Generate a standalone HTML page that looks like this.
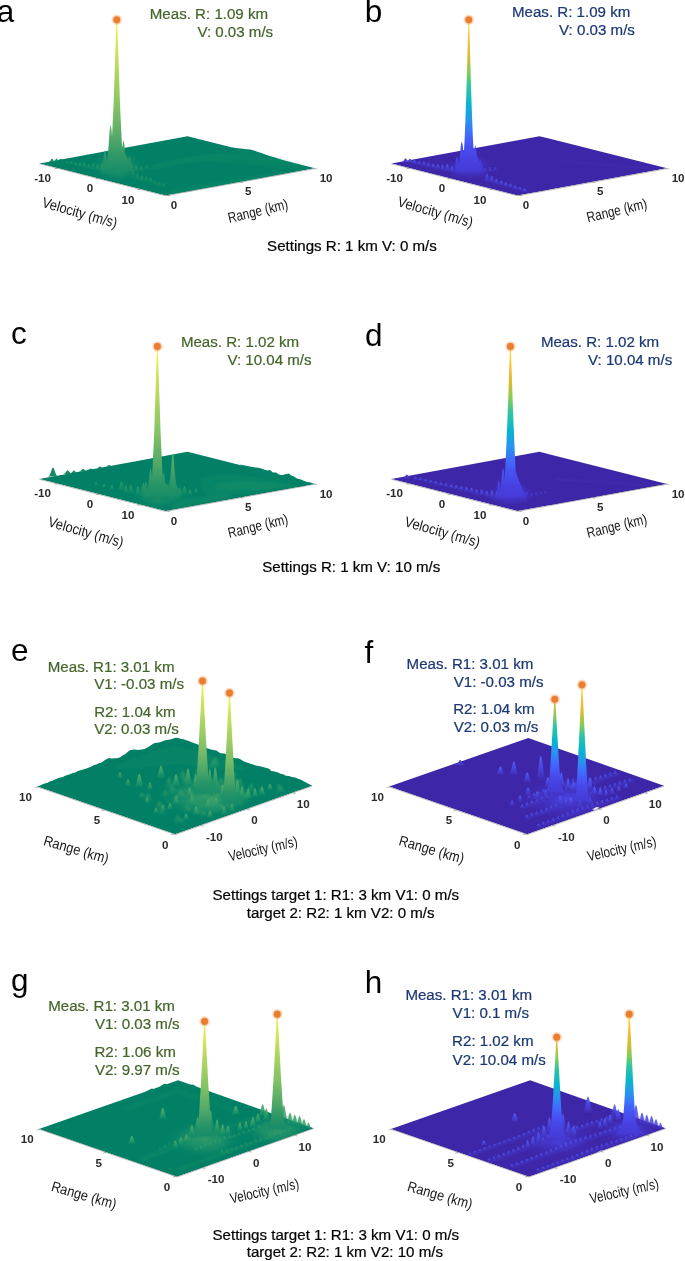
<!DOCTYPE html>
<html><head><meta charset="utf-8"><title>Range-velocity measurements</title>
<style>
html,body{margin:0;padding:0;background:#fff;}
body{width:685px;height:1261px;overflow:hidden;}
svg{display:block;font-family:"Liberation Sans",Arial,sans-serif;}
</style></head><body>
<svg width="685" height="1261" viewBox="0 0 685 1261">
<defs>
<linearGradient id="GLf" x1="0" y1="0" x2="0" y2="1"><stop offset="0" stop-color="#58af6a"/><stop offset="0.4" stop-color="#3aa26a" stop-opacity="0.95"/><stop offset="0.75" stop-color="#1a9269" stop-opacity="0.75"/><stop offset="1" stop-color="#008066" stop-opacity="0"/></linearGradient>
<linearGradient id="BLf" x1="0" y1="0" x2="0" y2="1"><stop offset="0" stop-color="#5566f8"/><stop offset="0.4" stop-color="#4c4ce6" stop-opacity="0.95"/><stop offset="0.75" stop-color="#4538c8" stop-opacity="0.75"/><stop offset="1" stop-color="#3E26A8" stop-opacity="0"/></linearGradient>
<radialGradient id="GH"><stop offset="0" stop-color="#3aa06b" stop-opacity="0.95"/><stop offset="0.5" stop-color="#2a976a" stop-opacity="0.6"/><stop offset="1" stop-color="#008066" stop-opacity="0"/></radialGradient>
<radialGradient id="BH"><stop offset="0" stop-color="#4a4af0" stop-opacity="0.95"/><stop offset="0.5" stop-color="#4538d0" stop-opacity="0.6"/><stop offset="1" stop-color="#3E26A8" stop-opacity="0"/></radialGradient>
<filter id="soft" x="-0.05" y="-0.2" width="1.1" height="1.4"><feGaussianBlur stdDeviation="0.45"/></filter>
<filter id="soft1" x="-0.05" y="-0.2" width="1.1" height="1.4"><feGaussianBlur stdDeviation="0.8"/></filter>
<filter id="soft2" x="-0.1" y="-0.3" width="1.2" height="1.6"><feGaussianBlur stdDeviation="1.3"/></filter>
<radialGradient id="glow"><stop offset="0.55" stop-color="#f08a3c" stop-opacity="0.6"/><stop offset="0.8" stop-color="#f39a55" stop-opacity="0.3"/><stop offset="1" stop-color="#f8b080" stop-opacity="0"/></radialGradient>
<clipPath id="c1"><polygon points="39.4,163.4 165.6,195.5 315,168.3 321,168.3 321,-23.8 33.4,-23.8 33.4,163.4"/></clipPath>
<linearGradient id="g2" gradientUnits="userSpaceOnUse" x1="0" y1="21.0" x2="0" y2="178.0"><stop offset="0" stop-color="#f4f34a"/><stop offset="0.08" stop-color="#e3ee52"/><stop offset="0.3" stop-color="#b5d95f"/><stop offset="0.55" stop-color="#84c266"/><stop offset="0.75" stop-color="#52a868"/><stop offset="0.86" stop-color="#2f9768"/><stop offset="0.95" stop-color="#1a8e68" stop-opacity="0.7"/><stop offset="1" stop-color="#008066" stop-opacity="0"/></linearGradient>
<clipPath id="c3"><polygon points="391.4,163.4 517.6,195.5 667,168.3 673,168.3 673,-23.8 385.4,-23.8 385.4,163.4"/></clipPath>
<linearGradient id="g4" gradientUnits="userSpaceOnUse" x1="0" y1="21.0" x2="0" y2="178.0"><stop offset="0" stop-color="#f9f015"/><stop offset="0.06" stop-color="#fbd02e"/><stop offset="0.14" stop-color="#f9ba38"/><stop offset="0.24" stop-color="#cdbe32"/><stop offset="0.33" stop-color="#81cc59"/><stop offset="0.41" stop-color="#31c69f"/><stop offset="0.53" stop-color="#08b5d0"/><stop offset="0.63" stop-color="#2796eb"/><stop offset="0.71" stop-color="#3e6fff"/><stop offset="0.8" stop-color="#4850f0"/><stop offset="0.885" stop-color="#4641e1"/><stop offset="0.95" stop-color="#463cd8" stop-opacity="0.7"/><stop offset="1" stop-color="#3E26A8" stop-opacity="0"/></linearGradient>
<clipPath id="c5"><polygon points="39.4,479 165.6,511.1 315,483.9 321,483.9 321,291.8 33.4,291.8 33.4,479"/></clipPath>
<linearGradient id="g6" gradientUnits="userSpaceOnUse" x1="0" y1="347.5" x2="0" y2="503.0"><stop offset="0" stop-color="#f4f34a"/><stop offset="0.08" stop-color="#e3ee52"/><stop offset="0.3" stop-color="#b5d95f"/><stop offset="0.55" stop-color="#84c266"/><stop offset="0.75" stop-color="#52a868"/><stop offset="0.86" stop-color="#2f9768"/><stop offset="0.95" stop-color="#1a8e68" stop-opacity="0.7"/><stop offset="1" stop-color="#008066" stop-opacity="0"/></linearGradient>
<clipPath id="c7"><polygon points="391.4,479 517.6,511.1 667,483.9 673,483.9 673,291.8 385.4,291.8 385.4,479"/></clipPath>
<linearGradient id="g8" gradientUnits="userSpaceOnUse" x1="0" y1="347.8" x2="0" y2="504.0"><stop offset="0" stop-color="#f9f015"/><stop offset="0.06" stop-color="#fbd02e"/><stop offset="0.14" stop-color="#f9ba38"/><stop offset="0.24" stop-color="#cdbe32"/><stop offset="0.33" stop-color="#81cc59"/><stop offset="0.41" stop-color="#31c69f"/><stop offset="0.53" stop-color="#08b5d0"/><stop offset="0.63" stop-color="#2796eb"/><stop offset="0.71" stop-color="#3e6fff"/><stop offset="0.8" stop-color="#4850f0"/><stop offset="0.885" stop-color="#4641e1"/><stop offset="0.95" stop-color="#463cd8" stop-opacity="0.7"/><stop offset="1" stop-color="#3E26A8" stop-opacity="0"/></linearGradient>
<clipPath id="c9"><polygon points="37.2,786.5 175.2,834.3 312,785.8 318,785.8 318,577.9 31.2,577.9 31.2,786.5"/></clipPath>
<linearGradient id="g10" gradientUnits="userSpaceOnUse" x1="0" y1="682.0" x2="0" y2="797.0"><stop offset="0" stop-color="#f4f34a"/><stop offset="0.08" stop-color="#e3ee52"/><stop offset="0.3" stop-color="#b5d95f"/><stop offset="0.55" stop-color="#84c266"/><stop offset="0.75" stop-color="#52a868"/><stop offset="0.86" stop-color="#2f9768"/><stop offset="0.95" stop-color="#1a8e68" stop-opacity="0.7"/><stop offset="1" stop-color="#008066" stop-opacity="0"/></linearGradient>
<linearGradient id="g11" gradientUnits="userSpaceOnUse" x1="0" y1="694.0" x2="0" y2="806.0"><stop offset="0" stop-color="#f4f34a"/><stop offset="0.08" stop-color="#e3ee52"/><stop offset="0.3" stop-color="#b5d95f"/><stop offset="0.55" stop-color="#84c266"/><stop offset="0.75" stop-color="#52a868"/><stop offset="0.86" stop-color="#2f9768"/><stop offset="0.95" stop-color="#1a8e68" stop-opacity="0.7"/><stop offset="1" stop-color="#008066" stop-opacity="0"/></linearGradient>
<clipPath id="c12"><polygon points="389.2,786.5 527.2,834.3 664,785.8 670,785.8 670,577.9 383.2,577.9 383.2,786.5"/></clipPath>
<linearGradient id="g13" gradientUnits="userSpaceOnUse" x1="0" y1="685.5" x2="0" y2="806.0"><stop offset="0" stop-color="#f9f015"/><stop offset="0.06" stop-color="#fbd02e"/><stop offset="0.14" stop-color="#f9ba38"/><stop offset="0.24" stop-color="#cdbe32"/><stop offset="0.33" stop-color="#81cc59"/><stop offset="0.41" stop-color="#31c69f"/><stop offset="0.53" stop-color="#08b5d0"/><stop offset="0.63" stop-color="#2796eb"/><stop offset="0.71" stop-color="#3e6fff"/><stop offset="0.8" stop-color="#4850f0"/><stop offset="0.885" stop-color="#4641e1"/><stop offset="0.95" stop-color="#463cd8" stop-opacity="0.7"/><stop offset="1" stop-color="#3E26A8" stop-opacity="0"/></linearGradient>
<linearGradient id="g14" gradientUnits="userSpaceOnUse" x1="0" y1="676.5" x2="0" y2="797.0"><stop offset="0" stop-color="#f9f015"/><stop offset="0.06" stop-color="#fbd02e"/><stop offset="0.14" stop-color="#f9ba38"/><stop offset="0.24" stop-color="#cdbe32"/><stop offset="0.33" stop-color="#81cc59"/><stop offset="0.41" stop-color="#31c69f"/><stop offset="0.53" stop-color="#08b5d0"/><stop offset="0.63" stop-color="#2796eb"/><stop offset="0.71" stop-color="#3e6fff"/><stop offset="0.8" stop-color="#4850f0"/><stop offset="0.885" stop-color="#4641e1"/><stop offset="0.95" stop-color="#463cd8" stop-opacity="0.7"/><stop offset="1" stop-color="#3E26A8" stop-opacity="0"/></linearGradient>
<clipPath id="c15"><polygon points="39,1128.9 177,1176.7 313.8,1128.2 319.8,1128.2 319.8,920.3 33,920.3 33,1128.9"/></clipPath>
<linearGradient id="g16" gradientUnits="userSpaceOnUse" x1="0" y1="1022.4" x2="0" y2="1139.0"><stop offset="0" stop-color="#f4f34a"/><stop offset="0.08" stop-color="#e3ee52"/><stop offset="0.3" stop-color="#b5d95f"/><stop offset="0.55" stop-color="#84c266"/><stop offset="0.75" stop-color="#52a868"/><stop offset="0.86" stop-color="#2f9768"/><stop offset="0.95" stop-color="#1a8e68" stop-opacity="0.7"/><stop offset="1" stop-color="#008066" stop-opacity="0"/></linearGradient>
<linearGradient id="g17" gradientUnits="userSpaceOnUse" x1="0" y1="1015.2" x2="0" y2="1132.0"><stop offset="0" stop-color="#f4f34a"/><stop offset="0.08" stop-color="#e3ee52"/><stop offset="0.3" stop-color="#b5d95f"/><stop offset="0.55" stop-color="#84c266"/><stop offset="0.75" stop-color="#52a868"/><stop offset="0.86" stop-color="#2f9768"/><stop offset="0.95" stop-color="#1a8e68" stop-opacity="0.7"/><stop offset="1" stop-color="#008066" stop-opacity="0"/></linearGradient>
<clipPath id="c18"><polygon points="391,1128.9 529,1176.7 665.8,1128.2 671.8,1128.2 671.8,920.3 385,920.3 385,1128.9"/></clipPath>
<linearGradient id="g19" gradientUnits="userSpaceOnUse" x1="0" y1="1015.2" x2="0" y2="1139.0"><stop offset="0" stop-color="#f9f015"/><stop offset="0.06" stop-color="#fbd02e"/><stop offset="0.14" stop-color="#f9ba38"/><stop offset="0.24" stop-color="#cdbe32"/><stop offset="0.33" stop-color="#81cc59"/><stop offset="0.41" stop-color="#31c69f"/><stop offset="0.53" stop-color="#08b5d0"/><stop offset="0.63" stop-color="#2796eb"/><stop offset="0.71" stop-color="#3e6fff"/><stop offset="0.8" stop-color="#4850f0"/><stop offset="0.885" stop-color="#4641e1"/><stop offset="0.95" stop-color="#463cd8" stop-opacity="0.7"/><stop offset="1" stop-color="#3E26A8" stop-opacity="0"/></linearGradient>
<linearGradient id="g20" gradientUnits="userSpaceOnUse" x1="0" y1="1017.0" x2="0" y2="1143.0"><stop offset="0" stop-color="#f9f015"/><stop offset="0.06" stop-color="#fbd02e"/><stop offset="0.14" stop-color="#f9ba38"/><stop offset="0.24" stop-color="#cdbe32"/><stop offset="0.33" stop-color="#81cc59"/><stop offset="0.41" stop-color="#31c69f"/><stop offset="0.53" stop-color="#08b5d0"/><stop offset="0.63" stop-color="#2796eb"/><stop offset="0.71" stop-color="#3e6fff"/><stop offset="0.8" stop-color="#4850f0"/><stop offset="0.885" stop-color="#4641e1"/><stop offset="0.95" stop-color="#463cd8" stop-opacity="0.7"/><stop offset="1" stop-color="#3E26A8" stop-opacity="0"/></linearGradient>
</defs>
<rect width="685" height="1261" fill="#fff"/>
<g opacity="0.999">
<g clip-path="url(#c1)">
<polygon points="39.4,163.4 165.6,195.5 315,168.3 187.5,136.2" fill="#008066"/>
<g filter="url(#soft)" opacity="1">
<path d="M48.5,162 L48.5,162 L49.1,161.9 L49.7,161.6 L50.2,161 L50.8,160 L51.4,159 L52,158.6 L52.6,159 L53.2,160 L53.8,161 L54.3,161.6 L54.9,161.9 L55.5,162 L55.5,162Z" fill="#1a8e69"/>
<path d="M53.3,161.5 L53.3,161.5 L53.8,161.4 L54.4,161.1 L54.9,160.6 L55.4,159.7 L56,158.8 L56.5,158.4 L57,158.8 L57.6,159.7 L58.1,160.6 L58.6,161.1 L59.2,161.4 L59.7,161.5 L59.7,161.5Z" fill="#1a8e69"/>
<path d="M57.8,160 L57.8,160 L58.3,160 L58.9,159.9 L59.4,159.6 L59.9,159.3 L60.5,158.9 L61,158.8 L61.5,158.9 L62.1,159.3 L62.6,159.6 L63.1,159.9 L63.7,160 L64.2,160 L64.2,160Z" fill="#1a8e69"/>
</g>
<polygon points="232,147.4 240,148.6 243,148.8 246,149.2 250,149.6 254,150.6 258,152 262,153.2 268,155.6 275,157.4 285,161 260,160 236,152" fill="#028166" opacity="1"/>
<path filter="url(#soft2)" d="M150,166 C175,158 200,154 232,153 C262,154 285,160 305,167 C280,166 250,161 225,160 C195,161 172,165 150,170 Z" fill="#118b68" opacity="0.55"/>
<path filter="url(#soft2)" d="M170,190 L250,176 L290,172 L300,173.5 L230,187 L175,196 Z" fill="#0f8a68" opacity="0.45"/>
<path filter="url(#soft2)" d="M205,158 L300,166 L312,168.5 L300,170 L215,162 Z" fill="#0d8a68" opacity="0.45"/>
<path filter="url(#soft2)" d="M236,149.5 L262,154 L262,156.5 L236,152 Z" fill="#0d8a68" opacity="0.5"/>
<ellipse cx="117.5" cy="166" rx="27" ry="17" fill="url(#GH)" opacity="1"/>
<g filter="url(#soft)" opacity="0.45">
<path d="M97.5,173 L97.5,172.9 L98.3,172.6 L99,171.8 L99.8,170 L100.5,167.3 L101.3,164.5 L102,163.3 L102.7,164.5 L103.5,167.3 L104.2,170 L105,171.8 L105.7,172.6 L106.5,172.9 L106.5,173Z" fill="url(#GLf)"/>
<path d="M93.1,171.9 L93.1,171.8 L93.9,171.6 L94.6,170.9 L95.4,169.5 L96.1,167.3 L96.9,165 L97.6,164.1 L98.3,165 L99.1,167.3 L99.8,169.5 L100.6,170.9 L101.3,171.6 L102.1,171.8 L102.1,171.9Z" fill="url(#GLf)"/>
<path d="M88.7,170.8 L88.7,170.7 L89.5,170.5 L90.2,169.8 L91,168.2 L91.7,165.8 L92.5,163.4 L93.2,162.3 L93.9,163.4 L94.7,165.8 L95.4,168.2 L96.2,169.8 L96.9,170.5 L97.7,170.7 L97.7,170.8Z" fill="url(#GLf)"/>
<path d="M84.3,169.7 L84.3,169.6 L85.1,169.5 L85.8,169 L86.6,167.9 L87.3,166.2 L88.1,164.6 L88.8,163.9 L89.5,164.6 L90.3,166.2 L91,167.9 L91.8,169 L92.5,169.5 L93.3,169.6 L93.3,169.7Z" fill="url(#GLf)"/>
<path d="M79.9,168.6 L79.9,168.5 L80.7,168.4 L81.4,167.8 L82.2,166.7 L82.9,164.9 L83.7,163.1 L84.4,162.3 L85.1,163.1 L85.9,164.9 L86.6,166.7 L87.4,167.8 L88.1,168.4 L88.9,168.5 L88.9,168.6Z" fill="url(#GLf)"/>
<path d="M75.5,167.5 L75.5,167.5 L76.3,167.3 L77,166.9 L77.8,165.9 L78.5,164.4 L79.3,162.9 L80,162.3 L80.7,162.9 L81.5,164.4 L82.2,165.9 L83,166.9 L83.7,167.3 L84.5,167.5 L84.5,167.5Z" fill="url(#GLf)"/>
<path d="M71.1,166.4 L71.1,166.4 L71.9,166.2 L72.6,165.9 L73.4,165.1 L74.1,164 L74.9,162.8 L75.6,162.3 L76.3,162.8 L77.1,164 L77.8,165.1 L78.6,165.9 L79.3,166.2 L80.1,166.4 L80.1,166.4Z" fill="url(#GLf)"/>
<path d="M66.7,165.3 L66.7,165.3 L67.5,165.1 L68.2,164.8 L69,164 L69.7,162.7 L70.5,161.4 L71.2,160.9 L71.9,161.4 L72.7,162.7 L73.4,164 L74.2,164.8 L74.9,165.1 L75.7,165.3 L75.7,165.3Z" fill="url(#GLf)"/>
<path d="M62.3,164.2 L62.3,164.2 L63.1,164.1 L63.8,163.8 L64.6,163.2 L65.3,162.2 L66.1,161.2 L66.8,160.8 L67.5,161.2 L68.3,162.2 L69,163.2 L69.8,163.8 L70.5,164.1 L71.3,164.2 L71.3,164.2Z" fill="url(#GLf)"/>
</g>
<g filter="url(#soft)" opacity="0.4">
<path d="M128.5,180 L128.5,179.9 L129.3,179.6 L130,178.6 L130.8,176.6 L131.5,173.4 L132.3,170.2 L133,168.8 L133.7,170.2 L134.5,173.4 L135.2,176.6 L136,178.6 L136.7,179.6 L137.5,179.9 L137.5,180Z" fill="url(#GLf)"/>
<path d="M132.9,181.1 L132.9,181 L133.7,180.8 L134.4,180.1 L135.2,178.6 L135.9,176.3 L136.7,174 L137.4,173 L138.1,174 L138.9,176.3 L139.6,178.6 L140.4,180.1 L141.1,180.8 L141.9,181 L141.9,181.1Z" fill="url(#GLf)"/>
<path d="M137.3,182.2 L137.3,182.1 L138.1,181.9 L138.8,181.3 L139.6,180 L140.3,178 L141.1,176 L141.8,175.1 L142.5,176 L143.3,178 L144,180 L144.8,181.3 L145.5,181.9 L146.3,182.1 L146.3,182.2Z" fill="url(#GLf)"/>
<path d="M141.7,183.3 L141.7,183.2 L142.5,183 L143.2,182.4 L144,181.1 L144.7,179 L145.5,177 L146.2,176.1 L146.9,177 L147.7,179 L148.4,181.1 L149.2,182.4 L149.9,183 L150.7,183.2 L150.7,183.3Z" fill="url(#GLf)"/>
<path d="M146.1,184.4 L146.1,184.3 L146.9,184.1 L147.6,183.5 L148.4,182.2 L149.1,180.1 L149.9,178 L150.6,177.1 L151.3,178 L152.1,180.1 L152.8,182.2 L153.6,183.5 L154.3,184.1 L155.1,184.3 L155.1,184.4Z" fill="url(#GLf)"/>
<path d="M150.5,185.5 L150.5,185.5 L151.3,185.3 L152,184.9 L152.8,184 L153.5,182.6 L154.3,181.2 L155,180.6 L155.7,181.2 L156.5,182.6 L157.2,184 L158,184.9 L158.7,185.3 L159.5,185.5 L159.5,185.5Z" fill="url(#GLf)"/>
<path d="M154.9,186.6 L154.9,186.6 L155.7,186.4 L156.4,186 L157.2,185.2 L157.9,183.9 L158.7,182.6 L159.4,182.1 L160.1,182.6 L160.9,183.9 L161.6,185.2 L162.4,186 L163.1,186.4 L163.9,186.6 L163.9,186.6Z" fill="url(#GLf)"/>
<path d="M159.3,187.7 L159.3,187.7 L160.1,187.5 L160.8,187.1 L161.6,186.3 L162.3,185 L163.1,183.6 L163.8,183.1 L164.5,183.6 L165.3,185 L166,186.3 L166.8,187.1 L167.5,187.5 L168.3,187.7 L168.3,187.7Z" fill="url(#GLf)"/>
</g>
<g filter="url(#soft)" opacity="0.4">
<path d="M126.5,173.5 L126.5,173.4 L127.3,173.1 L128,172.3 L128.8,170.4 L129.5,167.6 L130.3,164.7 L131,163.4 L131.7,164.7 L132.5,167.6 L133.2,170.4 L134,172.3 L134.7,173.1 L135.5,173.4 L135.5,173.5Z" fill="url(#GLf)"/>
<path d="M131.7,172.6 L131.7,172.5 L132.5,172.3 L133.2,171.7 L134,170.4 L134.7,168.3 L135.5,166.2 L136.2,165.3 L136.9,166.2 L137.7,168.3 L138.4,170.4 L139.2,171.7 L139.9,172.3 L140.7,172.5 L140.7,172.6Z" fill="url(#GLf)"/>
<path d="M136.9,171.7 L136.9,171.6 L137.7,171.5 L138.4,171 L139.2,169.9 L139.9,168.3 L140.7,166.7 L141.4,166 L142.1,166.7 L142.9,168.3 L143.6,169.9 L144.4,171 L145.1,171.5 L145.9,171.6 L145.9,171.7Z" fill="url(#GLf)"/>
<path d="M142.1,170.8 L142.1,170.7 L142.9,170.6 L143.6,170.1 L144.4,169 L145.1,167.3 L145.9,165.6 L146.6,164.9 L147.3,165.6 L148.1,167.3 L148.8,169 L149.6,170.1 L150.3,170.6 L151.1,170.7 L151.1,170.8Z" fill="url(#GLf)"/>
</g>
<path d="M90.3,180 L90.3,179.7 L94.8,178.5 L99.4,175.2 L103.9,168.1 L108.4,157 L113,145.8 L117.5,141 L122,145.8 L126.6,157 L131.1,168.1 L135.6,175.2 L140.2,178.5 L144.7,179.7 L144.7,180Z" fill="url(#g2)"/>
<path d="M104.8,172 L104.8,171.6 L105.8,170.2 L106.8,166.2 L107.7,157.5 L108.7,144 L109.6,130.4 L110.6,124.6 L111.6,130.4 L112.5,144 L113.5,157.5 L114.4,166.2 L115.4,170.2 L116.4,171.6 L116.4,172Z" fill="url(#g2)"/>
<path d="M118.7,174 L118.7,173.7 L119.5,172.7 L120.3,169.9 L121.1,163.6 L121.9,153.9 L122.7,144.2 L123.5,140 L124.3,144.2 L125.1,153.9 L125.9,163.6 L126.7,169.9 L127.5,172.7 L128.3,173.7 L128.3,174Z" fill="url(#g2)"/>
<path d="M99.9,176 L99.9,175.8 L100.7,175 L101.6,172.8 L102.4,168 L103.3,160.6 L104.1,153.2 L105,150 L105.9,153.2 L106.7,160.6 L107.6,168 L108.4,172.8 L109.3,175 L110.1,175.8 L110.1,176Z" fill="url(#g2)"/>
<path d="M124.7,177 L124.7,176.8 L125.5,176.2 L126.3,174.4 L127.1,170.6 L127.9,164.6 L128.7,158.6 L129.5,156 L130.3,158.6 L131.1,164.6 L131.9,170.6 L132.7,174.4 L133.5,176.2 L134.3,176.8 L134.3,177Z" fill="url(#g2)"/>
<polygon points="116.4,21 116,31.6 115.7,42.3 115.3,52.9 115,63.6 114.6,74.2 114.2,84.9 113.9,95.5 113.5,106.1 113,116.8 112.5,127.4 112,138.1 111.4,148.7 110.7,159.4 109.9,170 123.7,170 122.9,159.4 122.2,148.7 121.6,138.1 121.1,127.4 120.6,116.8 120.1,106.1 119.7,95.5 119.4,84.9 119,74.2 118.6,63.6 118.3,52.9 117.9,42.3 117.6,31.6 117.2,21" fill="url(#g2)"/>
<circle cx="116.8" cy="19.8" r="5.9" fill="url(#glow)"/><circle cx="116.8" cy="19.8" r="3.4" fill="#e97d30"/>
</g>
<path d="M39.4,163.7 L165.6,195.8 L315,168.6 M57.7,168.1 l-3.1,0.6 M98.7,178.5 l-3.1,0.6 M140.4,189.1 l-3.1,0.6 M167.1,195.2 l3.1,0.8 M240.3,181.9 l3.1,0.8 M314.3,168.4 l3.1,0.8" fill="none" stroke="#555" stroke-width="0.55" opacity="0.75"/>
<text x="42.6" y="181.5" font-size="11.6" fill="#2a2a2a" text-anchor="middle" font-weight="bold">-10</text>
<text x="90" y="192.4" font-size="11.6" fill="#2a2a2a" text-anchor="middle" font-weight="bold">0</text>
<text x="128" y="203.5" font-size="11.6" fill="#2a2a2a" text-anchor="middle" font-weight="bold">10</text>
<text x="174" y="209.1" font-size="11.6" fill="#2a2a2a" text-anchor="middle" font-weight="bold">0</text>
<text x="248.2" y="195.3" font-size="11.6" fill="#2a2a2a" text-anchor="middle" font-weight="bold">5</text>
<text x="326.1" y="181.9" font-size="11.6" fill="#2a2a2a" text-anchor="middle" font-weight="bold">10</text>
<text transform="translate(78.4,217.4) rotate(16) scale(0.886,1)" font-size="14.6" fill="#161616" text-anchor="middle">Velocity (m/s)</text>
<text transform="translate(259.1,215.8) rotate(-13.6) scale(0.805,1)" font-size="14.6" fill="#161616" text-anchor="middle">Range (km)</text>
<text x="-3.2" y="22.4" font-size="31.5" fill="#000" text-anchor="start" font-weight="normal">a</text>
<text x="149.8" y="18.9" font-size="15.1" fill="#44652a" text-anchor="start" font-weight="normal" stroke="#44652a" stroke-width="0.22">Meas. R: 1.09 km</text>
<text x="197.4" y="36.6" font-size="15.1" fill="#44652a" text-anchor="start" font-weight="normal" stroke="#44652a" stroke-width="0.22">V: 0.03 m/s</text>
<g clip-path="url(#c3)">
<polygon points="391.4,163.4 517.6,195.5 667,168.3 539.5,136.2" fill="#3E26A8"/>
<g filter="url(#soft)" opacity="1">
<path d="M401.7,162 L401.7,162 L402.3,161.9 L402.9,161.5 L403.6,160.8 L404.2,159.8 L404.9,158.7 L405.5,158.2 L406.1,158.7 L406.8,159.8 L407.4,160.8 L408.1,161.5 L408.7,161.9 L409.3,162 L409.3,162Z" fill="#4a3fc8"/>
<path d="M406.5,161.5 L406.5,161.5 L407.1,161.4 L407.7,161.2 L408.2,160.7 L408.8,159.9 L409.4,159.1 L410,158.8 L410.6,159.1 L411.2,159.9 L411.8,160.7 L412.3,161.2 L412.9,161.4 L413.5,161.5 L413.5,161.5Z" fill="#4a3fc8"/>
</g>
<path filter="url(#soft2)" d="M560,160.5 L640,166.5 L660,168.6 L640,168.2 L560,162.5 Z" fill="#4a35b8" opacity="0.45"/>
<ellipse cx="470" cy="167" rx="25" ry="15" fill="url(#BH)" opacity="1"/>
<g filter="url(#soft)" opacity="0.8">
<path d="M447.2,174 L447.2,173.9 L448,173.7 L448.8,173 L449.6,171.4 L450.4,169 L451.2,166.6 L452,165.6 L452.8,166.6 L453.6,169 L454.4,171.4 L455.2,173 L456,173.7 L456.8,173.9 L456.8,174Z" fill="url(#BLf)"/>
<path d="M442.5,172.8 L442.5,172.7 L443.3,172.5 L444.1,171.7 L444.9,170 L445.7,167.3 L446.5,164.6 L447.3,163.5 L448.1,164.6 L448.9,167.3 L449.7,170 L450.5,171.7 L451.3,172.5 L452.1,172.7 L452.1,172.8Z" fill="url(#BLf)"/>
<path d="M437.8,171.6 L437.8,171.5 L438.6,171.3 L439.4,170.7 L440.2,169.4 L441,167.3 L441.8,165.2 L442.6,164.3 L443.4,165.2 L444.2,167.3 L445,169.4 L445.8,170.7 L446.6,171.3 L447.4,171.5 L447.4,171.6Z" fill="url(#BLf)"/>
<path d="M433.1,170.4 L433.1,170.3 L433.9,170.2 L434.7,169.6 L435.5,168.4 L436.3,166.6 L437.1,164.8 L437.9,164 L438.7,164.8 L439.5,166.6 L440.3,168.4 L441.1,169.6 L441.9,170.2 L442.7,170.3 L442.7,170.4Z" fill="url(#BLf)"/>
<path d="M428.4,169.2 L428.4,169.1 L429.2,169 L430,168.5 L430.8,167.4 L431.6,165.8 L432.4,164.2 L433.2,163.5 L434,164.2 L434.8,165.8 L435.6,167.4 L436.4,168.5 L437.2,169 L438,169.1 L438,169.2Z" fill="url(#BLf)"/>
<path d="M423.7,168 L423.7,168 L424.5,167.8 L425.3,167.3 L426.1,166.3 L426.9,164.8 L427.7,163.2 L428.5,162.5 L429.3,163.2 L430.1,164.8 L430.9,166.3 L431.7,167.3 L432.5,167.8 L433.3,168 L433.3,168Z" fill="url(#BLf)"/>
<path d="M419,166.8 L419,166.8 L419.8,166.6 L420.6,166.1 L421.4,165.1 L422.2,163.5 L423,161.9 L423.8,161.2 L424.6,161.9 L425.4,163.5 L426.2,165.1 L427,166.1 L427.8,166.6 L428.6,166.8 L428.6,166.8Z" fill="url(#BLf)"/>
<path d="M414.3,165.6 L414.3,165.6 L415.1,165.4 L415.9,165.1 L416.7,164.2 L417.5,163 L418.3,161.7 L419.1,161.1 L419.9,161.7 L420.7,163 L421.5,164.2 L422.3,165.1 L423.1,165.4 L423.9,165.6 L423.9,165.6Z" fill="url(#BLf)"/>
<path d="M409.6,164.4 L409.6,164.4 L410.4,164.2 L411.2,163.9 L412,163 L412.8,161.8 L413.6,160.5 L414.4,160 L415.2,160.5 L416,161.8 L416.8,163 L417.6,163.9 L418.4,164.2 L419.2,164.4 L419.2,164.4Z" fill="url(#BLf)"/>
<path d="M404.9,163.2 L404.9,163.2 L405.7,163 L406.5,162.7 L407.3,161.9 L408.1,160.8 L408.9,159.6 L409.7,159.1 L410.5,159.6 L411.3,160.8 L412.1,161.9 L412.9,162.7 L413.7,163 L414.5,163.2 L414.5,163.2Z" fill="url(#BLf)"/>
</g>
<g filter="url(#soft)" opacity="0.8">
<path d="M482.2,182.7 L482.2,182.6 L483,182.4 L483.8,181.6 L484.6,179.9 L485.4,177.3 L486.2,174.6 L487,173.5 L487.8,174.6 L488.6,177.3 L489.4,179.9 L490.2,181.6 L491,182.4 L491.8,182.6 L491.8,182.7Z" fill="url(#BLf)"/>
<path d="M486.9,183.9 L486.9,183.8 L487.7,183.6 L488.5,182.9 L489.3,181.3 L490.1,178.9 L490.9,176.5 L491.7,175.4 L492.5,176.5 L493.3,178.9 L494.1,181.3 L494.9,182.9 L495.7,183.6 L496.5,183.8 L496.5,183.9Z" fill="url(#BLf)"/>
<path d="M491.6,185.1 L491.6,185 L492.4,184.9 L493.2,184.3 L494,183.1 L494.8,181.2 L495.6,179.3 L496.4,178.5 L497.2,179.3 L498,181.2 L498.8,183.1 L499.6,184.3 L500.4,184.9 L501.2,185 L501.2,185.1Z" fill="url(#BLf)"/>
<path d="M496.3,186.3 L496.3,186.2 L497.1,186.1 L497.9,185.6 L498.7,184.5 L499.5,182.8 L500.3,181.1 L501.1,180.4 L501.9,181.1 L502.7,182.8 L503.5,184.5 L504.3,185.6 L505.1,186.1 L505.9,186.2 L505.9,186.3Z" fill="url(#BLf)"/>
<path d="M501,187.5 L501,187.5 L501.8,187.3 L502.6,186.8 L503.4,185.8 L504.2,184.3 L505,182.7 L505.8,182 L506.6,182.7 L507.4,184.3 L508.2,185.8 L509,186.8 L509.8,187.3 L510.6,187.5 L510.6,187.5Z" fill="url(#BLf)"/>
<path d="M505.7,188.7 L505.7,188.7 L506.5,188.5 L507.3,188 L508.1,187 L508.9,185.5 L509.7,183.9 L510.5,183.2 L511.3,183.9 L512.1,185.5 L512.9,187 L513.7,188 L514.5,188.5 L515.3,188.7 L515.3,188.7Z" fill="url(#BLf)"/>
<path d="M510.4,189.9 L510.4,189.9 L511.2,189.7 L512,189.3 L512.8,188.5 L513.6,187.1 L514.4,185.8 L515.2,185.2 L516,185.8 L516.8,187.1 L517.6,188.5 L518.4,189.3 L519.2,189.7 L520,189.9 L520,189.9Z" fill="url(#BLf)"/>
<path d="M515.1,191.1 L515.1,191.1 L515.9,190.9 L516.7,190.6 L517.5,189.8 L518.3,188.7 L519.1,187.5 L519.9,187 L520.7,187.5 L521.5,188.7 L522.3,189.8 L523.1,190.6 L523.9,190.9 L524.7,191.1 L524.7,191.1Z" fill="url(#BLf)"/>
<path d="M519.8,192.3 L519.8,192.3 L520.6,192.2 L521.4,191.8 L522.2,191.1 L523,190 L523.8,188.8 L524.6,188.3 L525.4,188.8 L526.2,190 L527,191.1 L527.8,191.8 L528.6,192.2 L529.4,192.3 L529.4,192.3Z" fill="url(#BLf)"/>
</g>
<g filter="url(#soft)" opacity="0.5">
<path d="M475.8,174.5 L475.8,174.4 L476.5,174.2 L477.2,173.6 L477.9,172.2 L478.6,170.2 L479.3,168 L480,167.1 L480.7,168 L481.4,170.2 L482.1,172.2 L482.8,173.6 L483.5,174.2 L484.2,174.4 L484.2,174.5Z" fill="url(#BLf)"/>
<path d="M480.8,173.6 L480.8,173.5 L481.5,173.4 L482.2,172.9 L482.9,171.8 L483.6,170.2 L484.3,168.5 L485,167.8 L485.7,168.5 L486.4,170.2 L487.1,171.8 L487.8,172.9 L488.5,173.4 L489.2,173.5 L489.2,173.6Z" fill="url(#BLf)"/>
<path d="M485.8,172.7 L485.8,172.6 L486.5,172.5 L487.2,172 L487.9,170.9 L488.6,169.2 L489.3,167.5 L490,166.8 L490.7,167.5 L491.4,169.2 L492.1,170.9 L492.8,172 L493.5,172.5 L494.2,172.6 L494.2,172.7Z" fill="url(#BLf)"/>
<path d="M490.8,171.8 L490.8,171.8 L491.5,171.6 L492.2,171.2 L492.9,170.3 L493.6,168.9 L494.3,167.5 L495,166.9 L495.7,167.5 L496.4,168.9 L497.1,170.3 L497.8,171.2 L498.5,171.6 L499.2,171.8 L499.2,171.8Z" fill="url(#BLf)"/>
</g>
<path d="M440.7,182 L440.7,181.7 L445.5,180.7 L450.3,177.6 L455.1,171 L459.9,160.7 L464.7,150.4 L469.5,146 L474.3,150.4 L479.1,160.7 L483.9,171 L488.7,177.6 L493.5,180.7 L498.3,181.7 L498.3,182Z" fill="url(#g4)"/>
<path d="M456.4,174 L456.4,173.7 L457.3,172.8 L458.2,170 L459.1,163.9 L460,154.5 L460.9,145.1 L461.8,141 L462.7,145.1 L463.6,154.5 L464.5,163.9 L465.4,170 L466.3,172.8 L467.2,173.7 L467.2,174Z" fill="url(#g4)"/>
<path d="M470.2,176 L470.2,175.7 L471,174.8 L471.9,172.2 L472.7,166.5 L473.6,157.7 L474.4,148.8 L475.3,145 L476.2,148.8 L477,157.7 L477.9,166.5 L478.7,172.2 L479.6,174.8 L480.4,175.7 L480.4,176Z" fill="url(#g4)"/>
<path d="M451.6,178 L451.6,177.8 L452.5,177.2 L453.4,175.3 L454.3,171.3 L455.2,165 L456.1,158.7 L457,156 L457.9,158.7 L458.8,165 L459.7,171.3 L460.6,175.3 L461.5,177.2 L462.4,177.8 L462.4,178Z" fill="url(#g4)"/>
<path d="M475.1,179 L475.1,178.8 L476,178.3 L476.9,176.6 L477.8,172.9 L478.7,167.2 L479.6,161.5 L480.5,159 L481.4,161.5 L482.3,167.2 L483.2,172.9 L484.1,176.6 L485,178.3 L485.9,178.8 L485.9,179Z" fill="url(#g4)"/>
<polygon points="468.4,21 468.1,31.6 467.8,42.3 467.5,52.9 467.2,63.6 466.9,74.2 466.6,84.9 466.3,95.5 465.9,106.1 465.5,116.8 465.1,127.4 464.7,138.1 464.1,148.7 463.5,159.4 462.7,170 474.9,170 474.1,159.4 473.5,148.7 472.9,138.1 472.5,127.4 472.1,116.8 471.7,106.1 471.3,95.5 471,84.9 470.7,74.2 470.4,63.6 470.1,52.9 469.8,42.3 469.5,31.6 469.2,21" fill="url(#g4)"/>
<circle cx="468.8" cy="19.8" r="5.9" fill="url(#glow)"/><circle cx="468.8" cy="19.8" r="3.4" fill="#e97d30"/>
</g>
<path d="M391.4,163.7 L517.6,195.8 L667,168.6 M409.7,168.1 l-3.1,0.6 M450.7,178.5 l-3.1,0.6 M492.4,189.1 l-3.1,0.6 M519.1,195.2 l3.1,0.8 M592.3,181.9 l3.1,0.8 M666.3,168.4 l3.1,0.8" fill="none" stroke="#555" stroke-width="0.55" opacity="0.75"/>
<text x="394.6" y="181.5" font-size="11.6" fill="#2a2a2a" text-anchor="middle" font-weight="bold">-10</text>
<text x="442" y="192.4" font-size="11.6" fill="#2a2a2a" text-anchor="middle" font-weight="bold">0</text>
<text x="480" y="203.5" font-size="11.6" fill="#2a2a2a" text-anchor="middle" font-weight="bold">10</text>
<text x="526" y="209.1" font-size="11.6" fill="#2a2a2a" text-anchor="middle" font-weight="bold">0</text>
<text x="600.2" y="195.3" font-size="11.6" fill="#2a2a2a" text-anchor="middle" font-weight="bold">5</text>
<text x="678.1" y="181.9" font-size="11.6" fill="#2a2a2a" text-anchor="middle" font-weight="bold">10</text>
<text transform="translate(434.1,216.7) rotate(16) scale(0.886,1)" font-size="14.6" fill="#161616" text-anchor="middle">Velocity (m/s)</text>
<text transform="translate(617.9,215.3) rotate(-13.6) scale(0.805,1)" font-size="14.6" fill="#161616" text-anchor="middle">Range (km)</text>
<text x="364.8" y="22.3" font-size="31.5" fill="#000" text-anchor="start" font-weight="normal">b</text>
<text x="512" y="17.4" font-size="15.1" fill="#1c3874" text-anchor="start" font-weight="normal" stroke="#1c3874" stroke-width="0.22">Meas. R: 1.09 km</text>
<text x="559.1" y="35.1" font-size="15.1" fill="#1c3874" text-anchor="start" font-weight="normal" stroke="#1c3874" stroke-width="0.22">V: 0.03 m/s</text>
<text x="267.1" y="251.3" font-size="15.1" fill="#000" text-anchor="start" font-weight="normal" stroke="#000" stroke-width="0.22">Settings R: 1 km V: 0 m/s</text>
<g clip-path="url(#c5)">
<polygon points="39.4,479 165.6,511.1 315,483.9 187.5,451.8" fill="#008066"/>
<g filter="url(#soft)" opacity="1">
<path d="M47.6,476.5 L47.6,476.4 L48.5,476.2 L49.4,475.4 L50.3,473.7 L51.2,471.1 L52.1,468.5 L53,467.4 L53.9,468.5 L54.8,471.1 L55.7,473.7 L56.6,475.4 L57.5,476.2 L58.4,476.4 L58.4,476.5Z" fill="#138a67"/>
<path d="M62.9,474 L62.9,474 L63.7,473.9 L64.5,473.5 L65.3,472.8 L66.1,471.8 L66.9,470.7 L67.7,470.2 L68.5,470.7 L69.3,471.8 L70.1,472.8 L70.9,473.5 L71.7,473.9 L72.5,474 L72.5,474Z" fill="#138a67"/>
<path d="M70,473 L70,473 L70.7,472.9 L71.3,472.7 L72,472.2 L72.7,471.5 L73.3,470.8 L74,470.5 L74.7,470.8 L75.3,471.5 L76,472.2 L76.7,472.7 L77.3,472.9 L78,473 L78,473Z" fill="#138a67"/>
<path d="M78.2,471.5 L78.2,471.5 L79,471.4 L79.8,471.2 L80.6,470.7 L81.4,470 L82.2,469.3 L83,469 L83.8,469.3 L84.6,470 L85.4,470.7 L86.2,471.2 L87,471.4 L87.8,471.5 L87.8,471.5Z" fill="#138a67"/>
<path d="M87,470 L87,470 L87.7,469.9 L88.3,469.8 L89,469.5 L89.7,469.1 L90.3,468.7 L91,468.5 L91.7,468.7 L92.3,469.1 L93,469.5 L93.7,469.8 L94.3,469.9 L95,470 L95,470Z" fill="#138a67"/>
<path d="M96,468.3 L96,468.3 L96.7,468.2 L97.3,468.1 L98,467.7 L98.7,467.2 L99.3,466.7 L100,466.5 L100.7,466.7 L101.3,467.2 L102,467.7 L102.7,468.1 L103.3,468.2 L104,468.3 L104,468.3Z" fill="#138a67"/>
<path d="M105,466.5 L105,466.5 L105.7,466.4 L106.3,466.3 L107,466 L107.7,465.6 L108.3,465.2 L109,465 L109.7,465.2 L110.3,465.6 L111,466 L111.7,466.3 L112.3,466.4 L113,466.5 L113,466.5Z" fill="#138a67"/>
</g>
<polygon points="240,464.6 242.5,464.9 245,465.5 247.5,466 250,466.4 252.8,467.1 255.7,467.5 258.5,467.8 261.2,468.5 264,469.4 267.2,470.5 270,470 273,472.4 276,472.6 279,474.6 281.8,475.2 285,474.2 289.1,473.4 291,475.6 293.5,476.2 297,478.6 301,479.4 305.2,481.4 307.9,482.4 310.7,482.6 313.4,483.6 300,487 250,473" fill="#048267" opacity="1"/>
<path filter="url(#soft2)" d="M200,478 C225,470 260,476 300,486 L312,484.5 C280,490 240,496 205,497 Z" fill="#0f8b68" opacity="0.5"/>
<path filter="url(#soft2)" d="M215,484 C240,478 270,481 296,486 C270,489 240,492 215,490 Z" fill="#1a9069" opacity="0.45"/>
<path filter="url(#soft2)" d="M176,500 L225,494 L235,497 L190,507 L170,510 Z" fill="#1a9069" opacity="0.4"/>
<ellipse cx="160" cy="494" rx="30" ry="15" fill="url(#GH)" opacity="1"/>
<g filter="url(#soft)" opacity="0.55">
<path d="M116.3,492 L116.3,491.9 L117.1,491.6 L118,490.7 L118.8,488.6 L119.7,485.5 L120.5,482.4 L121.4,481 L122.3,482.4 L123.1,485.5 L124,488.6 L124.8,490.7 L125.7,491.6 L126.5,491.9 L126.5,492Z" fill="url(#GLf)"/>
<path d="M121.8,494 L121.8,493.9 L122.5,493.7 L123.2,492.9 L123.9,491.2 L124.6,488.7 L125.3,486.1 L126,485 L126.7,486.1 L127.4,488.7 L128.1,491.2 L128.8,492.9 L129.5,493.7 L130.2,493.9 L130.2,494Z" fill="url(#GLf)"/>
<path d="M126,495 L126,494.9 L126.8,494.6 L127.6,493.7 L128.4,491.6 L129.2,488.5 L130,485.4 L130.8,484 L131.6,485.4 L132.4,488.5 L133.2,491.6 L134,493.7 L134.8,494.6 L135.6,494.9 L135.6,495Z" fill="url(#GLf)"/>
<path d="M133,497 L133,496.9 L133.8,496.6 L134.6,495.6 L135.4,493.5 L136.2,490.2 L137,486.9 L137.8,485.5 L138.6,486.9 L139.4,490.2 L140.2,493.5 L141,495.6 L141.8,496.6 L142.6,496.9 L142.6,497Z" fill="url(#GLf)"/>
<path d="M138.5,498 L138.5,497.9 L139.3,497.4 L140.2,496.1 L141,493.3 L141.9,488.8 L142.7,484.4 L143.6,482.5 L144.5,484.4 L145.3,488.8 L146.2,493.3 L147,496.1 L147.9,497.4 L148.7,497.9 L148.7,498Z" fill="url(#GLf)"/>
<path d="M107.8,490 L107.8,490 L108.5,489.8 L109.2,489.3 L109.9,488.3 L110.6,486.7 L111.3,485.2 L112,484.5 L112.7,485.2 L113.4,486.7 L114.1,488.3 L114.8,489.3 L115.5,489.8 L116.2,490 L116.2,490Z" fill="url(#GLf)"/>
<path d="M99.8,488 L99.8,488 L100.5,487.8 L101.2,487.5 L101.9,486.6 L102.6,485.3 L103.3,484.1 L104,483.5 L104.7,484.1 L105.4,485.3 L106.1,486.6 L106.8,487.5 L107.5,487.8 L108.2,488 L108.2,488Z" fill="url(#GLf)"/>
<path d="M92,486 L92,486 L92.7,485.9 L93.3,485.5 L94,484.8 L94.7,483.6 L95.3,482.5 L96,482 L96.7,482.5 L97.3,483.6 L98,484.8 L98.7,485.5 L99.3,485.9 L100,486 L100,486Z" fill="url(#GLf)"/>
</g>
<g filter="url(#soft)" opacity="0.55">
<path d="M179.4,497 L179.4,496.9 L180.2,496.6 L181.1,495.6 L181.9,493.5 L182.8,490.2 L183.6,486.9 L184.5,485.5 L185.4,486.9 L186.2,490.2 L187.1,493.5 L187.9,495.6 L188.8,496.6 L189.6,496.9 L189.6,497Z" fill="url(#GLf)"/>
<path d="M175,498 L175,497.9 L175.8,497.6 L176.5,496.7 L177.3,494.8 L178,491.8 L178.8,488.8 L179.5,487.5 L180.2,488.8 L181,491.8 L181.7,494.8 L182.5,496.7 L183.2,497.6 L184,497.9 L184,498Z" fill="url(#GLf)"/>
<path d="M185.5,496 L185.5,495.9 L186.3,495.7 L187,495.1 L187.8,493.9 L188.5,491.9 L189.3,489.9 L190,489 L190.7,489.9 L191.5,491.9 L192.2,493.9 L193,495.1 L193.7,495.7 L194.5,495.9 L194.5,496Z" fill="url(#GLf)"/>
<path d="M191.8,494 L191.8,494 L192.5,493.8 L193.2,493.3 L193.9,492.3 L194.6,490.7 L195.3,489.2 L196,488.5 L196.7,489.2 L197.4,490.7 L198.1,492.3 L198.8,493.3 L199.5,493.8 L200.2,494 L200.2,494Z" fill="url(#GLf)"/>
</g>
<path d="M158.4,503 L158.4,502.8 L160.8,502.1 L163.2,500 L165.6,495.3 L168,488.2 L170.4,481.1 L172.8,478 L175.2,481.1 L177.6,488.2 L180,495.3 L182.4,500 L184.8,502.1 L187.2,502.8 L187.2,503Z" fill="url(#g6)"/>
<polygon points="172.3,454.5 172,457.5 171.8,460.6 171.5,463.6 171.3,466.6 171,469.7 170.7,472.7 170.4,475.8 170.1,478.8 169.7,481.8 169.3,484.9 168.9,487.9 168.4,490.9 167.8,494 167.2,497 178.4,497 177.8,494 177.2,490.9 176.7,487.9 176.3,484.9 175.9,481.8 175.5,478.8 175.2,475.8 174.9,472.7 174.6,469.7 174.3,466.6 174.1,463.6 173.8,460.6 173.6,457.5 173.3,454.5" fill="url(#g6)"/>
<path d="M126.5,509 L126.5,508.7 L131.8,507.8 L137.2,505 L142.5,498.9 L147.8,489.5 L153.2,480.1 L158.5,476 L163.8,480.1 L169.2,489.5 L174.5,498.9 L179.8,505 L185.2,507.8 L190.5,508.7 L190.5,509Z" fill="url(#g6)"/>
<path d="M145.2,500 L145.2,499.7 L146.1,498.8 L147,496.1 L147.9,490.2 L148.8,481.1 L149.7,471.9 L150.6,468 L151.5,471.9 L152.4,481.1 L153.3,490.2 L154.2,496.1 L155.1,498.8 L156,499.7 L156,500Z" fill="url(#g6)"/>
<path d="M158.4,501 L158.4,500.7 L159.2,499.9 L160.1,497.5 L160.9,492.3 L161.8,484.2 L162.6,476 L163.5,472.5 L164.4,476 L165.2,484.2 L166.1,492.3 L166.9,497.5 L167.8,499.9 L168.6,500.7 L168.6,501Z" fill="url(#g6)"/>
<path d="M140.9,503 L140.9,502.8 L141.7,502.2 L142.6,500.3 L143.4,496.3 L144.3,490 L145.1,483.7 L146,481 L146.9,483.7 L147.7,490 L148.6,496.3 L149.4,500.3 L150.3,502.2 L151.1,502.8 L151.1,503Z" fill="url(#g6)"/>
<path d="M162.7,503 L162.7,502.8 L163.5,502.3 L164.3,500.7 L165.1,497.2 L165.9,491.8 L166.7,486.3 L167.5,484 L168.3,486.3 L169.1,491.8 L169.9,497.2 L170.7,500.7 L171.5,502.3 L172.3,502.8 L172.3,503Z" fill="url(#g6)"/>
<polygon points="157,347.8 156.6,358.7 156.3,369.5 155.9,380.4 155.6,391.3 155.2,402.2 154.8,413 154.5,423.9 154.1,434.8 153.6,445.6 153.1,456.5 152.6,467.4 152,478.3 151.3,489.1 150.5,500 164.3,500 163.5,489.1 162.8,478.3 162.2,467.4 161.7,456.5 161.2,445.6 160.7,434.8 160.3,423.9 160,413 159.6,402.2 159.2,391.3 158.9,380.4 158.5,369.5 158.2,358.7 157.8,347.8" fill="url(#g6)"/>
<circle cx="157.4" cy="346.5" r="5.9" fill="url(#glow)"/><circle cx="157.4" cy="346.5" r="3.4" fill="#e97d30"/>
</g>
<path d="M39.4,479.3 L165.6,511.4 L315,484.2 M57.7,483.7 l-3.1,0.6 M98.7,494.1 l-3.1,0.6 M140.4,504.7 l-3.1,0.6 M167.1,510.8 l3.1,0.8 M240.3,497.5 l3.1,0.8 M314.3,484 l3.1,0.8" fill="none" stroke="#555" stroke-width="0.55" opacity="0.75"/>
<text x="42.6" y="497.1" font-size="11.6" fill="#2a2a2a" text-anchor="middle" font-weight="bold">-10</text>
<text x="90" y="508" font-size="11.6" fill="#2a2a2a" text-anchor="middle" font-weight="bold">0</text>
<text x="128" y="519.1" font-size="11.6" fill="#2a2a2a" text-anchor="middle" font-weight="bold">10</text>
<text x="174" y="524.7" font-size="11.6" fill="#2a2a2a" text-anchor="middle" font-weight="bold">0</text>
<text x="248.2" y="510.9" font-size="11.6" fill="#2a2a2a" text-anchor="middle" font-weight="bold">5</text>
<text x="326.1" y="497.5" font-size="11.6" fill="#2a2a2a" text-anchor="middle" font-weight="bold">10</text>
<text transform="translate(84.5,536.7) rotate(16) scale(0.886,1)" font-size="14.6" fill="#161616" text-anchor="middle">Velocity (m/s)</text>
<text transform="translate(259.1,530.7) rotate(-13.6) scale(0.805,1)" font-size="14.6" fill="#161616" text-anchor="middle">Range (km)</text>
<text x="11.1" y="343.8" font-size="31.5" fill="#000" text-anchor="start" font-weight="normal">c</text>
<text x="180.9" y="346.7" font-size="15.1" fill="#44652a" text-anchor="start" font-weight="normal" stroke="#44652a" stroke-width="0.22">Meas. R: 1.02 km</text>
<text x="227.4" y="364.9" font-size="15.1" fill="#44652a" text-anchor="start" font-weight="normal" stroke="#44652a" stroke-width="0.22">V: 10.04 m/s</text>
<g clip-path="url(#c7)">
<polygon points="391.4,479 517.6,511.1 667,483.9 539.5,451.8" fill="#3E26A8"/>
<g filter="url(#soft)" opacity="1">
<path d="M402.7,477.5 L402.7,477.5 L403.4,477.4 L404.1,477.1 L404.8,476.6 L405.5,475.8 L406.2,475 L406.9,474.6 L407.6,475 L408.3,475.8 L409,476.6 L409.7,477.1 L410.4,477.4 L411.1,477.5 L411.1,477.5Z" fill="#4a3fc8"/>
</g>
<path filter="url(#soft2)" d="M555,478 L640,483.5 L662,484.3 L640,485.5 L555,480.5 Z" fill="#4a35b8" opacity="0.4"/>
<ellipse cx="511" cy="494" rx="27" ry="14" fill="url(#BH)" opacity="1"/>
<g filter="url(#soft)" opacity="0.8">
<path d="M492.2,500.7 L492.2,500.6 L493,500.3 L493.8,499.5 L494.6,497.7 L495.4,494.9 L496.2,492.1 L497,490.9 L497.8,492.1 L498.6,494.9 L499.4,497.7 L500.2,499.5 L501,500.3 L501.8,500.6 L501.8,500.7Z" fill="url(#BLf)"/>
<path d="M487.1,499.4 L487.1,499.3 L487.9,499 L488.7,498.2 L489.5,496.5 L490.3,493.7 L491.1,491 L491.9,489.8 L492.7,491 L493.5,493.7 L494.3,496.5 L495.1,498.2 L495.9,499 L496.7,499.3 L496.7,499.4Z" fill="url(#BLf)"/>
<path d="M482,498.1 L482,498 L482.8,497.8 L483.6,497.1 L484.4,495.7 L485.2,493.5 L486,491.3 L486.8,490.3 L487.6,491.3 L488.4,493.5 L489.2,495.7 L490,497.1 L490.8,497.8 L491.6,498 L491.6,498.1Z" fill="url(#BLf)"/>
<path d="M476.9,496.8 L476.9,496.7 L477.7,496.5 L478.5,495.9 L479.3,494.4 L480.1,492.3 L480.9,490.1 L481.7,489.1 L482.5,490.1 L483.3,492.3 L484.1,494.4 L484.9,495.9 L485.7,496.5 L486.5,496.7 L486.5,496.8Z" fill="url(#BLf)"/>
<path d="M471.8,495.5 L471.8,495.4 L472.6,495.3 L473.4,494.7 L474.2,493.5 L475,491.7 L475.8,489.8 L476.6,489 L477.4,489.8 L478.2,491.7 L479,493.5 L479.8,494.7 L480.6,495.3 L481.4,495.4 L481.4,495.5Z" fill="url(#BLf)"/>
<path d="M466.7,494.2 L466.7,494.1 L467.5,493.9 L468.3,493.4 L469.1,492.1 L469.9,490.2 L470.7,488.3 L471.5,487.5 L472.3,488.3 L473.1,490.2 L473.9,492.1 L474.7,493.4 L475.5,493.9 L476.3,494.1 L476.3,494.2Z" fill="url(#BLf)"/>
<path d="M461.6,492.9 L461.6,492.8 L462.4,492.7 L463.2,492.1 L464,491 L464.8,489.2 L465.6,487.4 L466.4,486.6 L467.2,487.4 L468,489.2 L468.8,491 L469.6,492.1 L470.4,492.7 L471.2,492.8 L471.2,492.9Z" fill="url(#BLf)"/>
<path d="M456.5,491.6 L456.5,491.6 L457.3,491.4 L458.1,490.9 L458.9,489.9 L459.7,488.3 L460.5,486.7 L461.3,486 L462.1,486.7 L462.9,488.3 L463.7,489.9 L464.5,490.9 L465.3,491.4 L466.1,491.6 L466.1,491.6Z" fill="url(#BLf)"/>
<path d="M451.4,490.3 L451.4,490.3 L452.2,490.1 L453,489.6 L453.8,488.6 L454.6,487.1 L455.4,485.5 L456.2,484.8 L457,485.5 L457.8,487.1 L458.6,488.6 L459.4,489.6 L460.2,490.1 L461,490.3 L461,490.3Z" fill="url(#BLf)"/>
<path d="M446.3,489 L446.3,489 L447.1,488.8 L447.9,488.4 L448.7,487.6 L449.5,486.3 L450.3,484.9 L451.1,484.4 L451.9,484.9 L452.7,486.3 L453.5,487.6 L454.3,488.4 L455.1,488.8 L455.9,489 L455.9,489Z" fill="url(#BLf)"/>
<path d="M441.2,487.7 L441.2,487.7 L442,487.5 L442.8,487.1 L443.6,486.3 L444.4,485 L445.2,483.7 L446,483.1 L446.8,483.7 L447.6,485 L448.4,486.3 L449.2,487.1 L450,487.5 L450.8,487.7 L450.8,487.7Z" fill="url(#BLf)"/>
<path d="M436.1,486.4 L436.1,486.4 L436.9,486.2 L437.7,485.9 L438.5,485.1 L439.3,483.9 L440.1,482.7 L440.9,482.2 L441.7,482.7 L442.5,483.9 L443.3,485.1 L444.1,485.9 L444.9,486.2 L445.7,486.4 L445.7,486.4Z" fill="url(#BLf)"/>
<path d="M431,485.1 L431,485.1 L431.8,485 L432.6,484.6 L433.4,483.9 L434.2,482.8 L435,481.6 L435.8,481.2 L436.6,481.6 L437.4,482.8 L438.2,483.9 L439,484.6 L439.8,485 L440.6,485.1 L440.6,485.1Z" fill="url(#BLf)"/>
<path d="M425.9,483.8 L425.9,483.8 L426.7,483.7 L427.5,483.4 L428.3,482.7 L429.1,481.7 L429.9,480.6 L430.7,480.2 L431.5,480.6 L432.3,481.7 L433.1,482.7 L433.9,483.4 L434.7,483.7 L435.5,483.8 L435.5,483.8Z" fill="url(#BLf)"/>
<path d="M420.8,482.5 L420.8,482.5 L421.6,482.4 L422.4,482.1 L423.2,481.4 L424,480.4 L424.8,479.3 L425.6,478.9 L426.4,479.3 L427.2,480.4 L428,481.4 L428.8,482.1 L429.6,482.4 L430.4,482.5 L430.4,482.5Z" fill="url(#BLf)"/>
<path d="M415.7,481.2 L415.7,481.2 L416.5,481.1 L417.3,480.8 L418.1,480.1 L418.9,479.2 L419.7,478.2 L420.5,477.8 L421.3,478.2 L422.1,479.2 L422.9,480.1 L423.7,480.8 L424.5,481.1 L425.3,481.2 L425.3,481.2Z" fill="url(#BLf)"/>
<path d="M410.6,479.9 L410.6,479.9 L411.4,479.8 L412.2,479.5 L413,479 L413.8,478.1 L414.6,477.2 L415.4,476.8 L416.2,477.2 L417,478.1 L417.8,479 L418.6,479.5 L419.4,479.8 L420.2,479.9 L420.2,479.9Z" fill="url(#BLf)"/>
</g>
<g filter="url(#soft)" opacity="0.35">
<path d="M522.5,498.5 L522.5,498.4 L523.3,498.2 L524,497.7 L524.8,496.4 L525.5,494.4 L526.3,492.4 L527,491.6 L527.7,492.4 L528.5,494.4 L529.2,496.4 L530,497.7 L530.7,498.2 L531.5,498.4 L531.5,498.5Z" fill="url(#BLf)"/>
<path d="M527.1,497.6 L527.1,497.6 L527.9,497.4 L528.6,497 L529.4,496.2 L530.1,494.9 L530.9,493.5 L531.6,493 L532.3,493.5 L533.1,494.9 L533.8,496.2 L534.6,497 L535.3,497.4 L536.1,497.6 L536.1,497.6Z" fill="url(#BLf)"/>
<path d="M531.7,496.7 L531.7,496.7 L532.5,496.5 L533.2,496.1 L534,495.2 L534.7,493.7 L535.5,492.3 L536.2,491.7 L536.9,492.3 L537.7,493.7 L538.4,495.2 L539.2,496.1 L539.9,496.5 L540.7,496.7 L540.7,496.7Z" fill="url(#BLf)"/>
<path d="M536.3,495.8 L536.3,495.8 L537.1,495.6 L537.8,495.3 L538.6,494.5 L539.3,493.3 L540.1,492.1 L540.8,491.6 L541.5,492.1 L542.3,493.3 L543,494.5 L543.8,495.3 L544.5,495.6 L545.3,495.8 L545.3,495.8Z" fill="url(#BLf)"/>
<path d="M540.9,494.9 L540.9,494.9 L541.7,494.7 L542.4,494.4 L543.2,493.7 L543.9,492.5 L544.7,491.3 L545.4,490.8 L546.1,491.3 L546.9,492.5 L547.6,493.7 L548.4,494.4 L549.1,494.7 L549.9,494.9 L549.9,494.9Z" fill="url(#BLf)"/>
</g>
<path d="M481.1,511 L481.1,510.6 L486.2,509.5 L491.2,506 L496.3,498.4 L501.4,486.8 L506.4,475.1 L511.5,470 L516.6,475.1 L521.6,486.8 L526.7,498.4 L531.8,506 L536.8,509.5 L541.9,510.6 L541.9,511Z" fill="url(#g8)"/>
<path d="M497.7,500 L497.7,499.7 L498.6,498.8 L499.5,496 L500.4,490.1 L501.3,480.9 L502.2,471.6 L503.1,467.6 L504,471.6 L504.9,480.9 L505.8,490.1 L506.7,496 L507.6,498.8 L508.5,499.7 L508.5,500Z" fill="url(#g8)"/>
<path d="M511.1,501 L511.1,500.7 L511.9,499.9 L512.8,497.5 L513.6,492.2 L514.5,484 L515.3,475.7 L516.2,472.2 L517.1,475.7 L517.9,484 L518.8,492.2 L519.6,497.5 L520.5,499.9 L521.3,500.7 L521.3,501Z" fill="url(#g8)"/>
<path d="M493.6,502 L493.6,501.8 L494.4,501.2 L495.3,499.3 L496.1,495.2 L497,488.8 L497.8,482.4 L498.7,479.7 L499.6,482.4 L500.4,488.8 L501.3,495.2 L502.1,499.3 L503,501.2 L503.8,501.8 L503.8,502Z" fill="url(#g8)"/>
<path d="M516.1,503 L516.1,502.8 L516.9,502.4 L517.7,500.9 L518.5,497.7 L519.3,492.7 L520.1,487.7 L520.9,485.6 L521.7,487.7 L522.5,492.7 L523.3,497.7 L524.1,500.9 L524.9,502.4 L525.7,502.8 L525.7,503Z" fill="url(#g8)"/>
<path d="M520.3,503 L520.3,502.9 L521.1,502.6 L521.8,501.6 L522.6,499.5 L523.3,496.2 L524.1,492.9 L524.8,491.5 L525.5,492.9 L526.3,496.2 L527,499.5 L527.8,501.6 L528.5,502.6 L529.3,502.9 L529.3,503Z" fill="url(#g8)"/>
<polygon points="510,347.8 509.6,358.5 509.2,369.3 508.8,380 508.5,390.7 508.1,401.4 507.7,412.2 507.3,422.9 506.8,433.6 506.4,444.4 505.9,455.1 505.4,465.8 504.8,476.5 504.2,487.3 503.4,498 517.4,498 516.6,487.3 516,476.5 515.4,465.8 514.9,455.1 514.4,444.4 514,433.6 513.5,422.9 513.1,412.2 512.7,401.4 512.3,390.7 512,380 511.6,369.3 511.2,358.5 510.8,347.8" fill="url(#g8)"/>
<circle cx="510.4" cy="346.5" r="5.9" fill="url(#glow)"/><circle cx="510.4" cy="346.5" r="3.4" fill="#e97d30"/>
</g>
<path d="M391.4,479.3 L517.6,511.4 L667,484.2 M409.7,483.7 l-3.1,0.6 M450.7,494.1 l-3.1,0.6 M492.4,504.7 l-3.1,0.6 M519.1,510.8 l3.1,0.8 M592.3,497.5 l3.1,0.8 M666.3,484 l3.1,0.8" fill="none" stroke="#555" stroke-width="0.55" opacity="0.75"/>
<text x="394.6" y="497.1" font-size="11.6" fill="#2a2a2a" text-anchor="middle" font-weight="bold">-10</text>
<text x="442" y="508" font-size="11.6" fill="#2a2a2a" text-anchor="middle" font-weight="bold">0</text>
<text x="480" y="519.1" font-size="11.6" fill="#2a2a2a" text-anchor="middle" font-weight="bold">10</text>
<text x="526" y="524.7" font-size="11.6" fill="#2a2a2a" text-anchor="middle" font-weight="bold">0</text>
<text x="600.2" y="510.9" font-size="11.6" fill="#2a2a2a" text-anchor="middle" font-weight="bold">5</text>
<text x="678.1" y="497.5" font-size="11.6" fill="#2a2a2a" text-anchor="middle" font-weight="bold">10</text>
<text transform="translate(441.1,536.7) rotate(16) scale(0.886,1)" font-size="14.6" fill="#161616" text-anchor="middle">Velocity (m/s)</text>
<text transform="translate(617.9,530.7) rotate(-13.6) scale(0.805,1)" font-size="14.6" fill="#161616" text-anchor="middle">Range (km)</text>
<text x="364.9" y="345.6" font-size="31.5" fill="#000" text-anchor="start" font-weight="normal">d</text>
<text x="540.9" y="346.7" font-size="15.1" fill="#1c3874" text-anchor="start" font-weight="normal" stroke="#1c3874" stroke-width="0.22">Meas. R: 1.02 km</text>
<text x="588" y="364.9" font-size="15.1" fill="#1c3874" text-anchor="start" font-weight="normal" stroke="#1c3874" stroke-width="0.22">V: 10.04 m/s</text>
<text x="262.2" y="571.6" font-size="15.1" fill="#000" text-anchor="start" font-weight="normal" stroke="#000" stroke-width="0.22">Settings R: 1 km V: 10 m/s</text>
<g clip-path="url(#c9)">
<polygon points="37.2,786.5 175.2,834.3 312,785.8 176.3,737.9" fill="#008066"/>
<polygon points="37.2,786.6 39.7,785.9 42.2,784.5 44.8,783.6 47.3,782.9 49.8,781.4 52.3,780.8 54.9,779.6 57.4,778.6 59.9,777.6 62.4,777.3 65,775.8 67.5,774.9 70,774.2 72.6,773.1 75.2,772.6 77.9,770.9 80.5,770.3 83.1,769.4 85.8,768.7 88.4,767.7 91,766.7 93.6,765.2 96.2,764.4 98.9,763.3 101.5,762.5 105,760 108.7,758 111.3,758.5 114,758.3 117,758.3 120,757.4 122.5,755.5 125,754.3 129.4,750.6 132.2,749.8 135.1,749.6 138,750 141.2,749.4 144.4,749.2 149,746.5 153.9,743.2 156.4,742.7 159,742.6 162.1,741.4 165.2,740.3 170,739.6 172.7,738.7 175.4,737.7 178.2,738.1 181,739 183.6,739.2 186.1,740.2 188.7,740.9 193,742.8 197.9,744.4 200.4,745.5 203,746.8 205.6,747.7 208.1,748.5 210.8,749.6 213.6,750.1 216.3,750.6 220.4,753.3 224.4,753.6 227.2,754.9 229.9,756.2 232.7,757.4 235.4,758.2 238.2,758.3 240.9,759.4 243.4,761.2 246,762.2 249.6,763.6 253.1,764.5 255.7,765.5 258.4,766.1 261,766.5 263.8,767.2 266.7,768.1 269.5,769 271,771 274.5,771.4 278,772.6 280.6,773.8 283.2,774.3 285.8,775.8 288.9,776 292,777 295.1,777.6 298.1,778.8 301.6,780.1 305,782 308.4,783.7 311.8,785.6 300,790 176,770 60,790" fill="#008066" opacity="1"/>
<path filter="url(#soft2)" d="M114,768 C128,759 152,752 175,746 C200,751 225,760 248,769 C225,772 200,766 176,764 C150,766 132,770 114,768 Z" fill="#0c8867" opacity="0.6"/>
<path filter="url(#soft2)" d="M150,790 C170,770 215,765 262,782 C250,800 215,815 190,820 C165,812 150,800 150,790 Z" fill="url(#GH)" opacity="0.9"/>
<ellipse cx="212" cy="797" rx="46" ry="24" fill="url(#GH)" opacity="0.9"/>
<g filter="url(#soft1)" opacity="0.55">
<path d="M207.2,768.5 L207.2,768.4 L208.6,768.1 L209.9,767.1 L211.3,765 L212.6,761.8 L214,758.5 L215.3,757.1 L216.7,758.5 L218,761.8 L219.4,765 L220.7,767.1 L222.1,768.1 L223.4,768.4 L223.4,768.5Z" fill="url(#GLf)"/>
<path d="M205.5,770 L205.5,769.9 L206.8,769.6 L208.1,768.7 L209.4,766.9 L210.7,764 L212,761.1 L213.3,759.9 L214.6,761.1 L216,764 L217.3,766.9 L218.6,768.7 L219.9,769.6 L221.2,769.9 L221.2,770Z" fill="url(#GLf)"/>
<path d="M196.5,774.7 L196.5,774.7 L197.7,774.5 L198.8,774.1 L199.9,773 L201.1,771.5 L202.2,769.9 L203.3,769.2 L204.5,769.9 L205.6,771.5 L206.7,773 L207.9,774.1 L209,774.5 L210.1,774.7 L210.1,774.7Z" fill="url(#GLf)"/>
<path d="M189.5,776 L189.5,775.9 L190.9,775.7 L192.3,775 L193.8,773.6 L195.2,771.5 L196.6,769.3 L198,768.3 L199.5,769.3 L200.9,771.5 L202.3,773.6 L203.7,775 L205.1,775.7 L206.6,775.9 L206.6,776Z" fill="url(#GLf)"/>
<path d="M219.6,776.9 L219.6,776.8 L221.1,776.6 L222.5,776 L224,774.8 L225.4,772.8 L226.9,770.8 L228.3,770 L229.8,770.8 L231.2,772.8 L232.7,774.8 L234.1,776 L235.6,776.6 L237,776.8 L237,776.9Z" fill="url(#GLf)"/>
<path d="M197.2,777 L197.2,776.9 L198.3,776.7 L199.5,776.1 L200.6,774.8 L201.7,772.7 L202.8,770.7 L204,769.8 L205.1,770.7 L206.2,772.7 L207.3,774.8 L208.5,776.1 L209.6,776.7 L210.7,776.9 L210.7,777Z" fill="url(#GLf)"/>
<path d="M225.4,777 L225.4,777 L226.7,776.8 L228.1,776.3 L229.4,775.3 L230.7,773.7 L232,772.1 L233.3,771.4 L234.6,772.1 L236,773.7 L237.3,775.3 L238.6,776.3 L239.9,776.8 L241.2,777 L241.2,777Z" fill="url(#GLf)"/>
<path d="M175,780.9 L175,780.8 L176.3,780.5 L177.5,779.7 L178.8,777.8 L180.1,774.8 L181.4,771.9 L182.7,770.6 L184,771.9 L185.3,774.8 L186.6,777.8 L187.9,779.7 L189.2,780.5 L190.5,780.8 L190.5,780.9Z" fill="url(#GLf)"/>
<path d="M226.1,783.6 L226.1,783.5 L227.2,783.3 L228.3,782.8 L229.5,781.5 L230.6,779.6 L231.7,777.6 L232.8,776.8 L233.9,777.6 L235,779.6 L236.1,781.5 L237.2,782.8 L238.3,783.3 L239.4,783.5 L239.4,783.6Z" fill="url(#GLf)"/>
<path d="M225.5,784.5 L225.5,784.4 L226.6,784.1 L227.8,783.3 L229,781.5 L230.1,778.7 L231.3,775.9 L232.5,774.7 L233.6,775.9 L234.8,778.7 L235.9,781.5 L237.1,783.3 L238.3,784.1 L239.4,784.4 L239.4,784.5Z" fill="url(#GLf)"/>
<path d="M214.4,784.8 L214.4,784.8 L215.6,784.6 L216.8,784.1 L217.9,782.9 L219.1,781.2 L220.3,779.4 L221.5,778.7 L222.6,779.4 L223.8,781.2 L225,782.9 L226.2,784.1 L227.3,784.6 L228.5,784.8 L228.5,784.8Z" fill="url(#GLf)"/>
<path d="M177.9,785.3 L177.9,785.2 L179,784.9 L180.1,784.2 L181.2,782.7 L182.3,780.3 L183.4,777.8 L184.4,776.8 L185.5,777.8 L186.6,780.3 L187.7,782.7 L188.8,784.2 L189.9,784.9 L191,785.2 L191,785.3Z" fill="url(#GLf)"/>
<path d="M196.2,785.3 L196.2,785.2 L197.7,784.9 L199.1,784 L200.5,781.9 L202,778.8 L203.4,775.6 L204.9,774.3 L206.3,775.6 L207.7,778.8 L209.2,781.9 L210.6,784 L212,784.9 L213.5,785.2 L213.5,785.3Z" fill="url(#GLf)"/>
<path d="M232.1,787.8 L232.1,787.7 L233.4,787.4 L234.7,786.7 L236,785 L237.4,782.4 L238.7,779.8 L240,778.6 L241.3,779.8 L242.6,782.4 L243.9,785 L245.3,786.7 L246.6,787.4 L247.9,787.7 L247.9,787.8Z" fill="url(#GLf)"/>
<path d="M161.8,789.3 L161.8,789.2 L163,788.8 L164.2,787.8 L165.4,785.5 L166.7,782 L167.9,778.4 L169.1,776.9 L170.3,778.4 L171.5,782 L172.7,785.5 L173.9,787.8 L175.2,788.8 L176.4,789.2 L176.4,789.3Z" fill="url(#GLf)"/>
<path d="M228.8,790.2 L228.8,790.1 L230,789.8 L231.3,788.8 L232.6,786.7 L233.9,783.4 L235.2,780.1 L236.5,778.6 L237.8,780.1 L239.1,783.4 L240.4,786.7 L241.6,788.8 L242.9,789.8 L244.2,790.1 L244.2,790.2Z" fill="url(#GLf)"/>
<path d="M217,790.7 L217,790.6 L218.5,790.4 L219.9,789.8 L221.4,788.3 L222.9,786.1 L224.3,783.9 L225.8,783 L227.3,783.9 L228.8,786.1 L230.2,788.3 L231.7,789.8 L233.2,790.4 L234.7,790.6 L234.7,790.7Z" fill="url(#GLf)"/>
<path d="M272.2,791 L272.2,791 L273.3,790.8 L274.5,790.2 L275.6,788.9 L276.8,786.9 L277.9,784.9 L279.1,784 L280.2,784.9 L281.4,786.9 L282.5,788.9 L283.7,790.2 L284.8,790.8 L286,791 L286,791Z" fill="url(#GLf)"/>
<path d="M210.8,792.7 L210.8,792.6 L212,792.3 L213.1,791.6 L214.3,790 L215.4,787.5 L216.6,785 L217.8,784 L218.9,785 L220.1,787.5 L221.3,790 L222.4,791.6 L223.6,792.3 L224.7,792.6 L224.7,792.7Z" fill="url(#GLf)"/>
<path d="M244.3,793 L244.3,792.9 L245.5,792.6 L246.6,791.8 L247.8,790 L249,787.3 L250.1,784.5 L251.3,783.3 L252.5,784.5 L253.6,787.3 L254.8,790 L256,791.8 L257.1,792.6 L258.3,792.9 L258.3,793Z" fill="url(#GLf)"/>
<path d="M272.8,793.5 L272.8,793.4 L274.1,793.2 L275.5,792.6 L276.8,791.3 L278.1,789.3 L279.5,787.2 L280.8,786.3 L282.2,787.2 L283.5,789.3 L284.9,791.3 L286.2,792.6 L287.6,793.2 L288.9,793.4 L288.9,793.5Z" fill="url(#GLf)"/>
<path d="M202.1,795.1 L202.1,795.1 L203.4,794.9 L204.6,794.3 L205.9,793 L207.2,791.1 L208.4,789.2 L209.7,788.3 L211,789.2 L212.2,791.1 L213.5,793 L214.7,794.3 L216,794.9 L217.3,795.1 L217.3,795.1Z" fill="url(#GLf)"/>
<path d="M165.2,795.3 L165.2,795.2 L166.4,794.9 L167.6,793.9 L168.8,791.8 L170.1,788.6 L171.3,785.3 L172.5,783.9 L173.7,785.3 L174.9,788.6 L176.1,791.8 L177.3,793.9 L178.5,794.9 L179.7,795.2 L179.7,795.3Z" fill="url(#GLf)"/>
<path d="M222.1,795.5 L222.1,795.4 L223.6,795.1 L225,794.1 L226.4,791.9 L227.8,788.6 L229.2,785.2 L230.6,783.7 L232.1,785.2 L233.5,788.6 L234.9,791.9 L236.3,794.1 L237.7,795.1 L239.1,795.4 L239.1,795.5Z" fill="url(#GLf)"/>
<path d="M203.5,797.5 L203.5,797.4 L204.7,797 L205.9,796 L207.2,793.8 L208.4,790.4 L209.7,787 L210.9,785.5 L212.2,787 L213.4,790.4 L214.6,793.8 L215.9,796 L217.1,797 L218.4,797.4 L218.4,797.5Z" fill="url(#GLf)"/>
<path d="M255.5,797.6 L255.5,797.5 L256.5,797.2 L257.6,796.4 L258.6,794.5 L259.7,791.5 L260.8,788.5 L261.8,787.3 L262.9,788.5 L263.9,791.5 L265,794.5 L266.1,796.4 L267.1,797.2 L268.2,797.5 L268.2,797.6Z" fill="url(#GLf)"/>
<path d="M158.4,797.7 L158.4,797.6 L159.5,797.4 L160.6,796.8 L161.7,795.4 L162.7,793.2 L163.8,791.1 L164.9,790.1 L166,791.1 L167,793.2 L168.1,795.4 L169.2,796.8 L170.2,797.4 L171.3,797.6 L171.3,797.7Z" fill="url(#GLf)"/>
<path d="M239,797.9 L239,797.8 L240.3,797.7 L241.6,797.1 L242.9,795.9 L244.2,794.1 L245.6,792.3 L246.9,791.5 L248.2,792.3 L249.5,794.1 L250.8,795.9 L252.2,797.1 L253.5,797.7 L254.8,797.8 L254.8,797.9Z" fill="url(#GLf)"/>
<path d="M135.1,798.5 L135.1,798.5 L136.2,798.3 L137.4,797.8 L138.5,796.8 L139.7,795.2 L140.9,793.6 L142,792.9 L143.2,793.6 L144.3,795.2 L145.5,796.8 L146.6,797.8 L147.8,798.3 L149,798.5 L149,798.5Z" fill="url(#GLf)"/>
<path d="M240,798.7 L240,798.6 L241.1,798.5 L242.3,798 L243.4,796.8 L244.5,795.1 L245.7,793.4 L246.8,792.7 L248,793.4 L249.1,795.1 L250.2,796.8 L251.4,798 L252.5,798.5 L253.7,798.6 L253.7,798.7Z" fill="url(#GLf)"/>
<path d="M173,799.5 L173,799.4 L174.3,799.1 L175.6,798.3 L176.9,796.5 L178.2,793.8 L179.5,791.1 L180.8,789.9 L182.1,791.1 L183.4,793.8 L184.7,796.5 L186,798.3 L187.3,799.1 L188.6,799.4 L188.6,799.5Z" fill="url(#GLf)"/>
<path d="M140.6,802.4 L140.6,802.4 L141.9,802.1 L143.1,801.3 L144.3,799.6 L145.6,796.9 L146.8,794.2 L148,793 L149.3,794.2 L150.5,796.9 L151.7,799.6 L153,801.3 L154.2,802.1 L155.4,802.4 L155.4,802.4Z" fill="url(#GLf)"/>
<path d="M198.6,803.3 L198.6,803.2 L199.8,802.8 L201.1,801.8 L202.3,799.5 L203.6,796 L204.8,792.6 L206.1,791 L207.3,792.6 L208.6,796 L209.8,799.5 L211.1,801.8 L212.3,802.8 L213.6,803.2 L213.6,803.3Z" fill="url(#GLf)"/>
<path d="M238.1,804.4 L238.1,804.3 L239.3,804 L240.5,803.1 L241.6,801.1 L242.8,798 L243.9,794.8 L245.1,793.5 L246.3,794.8 L247.4,798 L248.6,801.1 L249.7,803.1 L250.9,804 L252,804.3 L252,804.4Z" fill="url(#GLf)"/>
<path d="M231.4,805.7 L231.4,805.6 L232.7,805.4 L234,804.8 L235.3,803.5 L236.6,801.4 L237.9,799.4 L239.2,798.5 L240.5,799.4 L241.8,801.4 L243.1,803.5 L244.4,804.8 L245.7,805.4 L247,805.6 L247,805.7Z" fill="url(#GLf)"/>
<path d="M228,807.3 L228,807.2 L229.5,806.9 L230.9,806 L232.3,804.1 L233.8,801 L235.2,798 L236.6,796.7 L238,798 L239.5,801 L240.9,804.1 L242.3,806 L243.8,806.9 L245.2,807.2 L245.2,807.3Z" fill="url(#GLf)"/>
<path d="M203.8,809.3 L203.8,809.2 L205.1,808.9 L206.5,807.9 L207.8,805.8 L209.1,802.6 L210.4,799.3 L211.7,797.9 L213,799.3 L214.4,802.6 L215.7,805.8 L217,807.9 L218.3,808.9 L219.6,809.2 L219.6,809.3Z" fill="url(#GLf)"/>
<path d="M151,809.7 L151,809.6 L152.4,809.4 L153.9,808.7 L155.3,807.2 L156.7,804.9 L158.1,802.6 L159.6,801.6 L161,802.6 L162.4,804.9 L163.8,807.2 L165.3,808.7 L166.7,809.4 L168.1,809.6 L168.1,809.7Z" fill="url(#GLf)"/>
<path d="M214.2,810.8 L214.2,810.7 L215.3,810.5 L216.5,809.9 L217.7,808.6 L218.8,806.6 L220,804.6 L221.1,803.8 L222.3,804.6 L223.5,806.6 L224.6,808.6 L225.8,809.9 L226.9,810.5 L228.1,810.7 L228.1,810.8Z" fill="url(#GLf)"/>
<path d="M181.4,812.6 L181.4,812.5 L182.4,812.3 L183.5,811.7 L184.6,810.3 L185.6,808.1 L186.7,806 L187.8,805.1 L188.9,806 L189.9,808.1 L191,810.3 L192.1,811.7 L193.2,812.3 L194.2,812.5 L194.2,812.6Z" fill="url(#GLf)"/>
<path d="M206.2,814.6 L206.2,814.5 L207.6,814.1 L209,813.1 L210.3,810.9 L211.7,807.4 L213.1,803.9 L214.4,802.4 L215.8,803.9 L217.2,807.4 L218.5,810.9 L219.9,813.1 L221.3,814.1 L222.6,814.5 L222.6,814.6Z" fill="url(#GLf)"/>
<path d="M190.5,815.3 L190.5,815.2 L191.8,815 L193,814.6 L194.3,813.5 L195.5,811.9 L196.7,810.2 L198,809.5 L199.2,810.2 L200.5,811.9 L201.7,813.5 L203,814.6 L204.2,815 L205.4,815.2 L205.4,815.3Z" fill="url(#GLf)"/>
<path d="M154.3,815.3 L154.3,815.3 L155.5,815.1 L156.7,814.5 L157.9,813.3 L159.1,811.3 L160.3,809.4 L161.5,808.6 L162.7,809.4 L163.9,811.3 L165.1,813.3 L166.3,814.5 L167.5,815.1 L168.7,815.3 L168.7,815.3Z" fill="url(#GLf)"/>
<path d="M197.2,816.9 L197.2,816.8 L198.3,816.7 L199.3,816.1 L200.4,815 L201.5,813.2 L202.5,811.4 L203.6,810.7 L204.7,811.4 L205.8,813.2 L206.8,815 L207.9,816.1 L209,816.7 L210,816.8 L210,816.9Z" fill="url(#GLf)"/>
<path d="M172.3,823.8 L172.3,823.8 L173.7,823.6 L175.2,823.1 L176.6,822.1 L178,820.5 L179.5,818.9 L180.9,818.2 L182.3,818.9 L183.8,820.5 L185.2,822.1 L186.6,823.1 L188.1,823.6 L189.5,823.8 L189.5,823.8Z" fill="url(#GLf)"/>
<path d="M171.3,824.1 L171.3,824 L172.3,823.8 L173.4,823 L174.5,821.3 L175.5,818.7 L176.6,816 L177.7,814.9 L178.7,816 L179.8,818.7 L180.9,821.3 L181.9,823 L183,823.8 L184.1,824 L184.1,824.1Z" fill="url(#GLf)"/>
</g>
<g filter="url(#soft)" opacity="0.95">
<path d="M132.6,789 L132.6,788.9 L133.7,788.4 L134.8,787.1 L135.9,784.2 L137.1,779.8 L138.2,775.3 L139.3,773.4 L140.4,775.3 L141.5,779.8 L142.7,784.2 L143.8,787.1 L144.9,788.4 L146,788.9 L146,789Z" fill="url(#GLf)"/>
<path d="M154.3,780 L154.3,779.9 L155.4,779.4 L156.5,778.2 L157.6,775.5 L158.8,771.3 L159.9,767 L161,765.2 L162.1,767 L163.2,771.3 L164.4,775.5 L165.5,778.2 L166.6,779.4 L167.7,779.9 L167.7,780Z" fill="url(#GLf)"/>
<path d="M169.6,788 L169.6,787.9 L170.7,787.5 L171.7,786.3 L172.8,783.7 L173.9,779.6 L174.9,775.5 L176,773.8 L177.1,775.5 L178.1,779.6 L179.2,783.7 L180.3,786.3 L181.3,787.5 L182.4,787.9 L182.4,788Z" fill="url(#GLf)"/>
<path d="M181.3,789 L181.3,788.8 L182.4,788.2 L183.5,786.4 L184.6,782.5 L185.8,776.5 L186.9,770.5 L188,767.9 L189.1,770.5 L190.2,776.5 L191.4,782.5 L192.5,786.4 L193.6,788.2 L194.7,788.8 L194.7,789Z" fill="url(#GLf)"/>
<path d="M189.8,792 L189.8,791.8 L190.8,791.3 L191.8,789.8 L192.7,786.4 L193.7,781.2 L194.6,776 L195.6,773.8 L196.6,776 L197.5,781.2 L198.5,786.4 L199.4,789.8 L200.4,791.3 L201.4,791.8 L201.4,792Z" fill="url(#GLf)"/>
<path d="M204.7,793 L204.7,792.8 L205.5,792.1 L206.4,790 L207.2,785.3 L208.1,778.2 L208.9,771.1 L209.8,768 L210.7,771.1 L211.5,778.2 L212.4,785.3 L213.2,790 L214.1,792.1 L214.9,792.8 L214.9,793Z" fill="url(#GLf)"/>
<path d="M208.9,795 L208.9,794.8 L210,793.9 L211,791.5 L212.1,786.3 L213.2,778.2 L214.2,770.1 L215.3,766.6 L216.4,770.1 L217.4,778.2 L218.5,786.3 L219.6,791.5 L220.6,793.9 L221.7,794.8 L221.7,795Z" fill="url(#GLf)"/>
<path d="M216.8,799 L216.8,798.9 L217.8,798.5 L218.8,797.2 L219.7,794.5 L220.7,790.3 L221.6,786.1 L222.6,784.3 L223.6,786.1 L224.5,790.3 L225.5,794.5 L226.4,797.2 L227.4,798.5 L228.4,798.9 L228.4,799Z" fill="url(#GLf)"/>
<path d="M231.3,802 L231.3,801.8 L232.3,801.1 L233.3,799.2 L234.4,795 L235.4,788.4 L236.4,781.8 L237.4,779 L238.4,781.8 L239.4,788.4 L240.4,795 L241.5,799.2 L242.5,801.1 L243.5,801.8 L243.5,802Z" fill="url(#GLf)"/>
<path d="M236.6,802 L236.6,801.9 L237.5,801.4 L238.4,800 L239.3,797 L240.2,792.3 L241.1,787.6 L242,785.6 L242.9,787.6 L243.8,792.3 L244.7,797 L245.6,800 L246.5,801.4 L247.4,801.9 L247.4,802Z" fill="url(#GLf)"/>
<path d="M243.2,801 L243.2,800.9 L244,800.5 L244.9,799.4 L245.7,797 L246.6,793.3 L247.4,789.6 L248.3,788 L249.2,789.6 L250,793.3 L250.9,797 L251.7,799.4 L252.6,800.5 L253.4,800.9 L253.4,801Z" fill="url(#GLf)"/>
<path d="M250.2,798 L250.2,797.9 L251,797.6 L251.8,796.8 L252.6,794.9 L253.4,792.1 L254.2,789.2 L255,788 L255.8,789.2 L256.6,792.1 L257.4,794.9 L258.2,796.8 L259,797.6 L259.8,797.9 L259.8,798Z" fill="url(#GLf)"/>
<path d="M257.2,795 L257.2,794.9 L258,794.7 L258.8,793.9 L259.6,792.2 L260.4,789.7 L261.2,787.1 L262,786 L262.8,787.1 L263.6,789.7 L264.4,792.2 L265.2,793.9 L266,794.7 L266.8,794.9 L266.8,795Z" fill="url(#GLf)"/>
<path d="M265.2,791 L265.2,790.9 L266,790.7 L266.8,790.1 L267.6,788.7 L268.4,786.6 L269.2,784.4 L270,783.5 L270.8,784.4 L271.6,786.6 L272.4,788.7 L273.2,790.1 L274,790.7 L274.8,790.9 L274.8,791Z" fill="url(#GLf)"/>
</g>
<g filter="url(#soft)" opacity="0.8">
<path d="M169.8,806 L169.8,805.9 L170.9,805.6 L171.9,804.6 L173,802.6 L174.1,799.4 L175.1,796.2 L176.2,794.8 L177.3,796.2 L178.3,799.4 L179.4,802.6 L180.5,804.6 L181.5,805.6 L182.6,805.9 L182.6,806Z" fill="url(#GLf)"/>
<path d="M183.9,800 L183.9,799.9 L184.9,799.5 L185.9,798.4 L186.8,796 L187.8,792.3 L188.7,788.6 L189.7,787 L190.7,788.6 L191.6,792.3 L192.6,796 L193.5,798.4 L194.5,799.5 L195.5,799.9 L195.5,800Z" fill="url(#GLf)"/>
<path d="M185.9,808 L185.9,807.9 L187,807.4 L188,806.1 L189.1,803.3 L190.2,799 L191.2,794.7 L192.3,792.8 L193.4,794.7 L194.4,799 L195.5,803.3 L196.6,806.1 L197.6,807.4 L198.7,807.9 L198.7,808Z" fill="url(#GLf)"/>
<path d="M201.7,812 L201.7,811.9 L202.8,811.5 L203.8,810.4 L204.9,808 L206,804.2 L207,800.4 L208.1,798.8 L209.2,800.4 L210.2,804.2 L211.3,808 L212.4,810.4 L213.4,811.5 L214.5,811.9 L214.5,812Z" fill="url(#GLf)"/>
<path d="M210.2,810 L210.2,809.9 L211.2,809.5 L212.2,808.4 L213.1,805.9 L214.1,802.1 L215,798.3 L216,796.6 L217,798.3 L217.9,802.1 L218.9,805.9 L219.8,808.4 L220.8,809.5 L221.8,809.9 L221.8,810Z" fill="url(#GLf)"/>
<path d="M164.6,811 L164.6,810.9 L165.5,810.7 L166.4,810 L167.3,808.4 L168.2,805.9 L169.1,803.5 L170,802.4 L170.9,803.5 L171.8,805.9 L172.7,808.4 L173.6,810 L174.5,810.7 L175.4,810.9 L175.4,811Z" fill="url(#GLf)"/>
<path d="M157.9,812 L157.9,811.9 L158.7,811.7 L159.6,811.1 L160.4,809.8 L161.3,807.7 L162.1,805.6 L163,804.7 L163.9,805.6 L164.7,807.7 L165.6,809.8 L166.4,811.1 L167.3,811.7 L168.1,811.9 L168.1,812Z" fill="url(#GLf)"/>
<path d="M151.2,814 L151.2,813.9 L152,813.8 L152.8,813.2 L153.6,812 L154.4,810.2 L155.2,808.3 L156,807.5 L156.8,808.3 L157.6,810.2 L158.4,812 L159.2,813.2 L160,813.8 L160.8,813.9 L160.8,814Z" fill="url(#GLf)"/>
<path d="M190.9,816 L190.9,815.9 L191.7,815.6 L192.6,814.8 L193.4,812.9 L194.3,810.1 L195.1,807.2 L196,806 L196.9,807.2 L197.7,810.1 L198.6,812.9 L199.4,814.8 L200.3,815.6 L201.1,815.9 L201.1,816Z" fill="url(#GLf)"/>
<path d="M204.9,819 L204.9,818.9 L205.7,818.7 L206.6,817.9 L207.4,816.2 L208.3,813.7 L209.1,811.1 L210,810 L210.9,811.1 L211.7,813.7 L212.6,816.2 L213.4,817.9 L214.3,818.7 L215.1,818.9 L215.1,819Z" fill="url(#GLf)"/>
<path d="M218.9,816 L218.9,815.9 L219.7,815.6 L220.6,814.8 L221.4,812.9 L222.3,810.1 L223.1,807.2 L224,806 L224.9,807.2 L225.7,810.1 L226.6,812.9 L227.4,814.8 L228.3,815.6 L229.1,815.9 L229.1,816Z" fill="url(#GLf)"/>
<path d="M226.9,813 L226.9,812.9 L227.7,812.6 L228.6,811.8 L229.4,809.9 L230.3,807.1 L231.1,804.2 L232,803 L232.9,804.2 L233.7,807.1 L234.6,809.9 L235.4,811.8 L236.3,812.6 L237.1,812.9 L237.1,813Z" fill="url(#GLf)"/>
<path d="M144.9,791 L144.9,790.9 L145.7,790.7 L146.6,789.9 L147.4,788.2 L148.3,785.7 L149.1,783.1 L150,782 L150.9,783.1 L151.7,785.7 L152.6,788.2 L153.4,789.9 L154.3,790.7 L155.1,790.9 L155.1,791Z" fill="url(#GLf)"/>
<path d="M123.2,787 L123.2,786.9 L124,786.7 L124.8,786 L125.6,784.6 L126.4,782.3 L127.2,780 L128,779 L128.8,780 L129.6,782.3 L130.4,784.6 L131.2,786 L132,786.7 L132.8,786.9 L132.8,787Z" fill="url(#GLf)"/>
<path d="M115.2,779 L115.2,778.9 L116,778.7 L116.8,778.1 L117.6,776.9 L118.4,774.9 L119.2,772.9 L120,772 L120.8,772.9 L121.6,774.9 L122.4,776.9 L123.2,778.1 L124,778.7 L124.8,778.9 L124.8,779Z" fill="url(#GLf)"/>
<path d="M142.5,804 L142.5,803.9 L143.3,803.7 L144,803.1 L144.8,801.9 L145.5,799.9 L146.3,797.9 L147,797 L147.7,797.9 L148.5,799.9 L149.2,801.9 L150,803.1 L150.7,803.7 L151.5,803.9 L151.5,804Z" fill="url(#GLf)"/>
<path d="M181.2,821 L181.2,820.9 L182,820.7 L182.8,820 L183.6,818.6 L184.4,816.3 L185.2,814 L186,813 L186.8,814 L187.6,816.3 L188.4,818.6 L189.2,820 L190,820.7 L190.8,820.9 L190.8,821Z" fill="url(#GLf)"/>
</g>
<path d="M184.9,800 L184.9,799.7 L187.8,798.9 L190.8,796.3 L193.7,790.8 L196.6,782.3 L199.6,773.7 L202.5,770 L205.4,773.7 L208.4,782.3 L211.3,790.8 L214.2,796.3 L217.2,798.9 L220.1,799.7 L220.1,800Z" fill="url(#g10)"/>
<polygon points="202.1,682 201.6,690 201.2,698 200.8,706 200.4,714 199.9,722 199.5,730 199.1,738 198.6,746 198.1,754 197.6,762 197.1,770 196.5,778 195.9,786 195.2,794 209.8,794 209.1,786 208.5,778 207.9,770 207.4,762 206.9,754 206.4,746 205.9,738 205.5,730 205.1,722 204.6,714 204.2,706 203.8,698 203.4,690 202.9,682" fill="url(#g10)"/>
<path d="M211.9,809 L211.9,808.7 L214.8,807.9 L217.8,805.5 L220.7,800.1 L223.6,791.9 L226.6,783.6 L229.5,780 L232.4,783.6 L235.4,791.9 L238.3,800.1 L241.2,805.5 L244.2,807.9 L247.1,808.7 L247.1,809Z" fill="url(#g11)"/>
<polygon points="229.1,694 228.6,701.8 228.2,709.6 227.8,717.4 227.4,725.1 227,732.9 226.6,740.7 226.2,748.5 225.8,756.3 225.3,764.1 224.9,771.9 224.4,779.6 223.8,787.4 223.2,795.2 222.4,803 236.6,803 235.8,795.2 235.2,787.4 234.6,779.6 234.1,771.9 233.7,764.1 233.2,756.3 232.8,748.5 232.4,740.7 232,732.9 231.6,725.1 231.2,717.4 230.8,709.6 230.4,701.8 229.9,694" fill="url(#g11)"/>
<circle cx="202.5" cy="681" r="5.9" fill="url(#glow)"/><circle cx="202.5" cy="681" r="3.4" fill="#e97d30"/>
<circle cx="229.5" cy="693" r="5.9" fill="url(#glow)"/><circle cx="229.5" cy="693" r="3.4" fill="#e97d30"/>
</g>
<path d="M37.2,786.8 L175.2,834.6 L312,786.1 M37.9,786.7 l-3,1.1 M104.5,809.8 l-3,1.1 M173.8,833.8 l-3,1.1 M200.6,825.3 l3,1 M246.7,808.9 l3,1 M292.7,792.6 l3,1" fill="none" stroke="#555" stroke-width="0.55" opacity="0.75"/>
<text x="25.5" y="800.7" font-size="11.6" fill="#2a2a2a" text-anchor="middle" font-weight="bold">10</text>
<text x="97" y="824.3" font-size="11.6" fill="#2a2a2a" text-anchor="middle" font-weight="bold">5</text>
<text x="165.3" y="848.7" font-size="11.6" fill="#2a2a2a" text-anchor="middle" font-weight="bold">0</text>
<text x="214.3" y="840.7" font-size="11.6" fill="#2a2a2a" text-anchor="middle" font-weight="bold">-10</text>
<text x="254.5" y="824.3" font-size="11.6" fill="#2a2a2a" text-anchor="middle" font-weight="bold">0</text>
<text x="303.2" y="808.3" font-size="11.6" fill="#2a2a2a" text-anchor="middle" font-weight="bold">10</text>
<text transform="translate(74.9,854.3) rotate(16) scale(0.879,1)" font-size="14.6" fill="#161616" text-anchor="middle">Range (km)</text>
<text transform="translate(264.1,853.6) rotate(-12.6) scale(0.802,1)" font-size="14.6" fill="#161616" text-anchor="middle">Velocity (m/s)</text>
<text x="11" y="660.7" font-size="31.5" fill="#000" text-anchor="start" font-weight="normal">e</text>
<text x="47.8" y="672" font-size="15.1" fill="#44652a" text-anchor="start" font-weight="normal" stroke="#44652a" stroke-width="0.22">Meas. R1: 3.01 km</text>
<text x="94.2" y="689" font-size="15.1" fill="#44652a" text-anchor="start" font-weight="normal" stroke="#44652a" stroke-width="0.22">V1: -0.03 m/s</text>
<text x="94.2" y="716.6" font-size="15.1" fill="#44652a" text-anchor="start" font-weight="normal" stroke="#44652a" stroke-width="0.22">R2: 1.04 km</text>
<text x="94.2" y="734.1" font-size="15.1" fill="#44652a" text-anchor="start" font-weight="normal" stroke="#44652a" stroke-width="0.22">V2: 0.03 m/s</text>
<g clip-path="url(#c12)">
<polygon points="389.2,786.5 527.2,834.3 664,785.8 528.3,737.9" fill="#3E26A8"/>
<g filter="url(#soft)" opacity="1">
<path d="M455.4,765 L455.4,765 L456.2,764.8 L457,764.4 L457.8,763.5 L458.6,762 L459.4,760.6 L460.2,760 L461,760.6 L461.8,762 L462.6,763.5 L463.4,764.4 L464.2,764.8 L465,765 L465,765Z" fill="#4a3fc8"/>
</g>
<ellipse cx="566" cy="798" rx="50" ry="24" fill="url(#BH)" opacity="0.85"/>
<path filter="url(#soft2)" d="M529,797.7 l58.8,-20.9 l0,2.2 l-58.8,20.9 Z" fill="#4a40d4" opacity="0.55"/>
<g filter="url(#soft)" opacity="0.8">
<path d="M525.2,799.2 L525.2,799.2 L525.8,799 L526.4,798.7 L527.1,798 L527.7,796.8 L528.4,795.7 L529,795.2 L529.6,795.7 L530.3,796.8 L530.9,798 L531.6,798.7 L532.2,799 L532.8,799.2 L532.8,799.2Z" fill="url(#BLf)"/>
<path d="M530.1,797.5 L530.1,797.4 L530.7,797.3 L531.3,797 L532,796.2 L532.6,795 L533.3,793.8 L533.9,793.3 L534.5,793.8 L535.2,795 L535.8,796.2 L536.5,797 L537.1,797.3 L537.7,797.4 L537.7,797.5Z" fill="url(#BLf)"/>
<path d="M535,795.7 L535,795.7 L535.6,795.6 L536.2,795.2 L536.9,794.4 L537.5,793.1 L538.2,791.9 L538.8,791.3 L539.4,791.9 L540.1,793.1 L540.7,794.4 L541.4,795.2 L542,795.6 L542.6,795.7 L542.6,795.7Z" fill="url(#BLf)"/>
<path d="M539.9,794 L539.9,793.9 L540.5,793.8 L541.1,793.4 L541.8,792.5 L542.4,791.2 L543.1,789.8 L543.7,789.3 L544.3,789.8 L545,791.2 L545.6,792.5 L546.3,793.4 L546.9,793.8 L547.5,793.9 L547.5,794Z" fill="url(#BLf)"/>
<path d="M544.8,792.2 L544.8,792.2 L545.4,792 L546,791.6 L546.7,790.7 L547.3,789.2 L548,787.7 L548.6,787.1 L549.2,787.7 L549.9,789.2 L550.5,790.7 L551.2,791.6 L551.8,792 L552.4,792.2 L552.4,792.2Z" fill="url(#BLf)"/>
<path d="M549.7,790.5 L549.7,790.5 L550.3,790.3 L550.9,789.8 L551.6,788.8 L552.2,787.2 L552.9,785.6 L553.5,784.9 L554.1,785.6 L554.8,787.2 L555.4,788.8 L556.1,789.8 L556.7,790.3 L557.3,790.5 L557.3,790.5Z" fill="url(#BLf)"/>
<path d="M554.6,788.8 L554.6,788.7 L555.2,788.5 L555.8,788 L556.5,786.9 L557.1,785.2 L557.8,783.5 L558.4,782.8 L559,783.5 L559.7,785.2 L560.3,786.9 L561,788 L561.6,788.5 L562.2,788.7 L562.2,788.8Z" fill="url(#BLf)"/>
<path d="M559.5,787 L559.5,787 L560.1,786.8 L560.7,786.3 L561.4,785.2 L562,783.5 L562.7,781.8 L563.3,781 L563.9,781.8 L564.6,783.5 L565.2,785.2 L565.9,786.3 L566.5,786.8 L567.1,787 L567.1,787Z" fill="url(#BLf)"/>
<path d="M564.4,785.3 L564.4,785.2 L565,785.1 L565.6,784.6 L566.3,783.5 L566.9,781.9 L567.6,780.3 L568.2,779.6 L568.8,780.3 L569.5,781.9 L570.1,783.5 L570.8,784.6 L571.4,785.1 L572,785.2 L572,785.3Z" fill="url(#BLf)"/>
<path d="M569.3,783.5 L569.3,783.5 L569.9,783.3 L570.5,782.9 L571.2,781.9 L571.8,780.4 L572.5,778.9 L573.1,778.3 L573.7,778.9 L574.4,780.4 L575,781.9 L575.7,782.9 L576.3,783.3 L576.9,783.5 L576.9,783.5Z" fill="url(#BLf)"/>
<path d="M574.2,781.8 L574.2,781.8 L574.8,781.6 L575.4,781.2 L576.1,780.3 L576.7,779 L577.4,777.6 L578,777 L578.6,777.6 L579.3,779 L579.9,780.3 L580.6,781.2 L581.2,781.6 L581.8,781.8 L581.8,781.8Z" fill="url(#BLf)"/>
<path d="M579.1,780.1 L579.1,780 L579.7,779.9 L580.3,779.5 L581,778.7 L581.6,777.4 L582.3,776.2 L582.9,775.6 L583.5,776.2 L584.2,777.4 L584.8,778.7 L585.5,779.5 L586.1,779.9 L586.7,780 L586.7,780.1Z" fill="url(#BLf)"/>
</g>
<path filter="url(#soft2)" d="M522.1,807.1 l98,-34.8 l0,2.2 l-98,34.8 Z" fill="#4a40d4" opacity="0.55"/>
<g filter="url(#soft)" opacity="0.8">
<path d="M518.3,808.6 L518.3,808.6 L518.9,808.4 L519.5,808 L520.2,807.2 L520.8,805.9 L521.5,804.6 L522.1,804 L522.7,804.6 L523.4,805.9 L524,807.2 L524.7,808 L525.3,808.4 L525.9,808.6 L525.9,808.6Z" fill="url(#BLf)"/>
<path d="M523.2,806.9 L523.2,806.8 L523.8,806.7 L524.4,806.3 L525.1,805.4 L525.7,804.1 L526.4,802.8 L527,802.2 L527.6,802.8 L528.3,804.1 L528.9,805.4 L529.6,806.3 L530.2,806.7 L530.8,806.8 L530.8,806.9Z" fill="url(#BLf)"/>
<path d="M528.1,805.1 L528.1,805.1 L528.7,804.9 L529.3,804.5 L530,803.7 L530.6,802.3 L531.3,800.9 L531.9,800.3 L532.5,800.9 L533.2,802.3 L533.8,803.7 L534.5,804.5 L535.1,804.9 L535.7,805.1 L535.7,805.1Z" fill="url(#BLf)"/>
<path d="M533,803.4 L533,803.3 L533.6,803.2 L534.2,802.8 L534.9,801.9 L535.5,800.5 L536.2,799 L536.8,798.4 L537.4,799 L538.1,800.5 L538.7,801.9 L539.4,802.8 L540,803.2 L540.6,803.3 L540.6,803.4Z" fill="url(#BLf)"/>
<path d="M537.9,801.6 L537.9,801.6 L538.5,801.4 L539.1,801 L539.8,800.1 L540.4,798.6 L541.1,797.1 L541.7,796.5 L542.3,797.1 L543,798.6 L543.6,800.1 L544.3,801 L544.9,801.4 L545.5,801.6 L545.5,801.6Z" fill="url(#BLf)"/>
<path d="M542.8,799.9 L542.8,799.9 L543.4,799.7 L544,799.2 L544.7,798.2 L545.3,796.7 L546,795.1 L546.6,794.5 L547.2,795.1 L547.9,796.7 L548.5,798.2 L549.2,799.2 L549.8,799.7 L550.4,799.9 L550.4,799.9Z" fill="url(#BLf)"/>
<path d="M547.7,798.2 L547.7,798.1 L548.3,797.9 L548.9,797.5 L549.6,796.4 L550.2,794.8 L550.9,793.1 L551.5,792.4 L552.1,793.1 L552.8,794.8 L553.4,796.4 L554.1,797.5 L554.7,797.9 L555.3,798.1 L555.3,798.2Z" fill="url(#BLf)"/>
<path d="M552.6,796.4 L552.6,796.4 L553.2,796.2 L553.8,795.7 L554.5,794.5 L555.1,792.8 L555.8,791.1 L556.4,790.3 L557,791.1 L557.7,792.8 L558.3,794.5 L559,795.7 L559.6,796.2 L560.2,796.4 L560.2,796.4Z" fill="url(#BLf)"/>
<path d="M557.5,794.7 L557.5,794.6 L558.1,794.4 L558.7,793.9 L559.4,792.7 L560,790.9 L560.7,789 L561.3,788.2 L561.9,789 L562.6,790.9 L563.2,792.7 L563.9,793.9 L564.5,794.4 L565.1,794.6 L565.1,794.7Z" fill="url(#BLf)"/>
<path d="M562.4,792.9 L562.4,792.9 L563,792.7 L563.6,792.1 L564.3,790.9 L564.9,789 L565.6,787 L566.2,786.2 L566.8,787 L567.5,789 L568.1,790.9 L568.8,792.1 L569.4,792.7 L570,792.9 L570,792.9Z" fill="url(#BLf)"/>
<path d="M567.3,791.2 L567.3,791.1 L567.9,790.9 L568.5,790.4 L569.2,789.1 L569.8,787.1 L570.5,785.1 L571.1,784.3 L571.7,785.1 L572.4,787.1 L573,789.1 L573.7,790.4 L574.3,790.9 L574.9,791.1 L574.9,791.2Z" fill="url(#BLf)"/>
<path d="M572.2,789.5 L572.2,789.4 L572.8,789.2 L573.4,788.6 L574.1,787.3 L574.7,785.3 L575.4,783.3 L576,782.5 L576.6,783.3 L577.3,785.3 L577.9,787.3 L578.6,788.6 L579.2,789.2 L579.8,789.4 L579.8,789.5Z" fill="url(#BLf)"/>
<path d="M577.1,787.7 L577.1,787.7 L577.7,787.5 L578.3,786.9 L579,785.6 L579.6,783.6 L580.3,781.6 L580.9,780.8 L581.5,781.6 L582.2,783.6 L582.8,785.6 L583.5,786.9 L584.1,787.5 L584.7,787.7 L584.7,787.7Z" fill="url(#BLf)"/>
<path d="M582,786 L582,785.9 L582.6,785.7 L583.2,785.2 L583.9,783.9 L584.5,782 L585.2,780.1 L585.8,779.2 L586.4,780.1 L587.1,782 L587.7,783.9 L588.4,785.2 L589,785.7 L589.6,785.9 L589.6,786Z" fill="url(#BLf)"/>
<path d="M586.9,784.2 L586.9,784.2 L587.5,784 L588.1,783.5 L588.8,782.3 L589.4,780.4 L590.1,778.6 L590.7,777.8 L591.3,778.6 L592,780.4 L592.6,782.3 L593.3,783.5 L593.9,784 L594.5,784.2 L594.5,784.2Z" fill="url(#BLf)"/>
<path d="M591.8,782.5 L591.8,782.4 L592.4,782.3 L593,781.8 L593.7,780.6 L594.3,778.9 L595,777.1 L595.6,776.4 L596.2,777.1 L596.9,778.9 L597.5,780.6 L598.2,781.8 L598.8,782.3 L599.4,782.4 L599.4,782.5Z" fill="url(#BLf)"/>
<path d="M596.7,780.8 L596.7,780.7 L597.3,780.5 L597.9,780.1 L598.6,779 L599.2,777.4 L599.9,775.7 L600.5,775 L601.1,775.7 L601.8,777.4 L602.4,779 L603.1,780.1 L603.7,780.5 L604.3,780.7 L604.3,780.8Z" fill="url(#BLf)"/>
<path d="M601.6,779 L601.6,779 L602.2,778.8 L602.8,778.4 L603.5,777.4 L604.1,775.8 L604.8,774.3 L605.4,773.6 L606,774.3 L606.7,775.8 L607.3,777.4 L608,778.4 L608.6,778.8 L609.2,779 L609.2,779Z" fill="url(#BLf)"/>
<path d="M606.5,777.3 L606.5,777.2 L607.1,777.1 L607.7,776.7 L608.4,775.7 L609,774.2 L609.7,772.8 L610.3,772.1 L610.9,772.8 L611.6,774.2 L612.2,775.7 L612.9,776.7 L613.5,777.1 L614.1,777.2 L614.1,777.3Z" fill="url(#BLf)"/>
<path d="M611.4,775.5 L611.4,775.5 L612,775.4 L612.6,774.9 L613.3,774 L613.9,772.6 L614.6,771.2 L615.2,770.6 L615.8,771.2 L616.5,772.6 L617.1,774 L617.8,774.9 L618.4,775.4 L619,775.5 L619,775.5Z" fill="url(#BLf)"/>
</g>
<path filter="url(#soft2)" d="M526.7,817.6 l107.8,-38.3 l0,2.2 l-107.8,38.3 Z" fill="#4a40d4" opacity="0.55"/>
<g filter="url(#soft)" opacity="0.8">
<path d="M522.9,819.1 L522.9,819.1 L523.5,818.9 L524.1,818.6 L524.8,817.8 L525.4,816.5 L526.1,815.3 L526.7,814.8 L527.3,815.3 L528,816.5 L528.6,817.8 L529.3,818.6 L529.9,818.9 L530.5,819.1 L530.5,819.1Z" fill="url(#BLf)"/>
<path d="M527.8,817.4 L527.8,817.3 L528.4,817.2 L529,816.8 L529.7,816 L530.3,814.8 L531,813.5 L531.6,813 L532.2,813.5 L532.9,814.8 L533.5,816 L534.2,816.8 L534.8,817.2 L535.4,817.3 L535.4,817.4Z" fill="url(#BLf)"/>
<path d="M532.7,815.6 L532.7,815.6 L533.3,815.5 L533.9,815.1 L534.6,814.3 L535.2,813 L535.9,811.7 L536.5,811.2 L537.1,811.7 L537.8,813 L538.4,814.3 L539.1,815.1 L539.7,815.5 L540.3,815.6 L540.3,815.6Z" fill="url(#BLf)"/>
<path d="M537.6,813.9 L537.6,813.8 L538.2,813.7 L538.8,813.3 L539.5,812.5 L540.1,811.2 L540.8,809.9 L541.4,809.3 L542,809.9 L542.7,811.2 L543.3,812.5 L544,813.3 L544.6,813.7 L545.2,813.8 L545.2,813.9Z" fill="url(#BLf)"/>
<path d="M542.5,812.1 L542.5,812.1 L543.1,812 L543.7,811.6 L544.4,810.7 L545,809.3 L545.7,808 L546.3,807.4 L546.9,808 L547.6,809.3 L548.2,810.7 L548.9,811.6 L549.5,812 L550.1,812.1 L550.1,812.1Z" fill="url(#BLf)"/>
<path d="M547.4,810.4 L547.4,810.4 L548,810.2 L548.6,809.8 L549.3,808.9 L549.9,807.5 L550.6,806.1 L551.2,805.4 L551.8,806.1 L552.5,807.5 L553.1,808.9 L553.8,809.8 L554.4,810.2 L555,810.4 L555,810.4Z" fill="url(#BLf)"/>
<path d="M552.3,808.7 L552.3,808.6 L552.9,808.5 L553.5,808 L554.2,807.1 L554.8,805.6 L555.5,804.1 L556.1,803.5 L556.7,804.1 L557.4,805.6 L558,807.1 L558.7,808 L559.3,808.5 L559.9,808.6 L559.9,808.7Z" fill="url(#BLf)"/>
<path d="M557.2,806.9 L557.2,806.9 L557.8,806.7 L558.4,806.3 L559.1,805.2 L559.7,803.7 L560.4,802.1 L561,801.4 L561.6,802.1 L562.3,803.7 L562.9,805.2 L563.6,806.3 L564.2,806.7 L564.8,806.9 L564.8,806.9Z" fill="url(#BLf)"/>
<path d="M562.1,805.2 L562.1,805.1 L562.7,805 L563.3,804.5 L564,803.4 L564.6,801.8 L565.3,800.1 L565.9,799.4 L566.5,800.1 L567.2,801.8 L567.8,803.4 L568.5,804.5 L569.1,805 L569.7,805.1 L569.7,805.2Z" fill="url(#BLf)"/>
<path d="M567,803.4 L567,803.4 L567.6,803.2 L568.2,802.7 L568.9,801.6 L569.5,799.9 L570.2,798.1 L570.8,797.4 L571.4,798.1 L572.1,799.9 L572.7,801.6 L573.4,802.7 L574,803.2 L574.6,803.4 L574.6,803.4Z" fill="url(#BLf)"/>
<path d="M571.9,801.7 L571.9,801.6 L572.5,801.5 L573.1,800.9 L573.8,799.8 L574.4,798 L575.1,796.2 L575.7,795.4 L576.3,796.2 L577,798 L577.6,799.8 L578.3,800.9 L578.9,801.5 L579.5,801.6 L579.5,801.7Z" fill="url(#BLf)"/>
<path d="M576.8,800 L576.8,799.9 L577.4,799.7 L578,799.2 L578.7,798 L579.3,796.2 L580,794.3 L580.6,793.5 L581.2,794.3 L581.9,796.2 L582.5,798 L583.2,799.2 L583.8,799.7 L584.4,799.9 L584.4,800Z" fill="url(#BLf)"/>
<path d="M581.7,798.2 L581.7,798.2 L582.3,798 L582.9,797.4 L583.6,796.2 L584.2,794.4 L584.9,792.5 L585.5,791.7 L586.1,792.5 L586.8,794.4 L587.4,796.2 L588.1,797.4 L588.7,798 L589.3,798.2 L589.3,798.2Z" fill="url(#BLf)"/>
<path d="M586.6,796.5 L586.6,796.4 L587.2,796.2 L587.8,795.7 L588.5,794.5 L589.1,792.7 L589.8,790.8 L590.4,790 L591,790.8 L591.7,792.7 L592.3,794.5 L593,795.7 L593.6,796.2 L594.2,796.4 L594.2,796.5Z" fill="url(#BLf)"/>
<path d="M591.5,794.7 L591.5,794.7 L592.1,794.5 L592.7,794 L593.4,792.8 L594,791 L594.7,789.2 L595.3,788.4 L595.9,789.2 L596.6,791 L597.2,792.8 L597.9,794 L598.5,794.5 L599.1,794.7 L599.1,794.7Z" fill="url(#BLf)"/>
<path d="M596.4,793 L596.4,792.9 L597,792.8 L597.6,792.3 L598.3,791.1 L598.9,789.4 L599.6,787.6 L600.2,786.9 L600.8,787.6 L601.5,789.4 L602.1,791.1 L602.8,792.3 L603.4,792.8 L604,792.9 L604,793Z" fill="url(#BLf)"/>
<path d="M601.3,791.3 L601.3,791.2 L601.9,791 L602.5,790.5 L603.2,789.5 L603.8,787.8 L604.5,786.1 L605.1,785.4 L605.7,786.1 L606.4,787.8 L607,789.5 L607.7,790.5 L608.3,791 L608.9,791.2 L608.9,791.3Z" fill="url(#BLf)"/>
<path d="M606.2,789.5 L606.2,789.5 L606.8,789.3 L607.4,788.8 L608.1,787.8 L608.7,786.2 L609.4,784.7 L610,784 L610.6,784.7 L611.3,786.2 L611.9,787.8 L612.6,788.8 L613.2,789.3 L613.8,789.5 L613.8,789.5Z" fill="url(#BLf)"/>
<path d="M611.1,787.8 L611.1,787.7 L611.7,787.6 L612.3,787.1 L613,786.2 L613.6,784.7 L614.3,783.2 L614.9,782.5 L615.5,783.2 L616.2,784.7 L616.8,786.2 L617.5,787.1 L618.1,787.6 L618.7,787.7 L618.7,787.8Z" fill="url(#BLf)"/>
<path d="M616,786 L616,786 L616.6,785.9 L617.2,785.4 L617.9,784.5 L618.5,783.1 L619.2,781.7 L619.8,781 L620.4,781.7 L621.1,783.1 L621.7,784.5 L622.4,785.4 L623,785.9 L623.6,786 L623.6,786Z" fill="url(#BLf)"/>
<path d="M620.9,784.3 L620.9,784.3 L621.5,784.1 L622.1,783.7 L622.8,782.8 L623.4,781.5 L624.1,780.1 L624.7,779.5 L625.3,780.1 L626,781.5 L626.6,782.8 L627.3,783.7 L627.9,784.1 L628.5,784.3 L628.5,784.3Z" fill="url(#BLf)"/>
<path d="M625.8,782.6 L625.8,782.5 L626.4,782.4 L627,782 L627.7,781.1 L628.3,779.8 L629,778.5 L629.6,777.9 L630.2,778.5 L630.9,779.8 L631.5,781.1 L632.2,782 L632.8,782.4 L633.4,782.5 L633.4,782.6Z" fill="url(#BLf)"/>
</g>
<path filter="url(#soft2)" d="M538.4,825.8 l83.3,-29.6 l0,2.2 l-83.3,29.6 Z" fill="#4a40d4" opacity="0.55"/>
<g filter="url(#soft)" opacity="0.8">
<path d="M534.6,827.3 L534.6,827.3 L535.2,827.2 L535.8,826.8 L536.5,826.1 L537.1,825 L537.8,823.9 L538.4,823.4 L539,823.9 L539.7,825 L540.3,826.1 L541,826.8 L541.6,827.2 L542.2,827.3 L542.2,827.3Z" fill="url(#BLf)"/>
<path d="M539.5,825.6 L539.5,825.5 L540.1,825.4 L540.7,825.1 L541.4,824.4 L542,823.2 L542.7,822.1 L543.3,821.6 L543.9,822.1 L544.6,823.2 L545.2,824.4 L545.9,825.1 L546.5,825.4 L547.1,825.5 L547.1,825.6Z" fill="url(#BLf)"/>
<path d="M544.4,823.8 L544.4,823.8 L545,823.7 L545.6,823.3 L546.3,822.6 L546.9,821.4 L547.6,820.3 L548.2,819.8 L548.8,820.3 L549.5,821.4 L550.1,822.6 L550.8,823.3 L551.4,823.7 L552,823.8 L552,823.8Z" fill="url(#BLf)"/>
<path d="M549.3,822.1 L549.3,822 L549.9,821.9 L550.5,821.6 L551.2,820.8 L551.8,819.6 L552.5,818.4 L553.1,817.9 L553.7,818.4 L554.4,819.6 L555,820.8 L555.7,821.6 L556.3,821.9 L556.9,822 L556.9,822.1Z" fill="url(#BLf)"/>
<path d="M554.2,820.3 L554.2,820.3 L554.8,820.2 L555.4,819.8 L556.1,819 L556.7,817.7 L557.4,816.4 L558,815.9 L558.6,816.4 L559.3,817.7 L559.9,819 L560.6,819.8 L561.2,820.2 L561.8,820.3 L561.8,820.3Z" fill="url(#BLf)"/>
<path d="M559.1,818.6 L559.1,818.6 L559.7,818.4 L560.3,818 L561,817.2 L561.6,815.8 L562.3,814.5 L562.9,813.9 L563.5,814.5 L564.2,815.8 L564.8,817.2 L565.5,818 L566.1,818.4 L566.7,818.6 L566.7,818.6Z" fill="url(#BLf)"/>
<path d="M564,816.9 L564,816.8 L564.6,816.7 L565.2,816.2 L565.9,815.3 L566.5,813.9 L567.2,812.4 L567.8,811.8 L568.4,812.4 L569.1,813.9 L569.7,815.3 L570.4,816.2 L571,816.7 L571.6,816.8 L571.6,816.9Z" fill="url(#BLf)"/>
<path d="M568.9,815.1 L568.9,815.1 L569.5,814.9 L570.1,814.5 L570.8,813.5 L571.4,812 L572.1,810.4 L572.7,809.8 L573.3,810.4 L574,812 L574.6,813.5 L575.3,814.5 L575.9,814.9 L576.5,815.1 L576.5,815.1Z" fill="url(#BLf)"/>
<path d="M573.8,813.4 L573.8,813.3 L574.4,813.2 L575,812.7 L575.7,811.7 L576.3,810.1 L577,808.5 L577.6,807.8 L578.2,808.5 L578.9,810.1 L579.5,811.7 L580.2,812.7 L580.8,813.2 L581.4,813.3 L581.4,813.4Z" fill="url(#BLf)"/>
<path d="M578.7,811.6 L578.7,811.6 L579.3,811.4 L579.9,810.9 L580.6,809.9 L581.2,808.3 L581.9,806.7 L582.5,805.9 L583.1,806.7 L583.8,808.3 L584.4,809.9 L585.1,810.9 L585.7,811.4 L586.3,811.6 L586.3,811.6Z" fill="url(#BLf)"/>
<path d="M583.6,809.9 L583.6,809.9 L584.2,809.7 L584.8,809.2 L585.5,808.2 L586.1,806.5 L586.8,804.9 L587.4,804.2 L588,804.9 L588.7,806.5 L589.3,808.2 L590,809.2 L590.6,809.7 L591.2,809.9 L591.2,809.9Z" fill="url(#BLf)"/>
<path d="M588.5,808.2 L588.5,808.1 L589.1,808 L589.7,807.5 L590.4,806.5 L591,804.9 L591.7,803.3 L592.3,802.6 L592.9,803.3 L593.6,804.9 L594.2,806.5 L594.9,807.5 L595.5,808 L596.1,808.1 L596.1,808.2Z" fill="url(#BLf)"/>
<path d="M593.4,806.4 L593.4,806.4 L594,806.2 L594.6,805.8 L595.3,804.8 L595.9,803.3 L596.6,801.8 L597.2,801.2 L597.8,801.8 L598.5,803.3 L599.1,804.8 L599.8,805.8 L600.4,806.2 L601,806.4 L601,806.4Z" fill="url(#BLf)"/>
<path d="M598.3,804.7 L598.3,804.6 L598.9,804.5 L599.5,804.1 L600.2,803.2 L600.8,801.8 L601.5,800.3 L602.1,799.7 L602.7,800.3 L603.4,801.8 L604,803.2 L604.7,804.1 L605.3,804.5 L605.9,804.6 L605.9,804.7Z" fill="url(#BLf)"/>
<path d="M603.2,802.9 L603.2,802.9 L603.8,802.8 L604.4,802.4 L605.1,801.5 L605.7,800.2 L606.4,798.9 L607,798.3 L607.6,798.9 L608.3,800.2 L608.9,801.5 L609.6,802.4 L610.2,802.8 L610.8,802.9 L610.8,802.9Z" fill="url(#BLf)"/>
<path d="M608.1,801.2 L608.1,801.2 L608.7,801 L609.3,800.7 L610,799.9 L610.6,798.6 L611.3,797.4 L611.9,796.8 L612.5,797.4 L613.2,798.6 L613.8,799.9 L614.5,800.7 L615.1,801 L615.7,801.2 L615.7,801.2Z" fill="url(#BLf)"/>
<path d="M613,799.5 L613,799.4 L613.6,799.3 L614.2,799 L614.9,798.2 L615.5,797 L616.2,795.8 L616.8,795.3 L617.4,795.8 L618.1,797 L618.7,798.2 L619.4,799 L620,799.3 L620.6,799.4 L620.6,799.5Z" fill="url(#BLf)"/>
</g>
<path filter="url(#soft2)" d="M552.4,832.8 l44.1,-15.7 l0,2.2 l-44.1,15.7 Z" fill="#4a40d4" opacity="0.55"/>
<g filter="url(#soft)" opacity="0.8">
<path d="M548.6,834.3 L548.6,834.3 L549.2,834.2 L549.8,833.9 L550.5,833.3 L551.1,832.4 L551.8,831.5 L552.4,831.1 L553,831.5 L553.7,832.4 L554.3,833.3 L555,833.9 L555.6,834.2 L556.2,834.3 L556.2,834.3Z" fill="url(#BLf)"/>
<path d="M553.5,832.6 L553.5,832.5 L554.1,832.4 L554.7,832.2 L555.4,831.5 L556,830.6 L556.7,829.7 L557.3,829.3 L557.9,829.7 L558.6,830.6 L559.2,831.5 L559.9,832.2 L560.5,832.4 L561.1,832.5 L561.1,832.6Z" fill="url(#BLf)"/>
<path d="M558.4,830.8 L558.4,830.8 L559,830.7 L559.6,830.4 L560.3,829.7 L560.9,828.7 L561.6,827.7 L562.2,827.3 L562.8,827.7 L563.5,828.7 L564.1,829.7 L564.8,830.4 L565.4,830.7 L566,830.8 L566,830.8Z" fill="url(#BLf)"/>
<path d="M563.3,829.1 L563.3,829 L563.9,828.9 L564.5,828.6 L565.2,827.9 L565.8,826.7 L566.5,825.6 L567.1,825.1 L567.7,825.6 L568.4,826.7 L569,827.9 L569.7,828.6 L570.3,828.9 L570.9,829 L570.9,829.1Z" fill="url(#BLf)"/>
<path d="M568.2,827.3 L568.2,827.3 L568.8,827.2 L569.4,826.8 L570.1,826 L570.7,824.8 L571.4,823.5 L572,823 L572.6,823.5 L573.3,824.8 L573.9,826 L574.6,826.8 L575.2,827.2 L575.8,827.3 L575.8,827.3Z" fill="url(#BLf)"/>
<path d="M573.1,825.6 L573.1,825.6 L573.7,825.4 L574.3,825.1 L575,824.2 L575.6,822.9 L576.3,821.7 L576.9,821.1 L577.5,821.7 L578.2,822.9 L578.8,824.2 L579.5,825.1 L580.1,825.4 L580.7,825.6 L580.7,825.6Z" fill="url(#BLf)"/>
<path d="M578,823.9 L578,823.8 L578.6,823.7 L579.2,823.3 L579.9,822.5 L580.5,821.3 L581.2,820.1 L581.8,819.5 L582.4,820.1 L583.1,821.3 L583.7,822.5 L584.4,823.3 L585,823.7 L585.6,823.8 L585.6,823.9Z" fill="url(#BLf)"/>
<path d="M582.9,822.1 L582.9,822.1 L583.5,822 L584.1,821.6 L584.8,820.9 L585.4,819.8 L586.1,818.7 L586.7,818.2 L587.3,818.7 L588,819.8 L588.6,820.9 L589.3,821.6 L589.9,822 L590.5,822.1 L590.5,822.1Z" fill="url(#BLf)"/>
<path d="M587.8,820.4 L587.8,820.3 L588.4,820.2 L589,819.9 L589.7,819.3 L590.3,818.3 L591,817.3 L591.6,816.9 L592.2,817.3 L592.9,818.3 L593.5,819.3 L594.2,819.9 L594.8,820.2 L595.4,820.3 L595.4,820.4Z" fill="url(#BLf)"/>
</g>
<g filter="url(#soft)" opacity="0.95">
<path d="M494,776 L494,775.9 L495.1,775.6 L496.1,774.8 L497.2,773 L498.3,770.2 L499.3,767.4 L500.4,766.2 L501.5,767.4 L502.5,770.2 L503.6,773 L504.7,774.8 L505.7,775.6 L506.8,775.9 L506.8,776Z" fill="url(#BLf)"/>
<path d="M507.2,777.5 L507.2,777.4 L508.3,776.9 L509.4,775.5 L510.5,772.4 L511.7,767.7 L512.8,763 L513.9,761 L515,763 L516.1,767.7 L517.3,772.4 L518.4,775.5 L519.5,776.9 L520.6,777.4 L520.6,777.5Z" fill="url(#BLf)"/>
<path d="M520.8,784 L520.8,783.9 L521.9,783.6 L522.9,782.5 L524,780.3 L525.1,776.9 L526.1,773.5 L527.2,772 L528.3,773.5 L529.3,776.9 L530.4,780.3 L531.5,782.5 L532.5,783.6 L533.6,783.9 L533.6,784Z" fill="url(#BLf)"/>
<path d="M534.1,783 L534.1,782.8 L535.2,782 L536.3,779.6 L537.4,774.5 L538.6,766.6 L539.7,758.6 L540.8,755.2 L541.9,758.6 L543,766.6 L544.2,774.5 L545.3,779.6 L546.4,782 L547.5,782.8 L547.5,783Z" fill="url(#BLf)"/>
<path d="M542,789 L542,788.9 L543,788.5 L544,787.5 L544.9,785.2 L545.9,781.7 L546.8,778.2 L547.8,776.7 L548.8,778.2 L549.7,781.7 L550.7,785.2 L551.6,787.5 L552.6,788.5 L553.6,788.9 L553.6,789Z" fill="url(#BLf)"/>
<path d="M555.5,790 L555.5,789.8 L556.5,789.3 L557.5,787.8 L558.4,784.5 L559.4,779.4 L560.3,774.2 L561.3,772 L562.3,774.2 L563.2,779.4 L564.2,784.5 L565.1,787.8 L566.1,789.3 L567.1,789.8 L567.1,790Z" fill="url(#BLf)"/>
<path d="M562.7,792 L562.7,791.9 L563.6,791.5 L564.5,790.3 L565.4,787.7 L566.3,783.7 L567.2,779.7 L568.1,778 L569,779.7 L569.9,783.7 L570.8,787.7 L571.7,790.3 L572.6,791.5 L573.5,791.9 L573.5,792Z" fill="url(#BLf)"/>
<path d="M568.4,793 L568.4,792.9 L569.2,792.6 L570.1,791.6 L570.9,789.4 L571.8,786.1 L572.6,782.8 L573.5,781.4 L574.4,782.8 L575.2,786.1 L576.1,789.4 L576.9,791.6 L577.8,792.6 L578.6,792.9 L578.6,793Z" fill="url(#BLf)"/>
<path d="M584,794 L584,793.8 L585,793.4 L586,791.9 L586.9,788.7 L587.9,783.8 L588.8,778.8 L589.8,776.7 L590.8,778.8 L591.7,783.8 L592.7,788.7 L593.6,791.9 L594.6,793.4 L595.6,793.8 L595.6,794Z" fill="url(#BLf)"/>
<path d="M589.7,796 L589.7,795.9 L590.5,795.6 L591.3,794.8 L592.1,792.9 L592.9,790.1 L593.7,787.2 L594.5,786 L595.3,787.2 L596.1,790.1 L596.9,792.9 L597.7,794.8 L598.5,795.6 L599.3,795.9 L599.3,796Z" fill="url(#BLf)"/>
<path d="M595.5,797 L595.5,796.9 L596.3,796.7 L597.1,796 L597.9,794.4 L598.7,791.9 L599.5,789.5 L600.3,788.4 L601.1,789.5 L601.9,791.9 L602.7,794.4 L603.5,796 L604.3,796.7 L605.1,796.9 L605.1,797Z" fill="url(#BLf)"/>
<path d="M601.7,797 L601.7,796.9 L602.5,796.7 L603.2,796.1 L604,794.7 L604.7,792.6 L605.5,790.5 L606.2,789.6 L606.9,790.5 L607.7,792.6 L608.4,794.7 L609.2,796.1 L609.9,796.7 L610.7,796.9 L610.7,797Z" fill="url(#BLf)"/>
<path d="M607.5,795 L607.5,794.9 L608.3,794.7 L609,794.1 L609.8,792.9 L610.5,790.9 L611.3,788.9 L612,788 L612.7,788.9 L613.5,790.9 L614.2,792.9 L615,794.1 L615.7,794.7 L616.5,794.9 L616.5,795Z" fill="url(#BLf)"/>
<path d="M614.8,792 L614.8,791.9 L615.5,791.8 L616.2,791.3 L616.9,790.2 L617.6,788.5 L618.3,786.7 L619,786 L619.7,786.7 L620.4,788.5 L621.1,790.2 L621.8,791.3 L622.5,791.8 L623.2,791.9 L623.2,792Z" fill="url(#BLf)"/>
<path d="M621.8,789 L621.8,789 L622.5,788.8 L623.2,788.3 L623.9,787.3 L624.6,785.7 L625.3,784.2 L626,783.5 L626.7,784.2 L627.4,785.7 L628.1,787.3 L628.8,788.3 L629.5,788.8 L630.2,789 L630.2,789Z" fill="url(#BLf)"/>
</g>
<g filter="url(#soft)" opacity="0.8">
<path d="M522.6,797 L522.6,796.9 L523.5,796.6 L524.4,795.8 L525.3,793.9 L526.2,791.1 L527.1,788.2 L528,787 L528.9,788.2 L529.8,791.1 L530.7,793.9 L531.6,795.8 L532.5,796.6 L533.4,796.9 L533.4,797Z" fill="url(#BLf)"/>
<path d="M531.6,801 L531.6,800.9 L532.5,800.6 L533.4,799.8 L534.3,797.9 L535.2,795.1 L536.1,792.2 L537,791 L537.9,792.2 L538.8,795.1 L539.7,797.9 L540.6,799.8 L541.5,800.6 L542.4,800.9 L542.4,801Z" fill="url(#BLf)"/>
<path d="M540.6,800 L540.6,799.9 L541.5,799.6 L542.4,798.7 L543.3,796.6 L544.2,793.5 L545.1,790.4 L546,789 L546.9,790.4 L547.8,793.5 L548.7,796.6 L549.6,798.7 L550.5,799.6 L551.4,799.9 L551.4,800Z" fill="url(#BLf)"/>
<path d="M554.6,806 L554.6,805.9 L555.5,805.6 L556.4,804.7 L557.3,802.6 L558.2,799.5 L559.1,796.4 L560,795 L560.9,796.4 L561.8,799.5 L562.7,802.6 L563.6,804.7 L564.5,805.6 L565.4,805.9 L565.4,806Z" fill="url(#BLf)"/>
<path d="M565.6,808 L565.6,807.9 L566.5,807.6 L567.4,806.7 L568.3,804.6 L569.2,801.5 L570.1,798.4 L571,797 L571.9,798.4 L572.8,801.5 L573.7,804.6 L574.6,806.7 L575.5,807.6 L576.4,807.9 L576.4,808Z" fill="url(#BLf)"/>
<path d="M574.9,809 L574.9,808.9 L575.7,808.6 L576.6,807.8 L577.4,805.9 L578.3,803.1 L579.1,800.2 L580,799 L580.9,800.2 L581.7,803.1 L582.6,805.9 L583.4,807.8 L584.3,808.6 L585.1,808.9 L585.1,809Z" fill="url(#BLf)"/>
<path d="M584.9,806 L584.9,805.9 L585.7,805.7 L586.6,804.9 L587.4,803.2 L588.3,800.7 L589.1,798.1 L590,797 L590.9,798.1 L591.7,800.7 L592.6,803.2 L593.4,804.9 L594.3,805.7 L595.1,805.9 L595.1,806Z" fill="url(#BLf)"/>
<path d="M515.2,803 L515.2,802.9 L516,802.7 L516.8,802 L517.6,800.6 L518.4,798.3 L519.2,796 L520,795 L520.8,796 L521.6,798.3 L522.4,800.6 L523.2,802 L524,802.7 L524.8,802.9 L524.8,803Z" fill="url(#BLf)"/>
<path d="M507.2,807 L507.2,806.9 L508,806.7 L508.8,806.1 L509.6,804.9 L510.4,802.9 L511.2,800.9 L512,800 L512.8,800.9 L513.6,802.9 L514.4,804.9 L515.2,806.1 L516,806.7 L516.8,806.9 L516.8,807Z" fill="url(#BLf)"/>
</g>
<path d="M537.2,800 L537.2,799.8 L540.1,799 L543.1,796.6 L546,791.4 L548.9,783.5 L551.9,775.4 L554.8,772 L557.7,775.4 L560.7,783.5 L563.6,791.4 L566.5,796.6 L569.5,799 L572.4,799.8 L572.4,800Z" fill="url(#g14)"/>
<polygon points="554.3,700 553.9,706.8 553.5,713.6 553.1,720.4 552.7,727.1 552.3,733.9 551.9,740.7 551.5,747.5 551.1,754.3 550.6,761.1 550.2,767.9 549.7,774.6 549.1,781.4 548.5,788.2 547.8,795 561.8,795 561.1,788.2 560.5,781.4 559.9,774.6 559.4,767.9 559,761.1 558.5,754.3 558.1,747.5 557.7,740.7 557.3,733.9 556.9,727.1 556.5,720.4 556.1,713.6 555.7,706.8 555.2,700" fill="url(#g14)"/>
<path d="M564.4,809 L564.4,808.7 L567.3,807.9 L570.3,805.5 L573.2,800.1 L576.1,791.9 L579.1,783.6 L582,780 L584.9,783.6 L587.9,791.9 L590.8,800.1 L593.7,805.5 L596.7,807.9 L599.6,808.7 L599.6,809Z" fill="url(#g13)"/>
<polygon points="581.5,685.5 581.2,693.9 580.8,702.3 580.4,710.7 580,719.1 579.6,727.5 579.2,735.9 578.8,744.2 578.4,752.6 578,761 577.5,769.4 577,777.8 576.5,786.2 575.8,794.6 575.1,803 588.9,803 588.2,794.6 587.5,786.2 587,777.8 586.5,769.4 586,761 585.6,752.6 585.2,744.2 584.8,735.9 584.4,727.5 584,719.1 583.6,710.7 583.2,702.3 582.8,693.9 582.5,685.5" fill="url(#g13)"/>
<path d="M592,809.5 l4.5,-2.6 l3,0.6 l-3.5,2.4 Z" fill="#fff" opacity="0.9"/>
<circle cx="554.8" cy="699.3" r="5.9" fill="url(#glow)"/><circle cx="554.8" cy="699.3" r="3.4" fill="#e97d30"/>
<circle cx="582" cy="684.8" r="5.9" fill="url(#glow)"/><circle cx="582" cy="684.8" r="3.4" fill="#e97d30"/>
</g>
<path d="M389.2,786.8 L527.2,834.6 L664,786.1 M389.9,786.7 l-3,1.1 M456.5,809.8 l-3,1.1 M525.8,833.8 l-3,1.1 M552.6,825.3 l3,1 M598.7,808.9 l3,1 M644.7,792.6 l3,1" fill="none" stroke="#555" stroke-width="0.55" opacity="0.75"/>
<text x="377.5" y="800.7" font-size="11.6" fill="#2a2a2a" text-anchor="middle" font-weight="bold">10</text>
<text x="449" y="824.3" font-size="11.6" fill="#2a2a2a" text-anchor="middle" font-weight="bold">5</text>
<text x="517.3" y="848.7" font-size="11.6" fill="#2a2a2a" text-anchor="middle" font-weight="bold">0</text>
<text x="566.3" y="840.7" font-size="11.6" fill="#2a2a2a" text-anchor="middle" font-weight="bold">-10</text>
<text x="606.5" y="824.3" font-size="11.6" fill="#2a2a2a" text-anchor="middle" font-weight="bold">0</text>
<text x="655.2" y="808.3" font-size="11.6" fill="#2a2a2a" text-anchor="middle" font-weight="bold">10</text>
<text transform="translate(430.3,854.3) rotate(16) scale(0.879,1)" font-size="14.6" fill="#161616" text-anchor="middle">Range (km)</text>
<text transform="translate(622.8,853.6) rotate(-12.6) scale(0.802,1)" font-size="14.6" fill="#161616" text-anchor="middle">Velocity (m/s)</text>
<text x="364.6" y="662.5" font-size="31.5" fill="#000" text-anchor="start" font-weight="normal">f</text>
<text x="406.6" y="668.7" font-size="15.1" fill="#1c3874" text-anchor="start" font-weight="normal" stroke="#1c3874" stroke-width="0.22">Meas. R1: 3.01 km</text>
<text x="453.7" y="686.7" font-size="15.1" fill="#1c3874" text-anchor="start" font-weight="normal" stroke="#1c3874" stroke-width="0.22">V1: -0.03 m/s</text>
<text x="453.2" y="714" font-size="15.1" fill="#1c3874" text-anchor="start" font-weight="normal" stroke="#1c3874" stroke-width="0.22">R2: 1.04 km</text>
<text x="453.7" y="731.8" font-size="15.1" fill="#1c3874" text-anchor="start" font-weight="normal" stroke="#1c3874" stroke-width="0.22">V2: 0.03 m/s</text>
<text x="212.5" y="899.9" font-size="15.1" fill="#000" text-anchor="start" font-weight="normal" stroke="#000" stroke-width="0.22">Settings target 1: R1: 3 km V1: 0 m/s</text>
<text x="246.7" y="917.9" font-size="15.1" fill="#000" text-anchor="start" font-weight="normal" stroke="#000" stroke-width="0.22">target 2: R2: 1 km V2: 0 m/s</text>
<g clip-path="url(#c15)">
<polygon points="39,1128.9 177,1176.7 313.8,1128.2 178.1,1080.3" fill="#008066"/>
<g filter="url(#soft)" opacity="1">
<path d="M144,1091.5 L144,1091.5 L145.3,1091.4 L146.7,1091.1 L148,1090.6 L149.3,1089.8 L150.7,1089 L152,1088.6 L153.3,1089 L154.7,1089.8 L156,1090.6 L157.3,1091.1 L158.7,1091.4 L160,1091.5 L160,1091.5Z" fill="#028166"/>
<path d="M157,1086.6 L157,1086.6 L158.3,1086.5 L159.7,1086.3 L161,1085.7 L162.3,1084.9 L163.7,1084.1 L165,1083.8 L166.3,1084.1 L167.7,1084.9 L169,1085.7 L170.3,1086.3 L171.7,1086.5 L173,1086.6 L173,1086.6Z" fill="#028166"/>
<path d="M184,1087.4 L184,1087.4 L185.3,1087.3 L186.7,1087 L188,1086.5 L189.3,1085.6 L190.7,1084.8 L192,1084.4 L193.3,1084.8 L194.7,1085.6 L196,1086.5 L197.3,1087 L198.7,1087.3 L200,1087.4 L200,1087.4Z" fill="#028166"/>
</g>
<path filter="url(#soft2)" d="M120,1108 L178,1088 L236,1108 L230,1111 L178,1094 L128,1111 Z" fill="#0c8867" opacity="0.5"/>
<path filter="url(#soft2)" d="M138,1158 L262,1113.5 L266,1116 L143,1161 Z" fill="#1a9069" opacity="0.4"/>
<path filter="url(#soft2)" d="M176,1168 L300,1124 L304,1126.5 L181,1171 Z" fill="#1a9069" opacity="0.35"/>
<ellipse cx="205" cy="1139" rx="40" ry="20" fill="url(#GH)" opacity="0.9"/>
<ellipse cx="277" cy="1130" rx="36" ry="17" fill="url(#GH)" opacity="0.9"/>
<g filter="url(#soft)" opacity="0.95">
<path d="M156.4,1121 L156.4,1120.9 L157.5,1120.5 L158.5,1119.4 L159.6,1116.9 L160.7,1113.1 L161.7,1109.3 L162.8,1107.6 L163.9,1109.3 L164.9,1113.1 L166,1116.9 L167.1,1119.4 L168.1,1120.5 L169.2,1120.9 L169.2,1121Z" fill="url(#GLf)"/>
<path d="M126.1,1145 L126.1,1144.9 L127.1,1144.6 L128.1,1143.8 L129,1142.1 L130,1139.4 L130.9,1136.7 L131.9,1135.5 L132.9,1136.7 L133.8,1139.4 L134.8,1142.1 L135.7,1143.8 L136.7,1144.6 L137.7,1144.9 L137.7,1145Z" fill="url(#GLf)"/>
<path d="M229.3,1116 L229.3,1115.9 L230.4,1115.6 L231.4,1114.7 L232.5,1112.8 L233.6,1109.9 L234.6,1107 L235.7,1105.7 L236.8,1107 L237.8,1109.9 L238.9,1112.8 L240,1114.7 L241,1115.6 L242.1,1115.9 L242.1,1116Z" fill="url(#GLf)"/>
</g>
<g filter="url(#soft)" opacity="0.9">
<path d="M192,1134 L192,1133.8 L193,1133.4 L194,1131.9 L194.9,1128.7 L195.9,1123.8 L196.8,1118.8 L197.8,1116.7 L198.8,1118.8 L199.7,1123.8 L200.7,1128.7 L201.6,1131.9 L202.6,1133.4 L203.6,1133.8 L203.6,1134Z" fill="url(#GLf)"/>
<path d="M204.7,1134 L204.7,1133.8 L205.7,1133.1 L206.7,1131.1 L207.6,1126.7 L208.6,1119.9 L209.5,1113 L210.5,1110.1 L211.5,1113 L212.4,1119.9 L213.4,1126.7 L214.3,1131.1 L215.3,1133.1 L216.3,1133.8 L216.3,1134Z" fill="url(#GLf)"/>
<path d="M211.7,1136 L211.7,1135.8 L212.6,1135.4 L213.5,1133.9 L214.4,1130.8 L215.3,1125.9 L216.2,1121 L217.1,1118.9 L218,1121 L218.9,1125.9 L219.8,1130.8 L220.7,1133.9 L221.6,1135.4 L222.5,1135.8 L222.5,1136Z" fill="url(#GLf)"/>
<path d="M217.5,1137 L217.5,1136.9 L218.3,1136.5 L219.2,1135.4 L220,1132.9 L220.9,1129.1 L221.7,1125.3 L222.6,1123.7 L223.5,1125.3 L224.3,1129.1 L225.2,1132.9 L226,1135.4 L226.9,1136.5 L227.7,1136.9 L227.7,1137Z" fill="url(#GLf)"/>
<path d="M223.2,1136 L223.2,1135.9 L224,1135.6 L224.8,1134.7 L225.6,1132.6 L226.4,1129.5 L227.2,1126.4 L228,1125 L228.8,1126.4 L229.6,1129.5 L230.4,1132.6 L231.2,1134.7 L232,1135.6 L232.8,1135.9 L232.8,1136Z" fill="url(#GLf)"/>
<path d="M186.5,1138 L186.5,1137.9 L187.4,1137.5 L188.3,1136.3 L189.2,1133.8 L190.1,1129.9 L191,1126 L191.9,1124.3 L192.8,1126 L193.7,1129.9 L194.6,1133.8 L195.5,1136.3 L196.4,1137.5 L197.3,1137.9 L197.3,1138Z" fill="url(#GLf)"/>
<path d="M181.3,1144 L181.3,1143.9 L182.1,1143.6 L183,1142.8 L183.8,1140.9 L184.7,1138.1 L185.5,1135.2 L186.4,1134 L187.3,1135.2 L188.1,1138.1 L189,1140.9 L189.8,1142.8 L190.7,1143.6 L191.5,1143.9 L191.5,1144Z" fill="url(#GLf)"/>
<path d="M176.2,1146 L176.2,1145.9 L177,1145.6 L177.8,1144.8 L178.6,1143.1 L179.4,1140.4 L180.2,1137.7 L181,1136.5 L181.8,1137.7 L182.6,1140.4 L183.4,1143.1 L184.2,1144.8 L185,1145.6 L185.8,1145.9 L185.8,1146Z" fill="url(#GLf)"/>
<path d="M170.7,1149 L170.7,1148.9 L171.5,1148.7 L172.3,1148 L173.1,1146.4 L173.9,1144 L174.7,1141.5 L175.5,1140.5 L176.3,1141.5 L177.1,1144 L177.9,1146.4 L178.7,1148 L179.5,1148.7 L180.3,1148.9 L180.3,1149Z" fill="url(#GLf)"/>
<path d="M235.2,1132 L235.2,1131.9 L236,1131.6 L236.8,1130.8 L237.6,1128.9 L238.4,1126.1 L239.2,1123.2 L240,1122 L240.8,1123.2 L241.6,1126.1 L242.4,1128.9 L243.2,1130.8 L244,1131.6 L244.8,1131.9 L244.8,1132Z" fill="url(#GLf)"/>
<path d="M241.2,1130 L241.2,1129.9 L242,1129.7 L242.8,1128.9 L243.6,1127.2 L244.4,1124.7 L245.2,1122.1 L246,1121 L246.8,1122.1 L247.6,1124.7 L248.4,1127.2 L249.2,1128.9 L250,1129.7 L250.8,1129.9 L250.8,1130Z" fill="url(#GLf)"/>
<path d="M247.2,1128 L247.2,1127.9 L248,1127.7 L248.8,1127 L249.6,1125.4 L250.4,1123 L251.2,1120.5 L252,1119.5 L252.8,1120.5 L253.6,1123 L254.4,1125.4 L255.2,1127 L256,1127.7 L256.8,1127.9 L256.8,1128Z" fill="url(#GLf)"/>
</g>
<g filter="url(#soft)" opacity="0.95">
<path d="M256.8,1118 L256.8,1117.9 L257.8,1117.5 L258.8,1116.3 L259.7,1113.7 L260.7,1109.7 L261.6,1105.7 L262.6,1104 L263.6,1105.7 L264.5,1109.7 L265.5,1113.7 L266.4,1116.3 L267.4,1117.5 L268.4,1117.9 L268.4,1118Z" fill="url(#GLf)"/>
<path d="M261.2,1122 L261.2,1121.9 L262,1121.5 L262.9,1120.3 L263.7,1117.7 L264.6,1113.7 L265.4,1109.7 L266.3,1108 L267.2,1109.7 L268,1113.7 L268.9,1117.7 L269.7,1120.3 L270.6,1121.5 L271.4,1121.9 L271.4,1122Z" fill="url(#GLf)"/>
<path d="M278.5,1124 L278.5,1123.8 L279.4,1123.3 L280.3,1121.6 L281.2,1118.1 L282.1,1112.5 L283,1107 L283.9,1104.6 L284.8,1107 L285.7,1112.5 L286.6,1118.1 L287.5,1121.6 L288.4,1123.3 L289.3,1123.8 L289.3,1124Z" fill="url(#GLf)"/>
<path d="M284.9,1126 L284.9,1125.9 L285.7,1125.5 L286.6,1124.3 L287.4,1121.8 L288.3,1117.9 L289.1,1114 L290,1112.3 L290.9,1114 L291.7,1117.9 L292.6,1121.8 L293.4,1124.3 L294.3,1125.5 L295.1,1125.9 L295.1,1126Z" fill="url(#GLf)"/>
<path d="M290,1127 L290,1126.9 L290.8,1126.5 L291.6,1125.5 L292.4,1123.2 L293.2,1119.6 L294,1116 L294.8,1114.5 L295.6,1116 L296.4,1119.6 L297.2,1123.2 L298,1125.5 L298.8,1126.5 L299.6,1126.9 L299.6,1127Z" fill="url(#GLf)"/>
<path d="M294.8,1127.5 L294.8,1127.4 L295.6,1127.1 L296.4,1126 L297.2,1123.9 L298,1120.5 L298.8,1117.1 L299.6,1115.6 L300.4,1117.1 L301.2,1120.5 L302,1123.9 L302.8,1126 L303.6,1127.1 L304.4,1127.4 L304.4,1127.5Z" fill="url(#GLf)"/>
<path d="M299.5,1128.5 L299.5,1128.4 L300.3,1128.1 L301,1127.3 L301.8,1125.6 L302.5,1122.8 L303.3,1120.1 L304,1118.9 L304.7,1120.1 L305.5,1122.8 L306.2,1125.6 L307,1127.3 L307.7,1128.1 L308.5,1128.4 L308.5,1128.5Z" fill="url(#GLf)"/>
<path d="M304.3,1129.5 L304.3,1129.4 L305,1129.2 L305.7,1128.6 L306.4,1127.4 L307.1,1125.4 L307.8,1123.4 L308.5,1122.5 L309.2,1123.4 L309.9,1125.4 L310.6,1127.4 L311.3,1128.6 L312,1129.2 L312.7,1129.4 L312.7,1129.5Z" fill="url(#GLf)"/>
<path d="M253.2,1124 L253.2,1123.9 L254,1123.6 L254.8,1122.7 L255.6,1120.6 L256.4,1117.5 L257.2,1114.4 L258,1113 L258.8,1114.4 L259.6,1117.5 L260.4,1120.6 L261.2,1122.7 L262,1123.6 L262.8,1123.9 L262.8,1124Z" fill="url(#GLf)"/>
<path d="M248.2,1127 L248.2,1126.9 L249,1126.6 L249.8,1125.7 L250.6,1123.8 L251.4,1120.8 L252.2,1117.8 L253,1116.5 L253.8,1117.8 L254.6,1120.8 L255.4,1123.8 L256.2,1125.7 L257,1126.6 L257.8,1126.9 L257.8,1127Z" fill="url(#GLf)"/>
</g>
<g filter="url(#soft)" opacity="0.4">
<path d="M191.2,1152 L191.2,1152 L192,1151.8 L192.8,1151.4 L193.6,1150.4 L194.4,1149 L195.2,1147.5 L196,1146.8 L196.8,1147.5 L197.6,1149 L198.4,1150.4 L199.2,1151.4 L200,1151.8 L200.8,1152 L200.8,1152Z" fill="url(#GLf)"/>
<path d="M196,1150.3 L196,1150.3 L196.8,1150.1 L197.6,1149.7 L198.4,1148.8 L199.2,1147.4 L200,1146 L200.8,1145.4 L201.6,1146 L202.4,1147.4 L203.2,1148.8 L204,1149.7 L204.8,1150.1 L205.6,1150.3 L205.6,1150.3Z" fill="url(#GLf)"/>
<path d="M200.8,1148.6 L200.8,1148.6 L201.6,1148.4 L202.4,1148 L203.2,1147 L204,1145.6 L204.8,1144.1 L205.6,1143.5 L206.4,1144.1 L207.2,1145.6 L208,1147 L208.8,1148 L209.6,1148.4 L210.4,1148.6 L210.4,1148.6Z" fill="url(#GLf)"/>
<path d="M205.6,1146.9 L205.6,1146.9 L206.4,1146.7 L207.2,1146.3 L208,1145.4 L208.8,1144 L209.6,1142.6 L210.4,1142 L211.2,1142.6 L212,1144 L212.8,1145.4 L213.6,1146.3 L214.4,1146.7 L215.2,1146.9 L215.2,1146.9Z" fill="url(#GLf)"/>
<path d="M210.4,1145.2 L210.4,1145.2 L211.2,1145 L212,1144.5 L212.8,1143.5 L213.6,1142 L214.4,1140.5 L215.2,1139.8 L216,1140.5 L216.8,1142 L217.6,1143.5 L218.4,1144.5 L219.2,1145 L220,1145.2 L220,1145.2Z" fill="url(#GLf)"/>
<path d="M215.2,1143.5 L215.2,1143.5 L216,1143.3 L216.8,1143 L217.6,1142.1 L218.4,1140.9 L219.2,1139.6 L220,1139.1 L220.8,1139.6 L221.6,1140.9 L222.4,1142.1 L223.2,1143 L224,1143.3 L224.8,1143.5 L224.8,1143.5Z" fill="url(#GLf)"/>
<path d="M220,1141.8 L220,1141.7 L220.8,1141.6 L221.6,1141 L222.4,1139.9 L223.2,1138.1 L224,1136.3 L224.8,1135.5 L225.6,1136.3 L226.4,1138.1 L227.2,1139.9 L228,1141 L228.8,1141.6 L229.6,1141.7 L229.6,1141.8Z" fill="url(#GLf)"/>
<path d="M224.8,1140.1 L224.8,1140.1 L225.6,1139.9 L226.4,1139.4 L227.2,1138.4 L228,1136.8 L228.8,1135.3 L229.6,1134.6 L230.4,1135.3 L231.2,1136.8 L232,1138.4 L232.8,1139.4 L233.6,1139.9 L234.4,1140.1 L234.4,1140.1Z" fill="url(#GLf)"/>
<path d="M229.6,1138.4 L229.6,1138.4 L230.4,1138.2 L231.2,1137.9 L232,1137.1 L232.8,1135.8 L233.6,1134.6 L234.4,1134.1 L235.2,1134.6 L236,1135.8 L236.8,1137.1 L237.6,1137.9 L238.4,1138.2 L239.2,1138.4 L239.2,1138.4Z" fill="url(#GLf)"/>
<path d="M234.4,1136.7 L234.4,1136.7 L235.2,1136.5 L236,1136.2 L236.8,1135.3 L237.6,1134.1 L238.4,1132.8 L239.2,1132.3 L240,1132.8 L240.8,1134.1 L241.6,1135.3 L242.4,1136.2 L243.2,1136.5 L244,1136.7 L244,1136.7Z" fill="url(#GLf)"/>
<path d="M239.2,1135 L239.2,1135 L240,1134.8 L240.8,1134.4 L241.6,1133.6 L242.4,1132.3 L243.2,1131 L244,1130.5 L244.8,1131 L245.6,1132.3 L246.4,1133.6 L247.2,1134.4 L248,1134.8 L248.8,1135 L248.8,1135Z" fill="url(#GLf)"/>
<path d="M244,1133.3 L244,1133.3 L244.8,1133.1 L245.6,1132.8 L246.4,1131.9 L247.2,1130.7 L248,1129.4 L248.8,1128.9 L249.6,1129.4 L250.4,1130.7 L251.2,1131.9 L252,1132.8 L252.8,1133.1 L253.6,1133.3 L253.6,1133.3Z" fill="url(#GLf)"/>
<path d="M248.8,1131.6 L248.8,1131.6 L249.6,1131.5 L250.4,1131.1 L251.2,1130.4 L252,1129.3 L252.8,1128.2 L253.6,1127.7 L254.4,1128.2 L255.2,1129.3 L256,1130.4 L256.8,1131.1 L257.6,1131.5 L258.4,1131.6 L258.4,1131.6Z" fill="url(#GLf)"/>
<path d="M253.6,1129.9 L253.6,1129.9 L254.4,1129.7 L255.2,1129.3 L256,1128.4 L256.8,1126.9 L257.6,1125.5 L258.4,1124.8 L259.2,1125.5 L260,1126.9 L260.8,1128.4 L261.6,1129.3 L262.4,1129.7 L263.2,1129.9 L263.2,1129.9Z" fill="url(#GLf)"/>
</g>
<g filter="url(#soft)" opacity="0.35">
<path d="M217.2,1156 L217.2,1155.9 L218,1155.7 L218.8,1155.1 L219.6,1153.8 L220.4,1151.7 L221.2,1149.6 L222,1148.7 L222.8,1149.6 L223.6,1151.7 L224.4,1153.8 L225.2,1155.1 L226,1155.7 L226.8,1155.9 L226.8,1156Z" fill="url(#GLf)"/>
<path d="M222,1154.3 L222,1154.2 L222.8,1154.1 L223.6,1153.6 L224.4,1152.5 L225.2,1150.9 L226,1149.2 L226.8,1148.5 L227.6,1149.2 L228.4,1150.9 L229.2,1152.5 L230,1153.6 L230.8,1154.1 L231.6,1154.2 L231.6,1154.3Z" fill="url(#GLf)"/>
<path d="M226.8,1152.6 L226.8,1152.5 L227.6,1152.4 L228.4,1151.9 L229.2,1150.9 L230,1149.2 L230.8,1147.6 L231.6,1146.9 L232.4,1147.6 L233.2,1149.2 L234,1150.9 L234.8,1151.9 L235.6,1152.4 L236.4,1152.5 L236.4,1152.6Z" fill="url(#GLf)"/>
<path d="M231.6,1150.9 L231.6,1150.9 L232.4,1150.7 L233.2,1150.3 L234,1149.5 L234.8,1148.2 L235.6,1146.9 L236.4,1146.3 L237.2,1146.9 L238,1148.2 L238.8,1149.5 L239.6,1150.3 L240.4,1150.7 L241.2,1150.9 L241.2,1150.9Z" fill="url(#GLf)"/>
<path d="M236.4,1149.2 L236.4,1149.2 L237.2,1149 L238,1148.6 L238.8,1147.8 L239.6,1146.5 L240.4,1145.2 L241.2,1144.7 L242,1145.2 L242.8,1146.5 L243.6,1147.8 L244.4,1148.6 L245.2,1149 L246,1149.2 L246,1149.2Z" fill="url(#GLf)"/>
<path d="M241.2,1147.5 L241.2,1147.5 L242,1147.3 L242.8,1146.9 L243.6,1146 L244.4,1144.5 L245.2,1143.1 L246,1142.5 L246.8,1143.1 L247.6,1144.5 L248.4,1146 L249.2,1146.9 L250,1147.3 L250.8,1147.5 L250.8,1147.5Z" fill="url(#GLf)"/>
<path d="M246,1145.8 L246,1145.8 L246.8,1145.6 L247.6,1145.2 L248.4,1144.4 L249.2,1143 L250,1141.7 L250.8,1141.1 L251.6,1141.7 L252.4,1143 L253.2,1144.4 L254,1145.2 L254.8,1145.6 L255.6,1145.8 L255.6,1145.8Z" fill="url(#GLf)"/>
<path d="M250.8,1144.1 L250.8,1144 L251.6,1143.9 L252.4,1143.4 L253.2,1142.3 L254,1140.6 L254.8,1139 L255.6,1138.2 L256.4,1139 L257.2,1140.6 L258,1142.3 L258.8,1143.4 L259.6,1143.9 L260.4,1144 L260.4,1144.1Z" fill="url(#GLf)"/>
<path d="M255.6,1142.4 L255.6,1142.4 L256.4,1142.2 L257.2,1141.9 L258,1141.1 L258.8,1139.9 L259.6,1138.6 L260.4,1138.1 L261.2,1138.6 L262,1139.9 L262.8,1141.1 L263.6,1141.9 L264.4,1142.2 L265.2,1142.4 L265.2,1142.4Z" fill="url(#GLf)"/>
<path d="M260.4,1140.7 L260.4,1140.7 L261.2,1140.6 L262,1140.2 L262.8,1139.5 L263.6,1138.4 L264.4,1137.2 L265.2,1136.8 L266,1137.2 L266.8,1138.4 L267.6,1139.5 L268.4,1140.2 L269.2,1140.6 L270,1140.7 L270,1140.7Z" fill="url(#GLf)"/>
<path d="M265.2,1139 L265.2,1138.9 L266,1138.8 L266.8,1138.3 L267.6,1137.2 L268.4,1135.6 L269.2,1134 L270,1133.3 L270.8,1134 L271.6,1135.6 L272.4,1137.2 L273.2,1138.3 L274,1138.8 L274.8,1138.9 L274.8,1139Z" fill="url(#GLf)"/>
<path d="M270,1137.3 L270,1137.3 L270.8,1137.1 L271.6,1136.7 L272.4,1135.8 L273.2,1134.5 L274,1133.1 L274.8,1132.5 L275.6,1133.1 L276.4,1134.5 L277.2,1135.8 L278,1136.7 L278.8,1137.1 L279.6,1137.3 L279.6,1137.3Z" fill="url(#GLf)"/>
<path d="M274.8,1135.6 L274.8,1135.6 L275.6,1135.5 L276.4,1135.1 L277.2,1134.4 L278,1133.3 L278.8,1132.1 L279.6,1131.6 L280.4,1132.1 L281.2,1133.3 L282,1134.4 L282.8,1135.1 L283.6,1135.5 L284.4,1135.6 L284.4,1135.6Z" fill="url(#GLf)"/>
<path d="M279.6,1133.9 L279.6,1133.9 L280.4,1133.7 L281.2,1133.3 L282,1132.5 L282.8,1131.2 L283.6,1129.9 L284.4,1129.3 L285.2,1129.9 L286,1131.2 L286.8,1132.5 L287.6,1133.3 L288.4,1133.7 L289.2,1133.9 L289.2,1133.9Z" fill="url(#GLf)"/>
</g>
<g filter="url(#soft)" opacity="0.3">
<path d="M155.2,1151.5 L155.2,1151.5 L156,1151.3 L156.8,1151 L157.6,1150.2 L158.4,1148.9 L159.2,1147.7 L160,1147.1 L160.8,1147.7 L161.6,1148.9 L162.4,1150.2 L163.2,1151 L164,1151.3 L164.8,1151.5 L164.8,1151.5Z" fill="url(#GLf)"/>
<path d="M160,1149.8 L160,1149.8 L160.8,1149.6 L161.6,1149.1 L162.4,1148.1 L163.2,1146.5 L164,1144.9 L164.8,1144.2 L165.6,1144.9 L166.4,1146.5 L167.2,1148.1 L168,1149.1 L168.8,1149.6 L169.6,1149.8 L169.6,1149.8Z" fill="url(#GLf)"/>
<path d="M164.8,1148.1 L164.8,1148 L165.6,1147.9 L166.4,1147.3 L167.2,1146.1 L168,1144.2 L168.8,1142.3 L169.6,1141.5 L170.4,1142.3 L171.2,1144.2 L172,1146.1 L172.8,1147.3 L173.6,1147.9 L174.4,1148 L174.4,1148.1Z" fill="url(#GLf)"/>
<path d="M169.6,1146.4 L169.6,1146.3 L170.4,1146.2 L171.2,1145.6 L172,1144.4 L172.8,1142.6 L173.6,1140.8 L174.4,1140 L175.2,1140.8 L176,1142.6 L176.8,1144.4 L177.6,1145.6 L178.4,1146.2 L179.2,1146.3 L179.2,1146.4Z" fill="url(#GLf)"/>
<path d="M174.4,1144.7 L174.4,1144.6 L175.2,1144.5 L176,1144 L176.8,1142.9 L177.6,1141.2 L178.4,1139.5 L179.2,1138.7 L180,1139.5 L180.8,1141.2 L181.6,1142.9 L182.4,1144 L183.2,1144.5 L184,1144.6 L184,1144.7Z" fill="url(#GLf)"/>
<path d="M179.2,1143 L179.2,1143 L180,1142.8 L180.8,1142.4 L181.6,1141.5 L182.4,1140.1 L183.2,1138.7 L184,1138.1 L184.8,1138.7 L185.6,1140.1 L186.4,1141.5 L187.2,1142.4 L188,1142.8 L188.8,1143 L188.8,1143Z" fill="url(#GLf)"/>
<path d="M184,1141.3 L184,1141.3 L184.8,1141.1 L185.6,1140.7 L186.4,1139.7 L187.2,1138.2 L188,1136.8 L188.8,1136.1 L189.6,1136.8 L190.4,1138.2 L191.2,1139.7 L192,1140.7 L192.8,1141.1 L193.6,1141.3 L193.6,1141.3Z" fill="url(#GLf)"/>
</g>
<path d="M187,1142 L187,1141.7 L189.9,1140.9 L192.9,1138.3 L195.8,1132.8 L198.7,1124.3 L201.7,1115.7 L204.6,1112 L207.5,1115.7 L210.5,1124.3 L213.4,1132.8 L216.3,1138.3 L219.3,1140.9 L222.2,1141.7 L222.2,1142Z" fill="url(#g16)"/>
<polygon points="204.2,1022.4 203.7,1030.5 203.3,1038.6 202.9,1046.7 202.5,1054.9 202,1063 201.6,1071.1 201.2,1079.2 200.7,1087.3 200.2,1095.4 199.7,1103.5 199.2,1111.7 198.6,1119.8 198,1127.9 197.2,1136 211.9,1136 211.2,1127.9 210.6,1119.8 210,1111.7 209.5,1103.5 209,1095.4 208.5,1087.3 208,1079.2 207.6,1071.1 207.2,1063 206.7,1054.9 206.3,1046.7 205.9,1038.6 205.5,1030.5 205,1022.4" fill="url(#g16)"/>
<path d="M259.7,1135 L259.7,1134.7 L262.6,1133.9 L265.6,1131.5 L268.5,1126.1 L271.4,1117.9 L274.4,1109.6 L277.3,1106 L280.2,1109.6 L283.2,1117.9 L286.1,1126.1 L289,1131.5 L292,1133.9 L294.9,1134.7 L294.9,1135Z" fill="url(#g17)"/>
<polygon points="276.9,1015.2 276.4,1023.3 276,1031.5 275.6,1039.6 275.2,1047.7 274.7,1055.8 274.3,1064 273.9,1072.1 273.4,1080.2 272.9,1088.4 272.4,1096.5 271.9,1104.6 271.3,1112.7 270.7,1120.9 269.9,1129 284.7,1129 283.9,1120.9 283.3,1112.7 282.7,1104.6 282.2,1096.5 281.7,1088.4 281.2,1080.2 280.7,1072.1 280.3,1064 279.9,1055.8 279.4,1047.7 279,1039.6 278.6,1031.5 278.2,1023.3 277.8,1015.2" fill="url(#g17)"/>
<circle cx="204.6" cy="1021.4" r="5.9" fill="url(#glow)"/><circle cx="204.6" cy="1021.4" r="3.4" fill="#e97d30"/>
<circle cx="277.3" cy="1014.2" r="5.9" fill="url(#glow)"/><circle cx="277.3" cy="1014.2" r="3.4" fill="#e97d30"/>
</g>
<path d="M39,1129.2 L177,1177 L313.8,1128.5 M39.7,1129.1 l-3,1.1 M106.3,1152.2 l-3,1.1 M175.6,1176.2 l-3,1.1 M202.4,1167.7 l3,1 M248.5,1151.3 l3,1 M294.5,1135 l3,1" fill="none" stroke="#555" stroke-width="0.55" opacity="0.75"/>
<text x="27.3" y="1143.1" font-size="11.6" fill="#2a2a2a" text-anchor="middle" font-weight="bold">10</text>
<text x="98.8" y="1166.7" font-size="11.6" fill="#2a2a2a" text-anchor="middle" font-weight="bold">5</text>
<text x="167.1" y="1191.1" font-size="11.6" fill="#2a2a2a" text-anchor="middle" font-weight="bold">0</text>
<text x="216.1" y="1183.1" font-size="11.6" fill="#2a2a2a" text-anchor="middle" font-weight="bold">-10</text>
<text x="256.3" y="1166.7" font-size="11.6" fill="#2a2a2a" text-anchor="middle" font-weight="bold">0</text>
<text x="305" y="1150.7" font-size="11.6" fill="#2a2a2a" text-anchor="middle" font-weight="bold">10</text>
<text transform="translate(82.6,1200) rotate(16) scale(0.879,1)" font-size="14.6" fill="#161616" text-anchor="middle">Range (km)</text>
<text transform="translate(265.6,1195.9) rotate(-12.6) scale(0.802,1)" font-size="14.6" fill="#161616" text-anchor="middle">Velocity (m/s)</text>
<text x="11.1" y="990.9" font-size="31.5" fill="#000" text-anchor="start" font-weight="normal">g</text>
<text x="48.2" y="1011.1" font-size="15.1" fill="#44652a" text-anchor="start" font-weight="normal" stroke="#44652a" stroke-width="0.22">Meas. R1: 3.01 km</text>
<text x="94.9" y="1029" font-size="15.1" fill="#44652a" text-anchor="start" font-weight="normal" stroke="#44652a" stroke-width="0.22">V1: 0.03 m/s</text>
<text x="94.4" y="1057.1" font-size="15.1" fill="#44652a" text-anchor="start" font-weight="normal" stroke="#44652a" stroke-width="0.22">R2: 1.06 km</text>
<text x="94.9" y="1074.6" font-size="15.1" fill="#44652a" text-anchor="start" font-weight="normal" stroke="#44652a" stroke-width="0.22">V2: 9.97 m/s</text>
<g clip-path="url(#c18)">
<polygon points="391,1128.9 529,1176.7 665.8,1128.2 530.1,1080.3" fill="#3E26A8"/>
<ellipse cx="558" cy="1140" rx="40" ry="19" fill="url(#BH)" opacity="0.85"/>
<ellipse cx="629" cy="1130" rx="34" ry="16" fill="url(#BH)" opacity="0.85"/>
<path filter="url(#soft2)" d="M489,1160.7 l132.3,-47 l0,2.2 l-132.3,47 Z" fill="#4a40d4" opacity="0.5"/>
<g filter="url(#soft)" opacity="0.8">
<path d="M485.2,1162.2 L485.2,1162.2 L485.8,1162 L486.4,1161.7 L487.1,1160.9 L487.7,1159.7 L488.4,1158.4 L489,1157.9 L489.6,1158.4 L490.3,1159.7 L490.9,1160.9 L491.6,1161.7 L492.2,1162 L492.8,1162.2 L492.8,1162.2Z" fill="url(#BLf)"/>
<path d="M490.1,1160.5 L490.1,1160.4 L490.7,1160.3 L491.3,1159.9 L492,1159.1 L492.6,1157.9 L493.3,1156.7 L493.9,1156.1 L494.5,1156.7 L495.2,1157.9 L495.8,1159.1 L496.5,1159.9 L497.1,1160.3 L497.7,1160.4 L497.7,1160.5Z" fill="url(#BLf)"/>
<path d="M495,1158.7 L495,1158.7 L495.6,1158.6 L496.2,1158.2 L496.9,1157.4 L497.5,1156.1 L498.2,1154.9 L498.8,1154.3 L499.4,1154.9 L500.1,1156.1 L500.7,1157.4 L501.4,1158.2 L502,1158.6 L502.6,1158.7 L502.6,1158.7Z" fill="url(#BLf)"/>
<path d="M499.9,1157 L499.9,1156.9 L500.5,1156.8 L501.1,1156.4 L501.8,1155.6 L502.4,1154.3 L503.1,1153.1 L503.7,1152.5 L504.3,1153.1 L505,1154.3 L505.6,1155.6 L506.3,1156.4 L506.9,1156.8 L507.5,1156.9 L507.5,1157Z" fill="url(#BLf)"/>
<path d="M504.8,1155.2 L504.8,1155.2 L505.4,1155.1 L506,1154.7 L506.7,1153.8 L507.3,1152.5 L508,1151.2 L508.6,1150.6 L509.2,1151.2 L509.9,1152.5 L510.5,1153.8 L511.2,1154.7 L511.8,1155.1 L512.4,1155.2 L512.4,1155.2Z" fill="url(#BLf)"/>
<path d="M509.7,1153.5 L509.7,1153.5 L510.3,1153.3 L510.9,1152.9 L511.6,1152 L512.2,1150.6 L512.9,1149.3 L513.5,1148.7 L514.1,1149.3 L514.8,1150.6 L515.4,1152 L516.1,1152.9 L516.7,1153.3 L517.3,1153.5 L517.3,1153.5Z" fill="url(#BLf)"/>
<path d="M514.6,1151.8 L514.6,1151.7 L515.2,1151.6 L515.8,1151.1 L516.5,1150.2 L517.1,1148.7 L517.8,1147.3 L518.4,1146.7 L519,1147.3 L519.7,1148.7 L520.3,1150.2 L521,1151.1 L521.6,1151.6 L522.2,1151.7 L522.2,1151.8Z" fill="url(#BLf)"/>
<path d="M519.5,1150 L519.5,1150 L520.1,1149.8 L520.7,1149.4 L521.4,1148.4 L522,1146.8 L522.7,1145.2 L523.3,1144.6 L523.9,1145.2 L524.6,1146.8 L525.2,1148.4 L525.9,1149.4 L526.5,1149.8 L527.1,1150 L527.1,1150Z" fill="url(#BLf)"/>
<path d="M524.4,1148.3 L524.4,1148.2 L525,1148.1 L525.6,1147.6 L526.3,1146.5 L526.9,1144.8 L527.6,1143.2 L528.2,1142.4 L528.8,1143.2 L529.5,1144.8 L530.1,1146.5 L530.8,1147.6 L531.4,1148.1 L532,1148.2 L532,1148.3Z" fill="url(#BLf)"/>
<path d="M529.3,1146.5 L529.3,1146.5 L529.9,1146.3 L530.5,1145.8 L531.2,1144.6 L531.8,1142.9 L532.5,1141.1 L533.1,1140.3 L533.7,1141.1 L534.4,1142.9 L535,1144.6 L535.7,1145.8 L536.3,1146.3 L536.9,1146.5 L536.9,1146.5Z" fill="url(#BLf)"/>
<path d="M534.2,1144.8 L534.2,1144.7 L534.8,1144.6 L535.4,1144 L536.1,1142.8 L536.7,1140.9 L537.4,1139 L538,1138.2 L538.6,1139 L539.3,1140.9 L539.9,1142.8 L540.6,1144 L541.2,1144.6 L541.8,1144.7 L541.8,1144.8Z" fill="url(#BLf)"/>
<path d="M539.1,1143.1 L539.1,1143 L539.7,1142.8 L540.3,1142.2 L541,1141 L541.6,1139 L542.3,1137.1 L542.9,1136.2 L543.5,1137.1 L544.2,1139 L544.8,1141 L545.5,1142.2 L546.1,1142.8 L546.7,1143 L546.7,1143.1Z" fill="url(#BLf)"/>
<path d="M544,1141.3 L544,1141.3 L544.6,1141.1 L545.2,1140.5 L545.9,1139.2 L546.5,1137.2 L547.2,1135.2 L547.8,1134.3 L548.4,1135.2 L549.1,1137.2 L549.7,1139.2 L550.4,1140.5 L551,1141.1 L551.6,1141.3 L551.6,1141.3Z" fill="url(#BLf)"/>
<path d="M548.9,1139.6 L548.9,1139.5 L549.5,1139.3 L550.1,1138.7 L550.8,1137.4 L551.4,1135.5 L552.1,1133.5 L552.7,1132.6 L553.3,1133.5 L554,1135.5 L554.6,1137.4 L555.3,1138.7 L555.9,1139.3 L556.5,1139.5 L556.5,1139.6Z" fill="url(#BLf)"/>
<path d="M553.8,1137.8 L553.8,1137.8 L554.4,1137.6 L555,1137 L555.7,1135.8 L556.3,1133.8 L557,1131.9 L557.6,1131 L558.2,1131.9 L558.9,1133.8 L559.5,1135.8 L560.2,1137 L560.8,1137.6 L561.4,1137.8 L561.4,1137.8Z" fill="url(#BLf)"/>
<path d="M558.7,1136.1 L558.7,1136 L559.3,1135.9 L559.9,1135.3 L560.6,1134.1 L561.2,1132.2 L561.9,1130.4 L562.5,1129.6 L563.1,1130.4 L563.8,1132.2 L564.4,1134.1 L565.1,1135.3 L565.7,1135.9 L566.3,1136 L566.3,1136.1Z" fill="url(#BLf)"/>
<path d="M563.6,1134.4 L563.6,1134.3 L564.2,1134.1 L564.8,1133.6 L565.5,1132.5 L566.1,1130.7 L566.8,1129 L567.4,1128.2 L568,1129 L568.7,1130.7 L569.3,1132.5 L570,1133.6 L570.6,1134.1 L571.2,1134.3 L571.2,1134.4Z" fill="url(#BLf)"/>
<path d="M568.5,1132.6 L568.5,1132.6 L569.1,1132.4 L569.7,1131.9 L570.4,1130.9 L571,1129.2 L571.7,1127.6 L572.3,1126.9 L572.9,1127.6 L573.6,1129.2 L574.2,1130.9 L574.9,1131.9 L575.5,1132.4 L576.1,1132.6 L576.1,1132.6Z" fill="url(#BLf)"/>
<path d="M573.4,1130.9 L573.4,1130.8 L574,1130.7 L574.6,1130.2 L575.3,1129.2 L575.9,1127.7 L576.6,1126.2 L577.2,1125.5 L577.8,1126.2 L578.5,1127.7 L579.1,1129.2 L579.8,1130.2 L580.4,1130.7 L581,1130.8 L581,1130.9Z" fill="url(#BLf)"/>
<path d="M578.3,1129.1 L578.3,1129.1 L578.9,1129 L579.5,1128.5 L580.2,1127.6 L580.8,1126.2 L581.5,1124.7 L582.1,1124.1 L582.7,1124.7 L583.4,1126.2 L584,1127.6 L584.7,1128.5 L585.3,1129 L585.9,1129.1 L585.9,1129.1Z" fill="url(#BLf)"/>
<path d="M583.2,1127.4 L583.2,1127.4 L583.8,1127.2 L584.4,1126.8 L585.1,1125.9 L585.7,1124.6 L586.4,1123.2 L587,1122.6 L587.6,1123.2 L588.3,1124.6 L588.9,1125.9 L589.6,1126.8 L590.2,1127.2 L590.8,1127.4 L590.8,1127.4Z" fill="url(#BLf)"/>
<path d="M588.1,1125.7 L588.1,1125.6 L588.7,1125.5 L589.3,1125.1 L590,1124.3 L590.6,1122.9 L591.3,1121.6 L591.9,1121.1 L592.5,1121.6 L593.2,1122.9 L593.8,1124.3 L594.5,1125.1 L595.1,1125.5 L595.7,1125.6 L595.7,1125.7Z" fill="url(#BLf)"/>
<path d="M593,1123.9 L593,1123.9 L593.6,1123.8 L594.2,1123.4 L594.9,1122.6 L595.5,1121.3 L596.2,1120 L596.8,1119.5 L597.4,1120 L598.1,1121.3 L598.7,1122.6 L599.4,1123.4 L600,1123.8 L600.6,1123.9 L600.6,1123.9Z" fill="url(#BLf)"/>
<path d="M597.9,1122.2 L597.9,1122.1 L598.5,1122 L599.1,1121.6 L599.8,1120.8 L600.4,1119.6 L601.1,1118.4 L601.7,1117.8 L602.3,1118.4 L603,1119.6 L603.6,1120.8 L604.3,1121.6 L604.9,1122 L605.5,1122.1 L605.5,1122.2Z" fill="url(#BLf)"/>
<path d="M602.8,1120.4 L602.8,1120.4 L603.4,1120.3 L604,1119.9 L604.7,1119.1 L605.3,1117.9 L606,1116.7 L606.6,1116.1 L607.2,1116.7 L607.9,1117.9 L608.5,1119.1 L609.2,1119.9 L609.8,1120.3 L610.4,1120.4 L610.4,1120.4Z" fill="url(#BLf)"/>
<path d="M607.7,1118.7 L607.7,1118.7 L608.3,1118.5 L608.9,1118.2 L609.6,1117.4 L610.2,1116.2 L610.9,1114.9 L611.5,1114.4 L612.1,1114.9 L612.8,1116.2 L613.4,1117.4 L614.1,1118.2 L614.7,1118.5 L615.3,1118.7 L615.3,1118.7Z" fill="url(#BLf)"/>
<path d="M612.6,1117 L612.6,1116.9 L613.2,1116.8 L613.8,1116.4 L614.5,1115.7 L615.1,1114.4 L615.8,1113.2 L616.4,1112.7 L617,1113.2 L617.7,1114.4 L618.3,1115.7 L619,1116.4 L619.6,1116.8 L620.2,1116.9 L620.2,1117Z" fill="url(#BLf)"/>
</g>
<path filter="url(#soft2)" d="M512,1166 l127.4,-45.2 l0,2.2 l-127.4,45.2 Z" fill="#4a40d4" opacity="0.5"/>
<g filter="url(#soft)" opacity="0.8">
<path d="M508.2,1167.5 L508.2,1167.5 L508.8,1167.4 L509.4,1167 L510.1,1166.3 L510.7,1165.3 L511.4,1164.2 L512,1163.7 L512.6,1164.2 L513.3,1165.3 L513.9,1166.3 L514.6,1167 L515.2,1167.4 L515.8,1167.5 L515.8,1167.5Z" fill="url(#BLf)"/>
<path d="M513.1,1165.8 L513.1,1165.7 L513.7,1165.6 L514.3,1165.3 L515,1164.6 L515.6,1163.5 L516.3,1162.4 L516.9,1162 L517.5,1162.4 L518.2,1163.5 L518.8,1164.6 L519.5,1165.3 L520.1,1165.6 L520.7,1165.7 L520.7,1165.8Z" fill="url(#BLf)"/>
<path d="M518,1164 L518,1164 L518.6,1163.9 L519.2,1163.6 L519.9,1162.9 L520.5,1161.8 L521.2,1160.7 L521.8,1160.2 L522.4,1160.7 L523.1,1161.8 L523.7,1162.9 L524.4,1163.6 L525,1163.9 L525.6,1164 L525.6,1164Z" fill="url(#BLf)"/>
<path d="M522.9,1162.3 L522.9,1162.2 L523.5,1162.1 L524.1,1161.8 L524.8,1161.1 L525.4,1160 L526.1,1158.9 L526.7,1158.4 L527.3,1158.9 L528,1160 L528.6,1161.1 L529.3,1161.8 L529.9,1162.1 L530.5,1162.2 L530.5,1162.3Z" fill="url(#BLf)"/>
<path d="M527.8,1160.5 L527.8,1160.5 L528.4,1160.4 L529,1160.1 L529.7,1159.3 L530.3,1158.2 L531,1157.1 L531.6,1156.6 L532.2,1157.1 L532.9,1158.2 L533.5,1159.3 L534.2,1160.1 L534.8,1160.4 L535.4,1160.5 L535.4,1160.5Z" fill="url(#BLf)"/>
<path d="M532.7,1158.8 L532.7,1158.8 L533.3,1158.6 L533.9,1158.3 L534.6,1157.6 L535.2,1156.4 L535.9,1155.2 L536.5,1154.7 L537.1,1155.2 L537.8,1156.4 L538.4,1157.6 L539.1,1158.3 L539.7,1158.6 L540.3,1158.8 L540.3,1158.8Z" fill="url(#BLf)"/>
<path d="M537.6,1157.1 L537.6,1157 L538.2,1156.9 L538.8,1156.5 L539.5,1155.8 L540.1,1154.5 L540.8,1153.3 L541.4,1152.8 L542,1153.3 L542.7,1154.5 L543.3,1155.8 L544,1156.5 L544.6,1156.9 L545.2,1157 L545.2,1157.1Z" fill="url(#BLf)"/>
<path d="M542.5,1155.3 L542.5,1155.3 L543.1,1155.2 L543.7,1154.8 L544.4,1153.9 L545,1152.7 L545.7,1151.4 L546.3,1150.8 L546.9,1151.4 L547.6,1152.7 L548.2,1153.9 L548.9,1154.8 L549.5,1155.2 L550.1,1155.3 L550.1,1155.3Z" fill="url(#BLf)"/>
<path d="M547.4,1153.6 L547.4,1153.5 L548,1153.4 L548.6,1153 L549.3,1152.1 L549.9,1150.7 L550.6,1149.4 L551.2,1148.8 L551.8,1149.4 L552.5,1150.7 L553.1,1152.1 L553.8,1153 L554.4,1153.4 L555,1153.5 L555,1153.6Z" fill="url(#BLf)"/>
<path d="M552.3,1151.8 L552.3,1151.8 L552.9,1151.6 L553.5,1151.2 L554.2,1150.3 L554.8,1148.8 L555.5,1147.3 L556.1,1146.7 L556.7,1147.3 L557.4,1148.8 L558,1150.3 L558.7,1151.2 L559.3,1151.6 L559.9,1151.8 L559.9,1151.8Z" fill="url(#BLf)"/>
<path d="M557.2,1150.1 L557.2,1150.1 L557.8,1149.9 L558.4,1149.4 L559.1,1148.4 L559.7,1146.9 L560.4,1145.3 L561,1144.6 L561.6,1145.3 L562.3,1146.9 L562.9,1148.4 L563.6,1149.4 L564.2,1149.9 L564.8,1150.1 L564.8,1150.1Z" fill="url(#BLf)"/>
<path d="M562.1,1148.4 L562.1,1148.3 L562.7,1148.1 L563.3,1147.7 L564,1146.6 L564.6,1145 L565.3,1143.3 L565.9,1142.6 L566.5,1143.3 L567.2,1145 L567.8,1146.6 L568.5,1147.7 L569.1,1148.1 L569.7,1148.3 L569.7,1148.4Z" fill="url(#BLf)"/>
<path d="M567,1146.6 L567,1146.6 L567.6,1146.4 L568.2,1145.9 L568.9,1144.8 L569.5,1143.1 L570.2,1141.4 L570.8,1140.7 L571.4,1141.4 L572.1,1143.1 L572.7,1144.8 L573.4,1145.9 L574,1146.4 L574.6,1146.6 L574.6,1146.6Z" fill="url(#BLf)"/>
<path d="M571.9,1144.9 L571.9,1144.8 L572.5,1144.7 L573.1,1144.1 L573.8,1143 L574.4,1141.3 L575.1,1139.6 L575.7,1138.9 L576.3,1139.6 L577,1141.3 L577.6,1143 L578.3,1144.1 L578.9,1144.7 L579.5,1144.8 L579.5,1144.9Z" fill="url(#BLf)"/>
<path d="M576.8,1143.1 L576.8,1143.1 L577.4,1142.9 L578,1142.4 L578.7,1141.3 L579.3,1139.6 L580,1137.9 L580.6,1137.2 L581.2,1137.9 L581.9,1139.6 L582.5,1141.3 L583.2,1142.4 L583.8,1142.9 L584.4,1143.1 L584.4,1143.1Z" fill="url(#BLf)"/>
<path d="M581.7,1141.4 L581.7,1141.3 L582.3,1141.2 L582.9,1140.7 L583.6,1139.6 L584.2,1138 L584.9,1136.4 L585.5,1135.7 L586.1,1136.4 L586.8,1138 L587.4,1139.6 L588.1,1140.7 L588.7,1141.2 L589.3,1141.3 L589.3,1141.4Z" fill="url(#BLf)"/>
<path d="M586.6,1139.7 L586.6,1139.6 L587.2,1139.5 L587.8,1139 L588.5,1138 L589.1,1136.4 L589.8,1134.9 L590.4,1134.2 L591,1134.9 L591.7,1136.4 L592.3,1138 L593,1139 L593.6,1139.5 L594.2,1139.6 L594.2,1139.7Z" fill="url(#BLf)"/>
<path d="M591.5,1137.9 L591.5,1137.9 L592.1,1137.7 L592.7,1137.3 L593.4,1136.3 L594,1134.9 L594.7,1133.4 L595.3,1132.8 L595.9,1133.4 L596.6,1134.9 L597.2,1136.3 L597.9,1137.3 L598.5,1137.7 L599.1,1137.9 L599.1,1137.9Z" fill="url(#BLf)"/>
<path d="M596.4,1136.2 L596.4,1136.1 L597,1136 L597.6,1135.6 L598.3,1134.7 L598.9,1133.3 L599.6,1132 L600.2,1131.4 L600.8,1132 L601.5,1133.3 L602.1,1134.7 L602.8,1135.6 L603.4,1136 L604,1136.1 L604,1136.2Z" fill="url(#BLf)"/>
<path d="M601.3,1134.4 L601.3,1134.4 L601.9,1134.3 L602.5,1133.9 L603.2,1133.1 L603.8,1131.8 L604.5,1130.5 L605.1,1129.9 L605.7,1130.5 L606.4,1131.8 L607,1133.1 L607.7,1133.9 L608.3,1134.3 L608.9,1134.4 L608.9,1134.4Z" fill="url(#BLf)"/>
<path d="M606.2,1132.7 L606.2,1132.7 L606.8,1132.5 L607.4,1132.2 L608.1,1131.4 L608.7,1130.2 L609.4,1129 L610,1128.4 L610.6,1129 L611.3,1130.2 L611.9,1131.4 L612.6,1132.2 L613.2,1132.5 L613.8,1132.7 L613.8,1132.7Z" fill="url(#BLf)"/>
<path d="M611.1,1131 L611.1,1130.9 L611.7,1130.8 L612.3,1130.5 L613,1129.7 L613.6,1128.6 L614.3,1127.4 L614.9,1126.9 L615.5,1127.4 L616.2,1128.6 L616.8,1129.7 L617.5,1130.5 L618.1,1130.8 L618.7,1130.9 L618.7,1131Z" fill="url(#BLf)"/>
<path d="M616,1129.2 L616,1129.2 L616.6,1129.1 L617.2,1128.7 L617.9,1128 L618.5,1126.9 L619.2,1125.8 L619.8,1125.3 L620.4,1125.8 L621.1,1126.9 L621.7,1128 L622.4,1128.7 L623,1129.1 L623.6,1129.2 L623.6,1129.2Z" fill="url(#BLf)"/>
<path d="M620.9,1127.5 L620.9,1127.4 L621.5,1127.3 L622.1,1127 L622.8,1126.3 L623.4,1125.2 L624.1,1124.1 L624.7,1123.6 L625.3,1124.1 L626,1125.2 L626.6,1126.3 L627.3,1127 L627.9,1127.3 L628.5,1127.4 L628.5,1127.5Z" fill="url(#BLf)"/>
<path d="M625.8,1125.7 L625.8,1125.7 L626.4,1125.6 L627,1125.3 L627.7,1124.6 L628.3,1123.5 L629,1122.4 L629.6,1121.9 L630.2,1122.4 L630.9,1123.5 L631.5,1124.6 L632.2,1125.3 L632.8,1125.6 L633.4,1125.7 L633.4,1125.7Z" fill="url(#BLf)"/>
<path d="M630.7,1124 L630.7,1124 L631.3,1123.9 L631.9,1123.5 L632.6,1122.8 L633.2,1121.8 L633.9,1120.7 L634.5,1120.2 L635.1,1120.7 L635.8,1121.8 L636.4,1122.8 L637.1,1123.5 L637.7,1123.9 L638.3,1124 L638.3,1124Z" fill="url(#BLf)"/>
</g>
<path filter="url(#soft2)" d="M538,1170 l107.8,-38.3 l0,2.2 l-107.8,38.3 Z" fill="#4a40d4" opacity="0.5"/>
<g filter="url(#soft)" opacity="0.8">
<path d="M534.2,1171.5 L534.2,1171.5 L534.8,1171.4 L535.4,1171.1 L536.1,1170.5 L536.7,1169.5 L537.4,1168.6 L538,1168.2 L538.6,1168.6 L539.3,1169.5 L539.9,1170.5 L540.6,1171.1 L541.2,1171.4 L541.8,1171.5 L541.8,1171.5Z" fill="url(#BLf)"/>
<path d="M539.1,1169.8 L539.1,1169.7 L539.7,1169.6 L540.3,1169.4 L541,1168.7 L541.6,1167.8 L542.3,1166.9 L542.9,1166.5 L543.5,1166.9 L544.2,1167.8 L544.8,1168.7 L545.5,1169.4 L546.1,1169.6 L546.7,1169.7 L546.7,1169.8Z" fill="url(#BLf)"/>
<path d="M544,1168 L544,1168 L544.6,1167.9 L545.2,1167.6 L545.9,1167 L546.5,1166.1 L547.2,1165.1 L547.8,1164.7 L548.4,1165.1 L549.1,1166.1 L549.7,1167 L550.4,1167.6 L551,1167.9 L551.6,1168 L551.6,1168Z" fill="url(#BLf)"/>
<path d="M548.9,1166.3 L548.9,1166.3 L549.5,1166.2 L550.1,1165.9 L550.8,1165.3 L551.4,1164.3 L552.1,1163.3 L552.7,1162.9 L553.3,1163.3 L554,1164.3 L554.6,1165.3 L555.3,1165.9 L555.9,1166.2 L556.5,1166.3 L556.5,1166.3Z" fill="url(#BLf)"/>
<path d="M553.8,1164.5 L553.8,1164.5 L554.4,1164.4 L555,1164.1 L555.7,1163.5 L556.3,1162.5 L557,1161.6 L557.6,1161.1 L558.2,1161.6 L558.9,1162.5 L559.5,1163.5 L560.2,1164.1 L560.8,1164.4 L561.4,1164.5 L561.4,1164.5Z" fill="url(#BLf)"/>
<path d="M558.7,1162.8 L558.7,1162.8 L559.3,1162.7 L559.9,1162.4 L560.6,1161.7 L561.2,1160.7 L561.9,1159.7 L562.5,1159.3 L563.1,1159.7 L563.8,1160.7 L564.4,1161.7 L565.1,1162.4 L565.7,1162.7 L566.3,1162.8 L566.3,1162.8Z" fill="url(#BLf)"/>
<path d="M563.6,1161.1 L563.6,1161 L564.2,1160.9 L564.8,1160.6 L565.5,1159.9 L566.1,1158.9 L566.8,1157.8 L567.4,1157.4 L568,1157.8 L568.7,1158.9 L569.3,1159.9 L570,1160.6 L570.6,1160.9 L571.2,1161 L571.2,1161.1Z" fill="url(#BLf)"/>
<path d="M568.5,1159.3 L568.5,1159.3 L569.1,1159.2 L569.7,1158.8 L570.4,1158.1 L571,1157 L571.7,1155.9 L572.3,1155.4 L572.9,1155.9 L573.6,1157 L574.2,1158.1 L574.9,1158.8 L575.5,1159.2 L576.1,1159.3 L576.1,1159.3Z" fill="url(#BLf)"/>
<path d="M573.4,1157.6 L573.4,1157.5 L574,1157.4 L574.6,1157.1 L575.3,1156.3 L575.9,1155.1 L576.6,1153.9 L577.2,1153.4 L577.8,1153.9 L578.5,1155.1 L579.1,1156.3 L579.8,1157.1 L580.4,1157.4 L581,1157.5 L581,1157.6Z" fill="url(#BLf)"/>
<path d="M578.3,1155.8 L578.3,1155.8 L578.9,1155.7 L579.5,1155.3 L580.2,1154.5 L580.8,1153.2 L581.5,1151.9 L582.1,1151.3 L582.7,1151.9 L583.4,1153.2 L584,1154.5 L584.7,1155.3 L585.3,1155.7 L585.9,1155.8 L585.9,1155.8Z" fill="url(#BLf)"/>
<path d="M583.2,1154.1 L583.2,1154.1 L583.8,1153.9 L584.4,1153.5 L585.1,1152.6 L585.7,1151.3 L586.4,1149.9 L587,1149.3 L587.6,1149.9 L588.3,1151.3 L588.9,1152.6 L589.6,1153.5 L590.2,1153.9 L590.8,1154.1 L590.8,1154.1Z" fill="url(#BLf)"/>
<path d="M588.1,1152.4 L588.1,1152.3 L588.7,1152.2 L589.3,1151.7 L590,1150.8 L590.6,1149.4 L591.3,1148 L591.9,1147.4 L592.5,1148 L593.2,1149.4 L593.8,1150.8 L594.5,1151.7 L595.1,1152.2 L595.7,1152.3 L595.7,1152.4Z" fill="url(#BLf)"/>
<path d="M593,1150.6 L593,1150.6 L593.6,1150.4 L594.2,1150 L594.9,1149.1 L595.5,1147.6 L596.2,1146.1 L596.8,1145.5 L597.4,1146.1 L598.1,1147.6 L598.7,1149.1 L599.4,1150 L600,1150.4 L600.6,1150.6 L600.6,1150.6Z" fill="url(#BLf)"/>
<path d="M597.9,1148.9 L597.9,1148.8 L598.5,1148.7 L599.1,1148.3 L599.8,1147.3 L600.4,1145.9 L601.1,1144.5 L601.7,1143.8 L602.3,1144.5 L603,1145.9 L603.6,1147.3 L604.3,1148.3 L604.9,1148.7 L605.5,1148.8 L605.5,1148.9Z" fill="url(#BLf)"/>
<path d="M602.8,1147.1 L602.8,1147.1 L603.4,1147 L604,1146.5 L604.7,1145.7 L605.3,1144.3 L606,1142.9 L606.6,1142.3 L607.2,1142.9 L607.9,1144.3 L608.5,1145.7 L609.2,1146.5 L609.8,1147 L610.4,1147.1 L610.4,1147.1Z" fill="url(#BLf)"/>
<path d="M607.7,1145.4 L607.7,1145.4 L608.3,1145.2 L608.9,1144.8 L609.6,1144 L610.2,1142.7 L610.9,1141.4 L611.5,1140.8 L612.1,1141.4 L612.8,1142.7 L613.4,1144 L614.1,1144.8 L614.7,1145.2 L615.3,1145.4 L615.3,1145.4Z" fill="url(#BLf)"/>
<path d="M612.6,1143.7 L612.6,1143.6 L613.2,1143.5 L613.8,1143.1 L614.5,1142.4 L615.1,1141.2 L615.8,1139.9 L616.4,1139.4 L617,1139.9 L617.7,1141.2 L618.3,1142.4 L619,1143.1 L619.6,1143.5 L620.2,1143.6 L620.2,1143.7Z" fill="url(#BLf)"/>
<path d="M617.5,1141.9 L617.5,1141.9 L618.1,1141.8 L618.7,1141.4 L619.4,1140.7 L620,1139.6 L620.7,1138.5 L621.3,1138 L621.9,1138.5 L622.6,1139.6 L623.2,1140.7 L623.9,1141.4 L624.5,1141.8 L625.1,1141.9 L625.1,1141.9Z" fill="url(#BLf)"/>
<path d="M622.4,1140.2 L622.4,1140.1 L623,1140 L623.6,1139.7 L624.3,1139 L624.9,1138 L625.6,1136.9 L626.2,1136.5 L626.8,1136.9 L627.5,1138 L628.1,1139 L628.8,1139.7 L629.4,1140 L630,1140.1 L630,1140.2Z" fill="url(#BLf)"/>
<path d="M627.3,1138.4 L627.3,1138.4 L627.9,1138.3 L628.5,1138 L629.2,1137.4 L629.8,1136.4 L630.5,1135.3 L631.1,1134.9 L631.7,1135.3 L632.4,1136.4 L633,1137.4 L633.7,1138 L634.3,1138.3 L634.9,1138.4 L634.9,1138.4Z" fill="url(#BLf)"/>
<path d="M632.2,1136.7 L632.2,1136.7 L632.8,1136.6 L633.4,1136.3 L634.1,1135.7 L634.7,1134.7 L635.4,1133.7 L636,1133.3 L636.6,1133.7 L637.3,1134.7 L637.9,1135.7 L638.6,1136.3 L639.2,1136.6 L639.8,1136.7 L639.8,1136.7Z" fill="url(#BLf)"/>
<path d="M637.1,1135 L637.1,1134.9 L637.7,1134.8 L638.3,1134.5 L639,1133.9 L639.6,1133 L640.3,1132 L640.9,1131.6 L641.5,1132 L642.2,1133 L642.8,1133.9 L643.5,1134.5 L644.1,1134.8 L644.7,1134.9 L644.7,1135Z" fill="url(#BLf)"/>
</g>
<path filter="url(#soft2)" d="M470,1154 l78.4,-27.8 l0,2.2 l-78.4,27.8 Z" fill="#4a40d4" opacity="0.5"/>
<g filter="url(#soft)" opacity="0.8">
<path d="M466.2,1155.5 L466.2,1155.5 L466.8,1155.4 L467.4,1155.1 L468.1,1154.6 L468.7,1153.7 L469.4,1152.9 L470,1152.5 L470.6,1152.9 L471.3,1153.7 L471.9,1154.6 L472.6,1155.1 L473.2,1155.4 L473.8,1155.5 L473.8,1155.5Z" fill="url(#BLf)"/>
<path d="M471.1,1153.8 L471.1,1153.7 L471.7,1153.6 L472.3,1153.4 L473,1152.8 L473.6,1152 L474.3,1151.1 L474.9,1150.8 L475.5,1151.1 L476.2,1152 L476.8,1152.8 L477.5,1153.4 L478.1,1153.6 L478.7,1153.7 L478.7,1153.8Z" fill="url(#BLf)"/>
<path d="M476,1152 L476,1152 L476.6,1151.9 L477.2,1151.7 L477.9,1151.1 L478.5,1150.2 L479.2,1149.4 L479.8,1149 L480.4,1149.4 L481.1,1150.2 L481.7,1151.1 L482.4,1151.7 L483,1151.9 L483.6,1152 L483.6,1152Z" fill="url(#BLf)"/>
<path d="M480.9,1150.3 L480.9,1150.3 L481.5,1150.2 L482.1,1149.9 L482.8,1149.4 L483.4,1148.5 L484.1,1147.6 L484.7,1147.3 L485.3,1147.6 L486,1148.5 L486.6,1149.4 L487.3,1149.9 L487.9,1150.2 L488.5,1150.3 L488.5,1150.3Z" fill="url(#BLf)"/>
<path d="M485.8,1148.5 L485.8,1148.5 L486.4,1148.4 L487,1148.2 L487.7,1147.6 L488.3,1146.8 L489,1145.9 L489.6,1145.5 L490.2,1145.9 L490.9,1146.8 L491.5,1147.6 L492.2,1148.2 L492.8,1148.4 L493.4,1148.5 L493.4,1148.5Z" fill="url(#BLf)"/>
<path d="M490.7,1146.8 L490.7,1146.8 L491.3,1146.7 L491.9,1146.4 L492.6,1145.9 L493.2,1145 L493.9,1144.2 L494.5,1143.8 L495.1,1144.2 L495.8,1145 L496.4,1145.9 L497.1,1146.4 L497.7,1146.7 L498.3,1146.8 L498.3,1146.8Z" fill="url(#BLf)"/>
<path d="M495.6,1145.1 L495.6,1145 L496.2,1144.9 L496.8,1144.7 L497.5,1144.1 L498.1,1143.3 L498.8,1142.4 L499.4,1142.1 L500,1142.4 L500.7,1143.3 L501.3,1144.1 L502,1144.7 L502.6,1144.9 L503.2,1145 L503.2,1145.1Z" fill="url(#BLf)"/>
<path d="M500.5,1143.3 L500.5,1143.3 L501.1,1143.2 L501.7,1143 L502.4,1142.4 L503,1141.5 L503.7,1140.7 L504.3,1140.3 L504.9,1140.7 L505.6,1141.5 L506.2,1142.4 L506.9,1143 L507.5,1143.2 L508.1,1143.3 L508.1,1143.3Z" fill="url(#BLf)"/>
<path d="M505.4,1141.6 L505.4,1141.6 L506,1141.5 L506.6,1141.2 L507.3,1140.6 L507.9,1139.8 L508.6,1138.9 L509.2,1138.5 L509.8,1138.9 L510.5,1139.8 L511.1,1140.6 L511.8,1141.2 L512.4,1141.5 L513,1141.6 L513,1141.6Z" fill="url(#BLf)"/>
<path d="M510.3,1139.8 L510.3,1139.8 L510.9,1139.7 L511.5,1139.5 L512.2,1138.9 L512.8,1138 L513.5,1137.1 L514.1,1136.7 L514.7,1137.1 L515.4,1138 L516,1138.9 L516.7,1139.5 L517.3,1139.7 L517.9,1139.8 L517.9,1139.8Z" fill="url(#BLf)"/>
<path d="M515.2,1138.1 L515.2,1138.1 L515.8,1138 L516.4,1137.7 L517.1,1137.1 L517.7,1136.1 L518.4,1135.2 L519,1134.8 L519.6,1135.2 L520.3,1136.1 L520.9,1137.1 L521.6,1137.7 L522.2,1138 L522.8,1138.1 L522.8,1138.1Z" fill="url(#BLf)"/>
<path d="M520.1,1136.4 L520.1,1136.3 L520.7,1136.2 L521.3,1135.9 L522,1135.3 L522.6,1134.2 L523.3,1133.2 L523.9,1132.8 L524.5,1133.2 L525.2,1134.2 L525.8,1135.3 L526.5,1135.9 L527.1,1136.2 L527.7,1136.3 L527.7,1136.4Z" fill="url(#BLf)"/>
<path d="M525,1134.6 L525,1134.6 L525.6,1134.5 L526.2,1134.1 L526.9,1133.4 L527.5,1132.3 L528.2,1131.2 L528.8,1130.7 L529.4,1131.2 L530.1,1132.3 L530.7,1133.4 L531.4,1134.1 L532,1134.5 L532.6,1134.6 L532.6,1134.6Z" fill="url(#BLf)"/>
<path d="M529.9,1132.9 L529.9,1132.8 L530.5,1132.7 L531.1,1132.4 L531.8,1131.6 L532.4,1130.4 L533.1,1129.1 L533.7,1128.6 L534.3,1129.1 L535,1130.4 L535.6,1131.6 L536.3,1132.4 L536.9,1132.7 L537.5,1132.8 L537.5,1132.9Z" fill="url(#BLf)"/>
<path d="M534.8,1131.1 L534.8,1131.1 L535.4,1131 L536,1130.6 L536.7,1129.8 L537.3,1128.5 L538,1127.2 L538.6,1126.7 L539.2,1127.2 L539.9,1128.5 L540.5,1129.8 L541.2,1130.6 L541.8,1131 L542.4,1131.1 L542.4,1131.1Z" fill="url(#BLf)"/>
<path d="M539.7,1129.4 L539.7,1129.4 L540.3,1129.2 L540.9,1128.9 L541.6,1128 L542.2,1126.8 L542.9,1125.5 L543.5,1124.9 L544.1,1125.5 L544.8,1126.8 L545.4,1128 L546.1,1128.9 L546.7,1129.2 L547.3,1129.4 L547.3,1129.4Z" fill="url(#BLf)"/>
</g>
<g filter="url(#soft)" opacity="0.95">
<path d="M508.4,1123 L508.4,1122.9 L509.5,1122.6 L510.5,1121.8 L511.6,1119.9 L512.7,1117.1 L513.7,1114.2 L514.8,1113 L515.9,1114.2 L516.9,1117.1 L518,1119.9 L519.1,1121.8 L520.1,1122.6 L521.2,1122.9 L521.2,1123Z" fill="url(#BLf)"/>
<path d="M581,1115 L581,1114.8 L582.1,1114.3 L583.3,1112.7 L584.5,1109.2 L585.7,1103.9 L586.8,1098.5 L588,1096.2 L589.2,1098.5 L590.3,1103.9 L591.5,1109.2 L592.7,1112.7 L593.9,1114.3 L595,1114.8 L595,1115Z" fill="url(#BLf)"/>
<path d="M478.5,1146 L478.5,1146 L479.4,1145.8 L480.3,1145.3 L481.2,1144.3 L482.1,1142.7 L483,1141.2 L483.9,1140.5 L484.8,1141.2 L485.7,1142.7 L486.6,1144.3 L487.5,1145.3 L488.4,1145.8 L489.3,1146 L489.3,1146Z" fill="url(#BLf)"/>
</g>
<g filter="url(#soft)" opacity="0.9">
<path d="M544.1,1135 L544.1,1134.8 L545,1134.3 L545.9,1132.8 L546.8,1129.5 L547.7,1124.4 L548.6,1119.2 L549.5,1117 L550.4,1119.2 L551.3,1124.4 L552.2,1129.5 L553.1,1132.8 L554,1134.3 L554.9,1134.8 L554.9,1135Z" fill="url(#BLf)"/>
<path d="M557.6,1135 L557.6,1134.8 L558.5,1134.2 L559.4,1132.3 L560.3,1128.3 L561.2,1122 L562.1,1115.7 L563,1113 L563.9,1115.7 L564.8,1122 L565.7,1128.3 L566.6,1132.3 L567.5,1134.2 L568.4,1134.8 L568.4,1135Z" fill="url(#BLf)"/>
<path d="M563.4,1137 L563.4,1136.9 L564.2,1136.4 L565.1,1135 L565.9,1132.1 L566.8,1127.5 L567.6,1123 L568.5,1121 L569.4,1123 L570.2,1127.5 L571.1,1132.1 L571.9,1135 L572.8,1136.4 L573.6,1136.9 L573.6,1137Z" fill="url(#BLf)"/>
<path d="M569.2,1138 L569.2,1137.9 L570,1137.5 L570.8,1136.4 L571.6,1134 L572.4,1130.3 L573.2,1126.6 L574,1125 L574.8,1126.6 L575.6,1130.3 L576.4,1134 L577.2,1136.4 L578,1137.5 L578.8,1137.9 L578.8,1138Z" fill="url(#BLf)"/>
<path d="M538.9,1139 L538.9,1138.9 L539.7,1138.5 L540.6,1137.4 L541.4,1135 L542.3,1131.3 L543.1,1127.6 L544,1126 L544.9,1127.6 L545.7,1131.3 L546.6,1135 L547.4,1137.4 L548.3,1138.5 L549.1,1138.9 L549.1,1139Z" fill="url(#BLf)"/>
<path d="M533.7,1143 L533.7,1142.9 L534.5,1142.6 L535.3,1141.7 L536.1,1139.6 L536.9,1136.5 L537.7,1133.4 L538.5,1132 L539.3,1133.4 L540.1,1136.5 L540.9,1139.6 L541.7,1141.7 L542.5,1142.6 L543.3,1142.9 L543.3,1143Z" fill="url(#BLf)"/>
<path d="M528.2,1146 L528.2,1145.9 L529,1145.6 L529.8,1144.8 L530.6,1142.9 L531.4,1140.1 L532.2,1137.2 L533,1136 L533.8,1137.2 L534.6,1140.1 L535.4,1142.9 L536.2,1144.8 L537,1145.6 L537.8,1145.9 L537.8,1146Z" fill="url(#BLf)"/>
<path d="M523,1149 L523,1148.9 L523.8,1148.6 L524.5,1147.8 L525.3,1146.1 L526,1143.4 L526.8,1140.7 L527.5,1139.5 L528.2,1140.7 L529,1143.4 L529.7,1146.1 L530.5,1147.8 L531.2,1148.6 L532,1148.9 L532,1149Z" fill="url(#BLf)"/>
</g>
<g filter="url(#soft)" opacity="0.95">
<path d="M609.2,1118 L609.2,1117.9 L610.1,1117.5 L611,1116.3 L611.9,1113.7 L612.8,1109.7 L613.7,1105.7 L614.6,1104 L615.5,1105.7 L616.4,1109.7 L617.3,1113.7 L618.2,1116.3 L619.1,1117.5 L620,1117.9 L620,1118Z" fill="url(#BLf)"/>
<path d="M613.2,1122 L613.2,1121.9 L614,1121.5 L614.9,1120.4 L615.7,1118 L616.6,1114.3 L617.4,1110.6 L618.3,1109 L619.2,1110.6 L620,1114.3 L620.9,1118 L621.7,1120.4 L622.6,1121.5 L623.4,1121.9 L623.4,1122Z" fill="url(#BLf)"/>
<path d="M630.6,1124 L630.6,1123.8 L631.5,1123.3 L632.4,1121.6 L633.3,1118.1 L634.2,1112.5 L635.1,1107 L636,1104.6 L636.9,1107 L637.8,1112.5 L638.7,1118.1 L639.6,1121.6 L640.5,1123.3 L641.4,1123.8 L641.4,1124Z" fill="url(#BLf)"/>
<path d="M636.9,1126 L636.9,1125.9 L637.7,1125.5 L638.6,1124.3 L639.4,1121.8 L640.3,1117.9 L641.1,1114 L642,1112.3 L642.9,1114 L643.7,1117.9 L644.6,1121.8 L645.4,1124.3 L646.3,1125.5 L647.1,1125.9 L647.1,1126Z" fill="url(#BLf)"/>
<path d="M642,1127 L642,1126.9 L642.8,1126.5 L643.6,1125.5 L644.4,1123.2 L645.2,1119.6 L646,1116 L646.8,1114.5 L647.6,1116 L648.4,1119.6 L649.2,1123.2 L650,1125.5 L650.8,1126.5 L651.6,1126.9 L651.6,1127Z" fill="url(#BLf)"/>
<path d="M646.8,1127.5 L646.8,1127.4 L647.6,1127.1 L648.4,1126 L649.2,1123.9 L650,1120.5 L650.8,1117.1 L651.6,1115.6 L652.4,1117.1 L653.2,1120.5 L654,1123.9 L654.8,1126 L655.6,1127.1 L656.4,1127.4 L656.4,1127.5Z" fill="url(#BLf)"/>
<path d="M651.5,1128.5 L651.5,1128.4 L652.3,1128.1 L653,1127.3 L653.8,1125.6 L654.5,1122.8 L655.3,1120.1 L656,1118.9 L656.7,1120.1 L657.5,1122.8 L658.2,1125.6 L659,1127.3 L659.7,1128.1 L660.5,1128.4 L660.5,1128.5Z" fill="url(#BLf)"/>
<path d="M656.3,1129.5 L656.3,1129.4 L657,1129.2 L657.7,1128.6 L658.4,1127.4 L659.1,1125.4 L659.8,1123.4 L660.5,1122.5 L661.2,1123.4 L661.9,1125.4 L662.6,1127.4 L663.3,1128.6 L664,1129.2 L664.7,1129.4 L664.7,1129.5Z" fill="url(#BLf)"/>
<path d="M605.2,1125 L605.2,1124.9 L606,1124.6 L606.8,1123.7 L607.6,1121.6 L608.4,1118.5 L609.2,1115.4 L610,1114 L610.8,1115.4 L611.6,1118.5 L612.4,1121.6 L613.2,1123.7 L614,1124.6 L614.8,1124.9 L614.8,1125Z" fill="url(#BLf)"/>
<path d="M600.2,1128 L600.2,1127.9 L601,1127.6 L601.8,1126.8 L602.6,1124.9 L603.4,1122.1 L604.2,1119.2 L605,1118 L605.8,1119.2 L606.6,1122.1 L607.4,1124.9 L608.2,1126.8 L609,1127.6 L609.8,1127.9 L609.8,1128Z" fill="url(#BLf)"/>
<path d="M595.5,1130 L595.5,1129.9 L596.3,1129.7 L597,1128.9 L597.8,1127.2 L598.5,1124.7 L599.3,1122.1 L600,1121 L600.7,1122.1 L601.5,1124.7 L602.2,1127.2 L603,1128.9 L603.7,1129.7 L604.5,1129.9 L604.5,1130Z" fill="url(#BLf)"/>
</g>
<path d="M540.8,1143 L540.8,1142.7 L543.5,1141.9 L546.1,1139.5 L548.8,1134.1 L551.5,1125.9 L554.1,1117.6 L556.8,1114 L559.5,1117.6 L562.1,1125.9 L564.8,1134.1 L567.5,1139.5 L570.1,1141.9 L572.8,1142.7 L572.8,1143Z" fill="url(#g20)"/>
<polygon points="556.3,1038.2 556,1045.3 555.6,1052.3 555.2,1059.4 554.8,1066.4 554.4,1073.5 554,1080.5 553.6,1087.6 553.2,1094.7 552.8,1101.7 552.3,1108.8 551.8,1115.8 551.3,1122.9 550.6,1129.9 549.9,1137 563.6,1137 563,1129.9 562.3,1122.9 561.8,1115.8 561.3,1108.8 560.8,1101.7 560.4,1094.7 560,1087.6 559.6,1080.5 559.2,1073.5 558.8,1066.4 558.4,1059.4 558,1052.3 557.6,1045.3 557.2,1038.2" fill="url(#g20)"/>
<path d="M613.3,1135 L613.3,1134.7 L616,1133.9 L618.6,1131.5 L621.3,1126.1 L624,1117.9 L626.6,1109.6 L629.3,1106 L632,1109.6 L634.6,1117.9 L637.3,1126.1 L640,1131.5 L642.6,1133.9 L645.3,1134.7 L645.3,1135Z" fill="url(#g19)"/>
<polygon points="628.8,1015.2 628.4,1023.3 628,1031.5 627.6,1039.6 627.2,1047.7 626.8,1055.8 626.4,1064 626,1072.1 625.6,1080.2 625.1,1088.4 624.7,1096.5 624.2,1104.6 623.6,1112.7 623,1120.9 622.2,1129 636.3,1129 635.6,1120.9 635,1112.7 634.4,1104.6 633.9,1096.5 633.5,1088.4 633,1080.2 632.6,1072.1 632.2,1064 631.8,1055.8 631.4,1047.7 631,1039.6 630.6,1031.5 630.2,1023.3 629.8,1015.2" fill="url(#g19)"/>
<path d="M596,1153 l4.5,-2.6 l3,0.6 l-3.5,2.4 Z" fill="#fff" opacity="0.9"/>
<circle cx="556.8" cy="1037.2" r="5.9" fill="url(#glow)"/><circle cx="556.8" cy="1037.2" r="3.4" fill="#e97d30"/>
<circle cx="629.3" cy="1014.2" r="5.9" fill="url(#glow)"/><circle cx="629.3" cy="1014.2" r="3.4" fill="#e97d30"/>
</g>
<path d="M391,1129.2 L529,1177 L665.8,1128.5 M391.7,1129.1 l-3,1.1 M458.3,1152.2 l-3,1.1 M527.6,1176.2 l-3,1.1 M554.4,1167.7 l3,1 M600.5,1151.3 l3,1 M646.5,1135 l3,1" fill="none" stroke="#555" stroke-width="0.55" opacity="0.75"/>
<text x="379.3" y="1143.1" font-size="11.6" fill="#2a2a2a" text-anchor="middle" font-weight="bold">10</text>
<text x="450.8" y="1166.7" font-size="11.6" fill="#2a2a2a" text-anchor="middle" font-weight="bold">5</text>
<text x="519.1" y="1191.1" font-size="11.6" fill="#2a2a2a" text-anchor="middle" font-weight="bold">0</text>
<text x="568.1" y="1183.1" font-size="11.6" fill="#2a2a2a" text-anchor="middle" font-weight="bold">-10</text>
<text x="608.3" y="1166.7" font-size="11.6" fill="#2a2a2a" text-anchor="middle" font-weight="bold">0</text>
<text x="657" y="1150.7" font-size="11.6" fill="#2a2a2a" text-anchor="middle" font-weight="bold">10</text>
<text transform="translate(438.7,1200) rotate(16) scale(0.879,1)" font-size="14.6" fill="#161616" text-anchor="middle">Range (km)</text>
<text transform="translate(625.3,1195.9) rotate(-12.6) scale(0.802,1)" font-size="14.6" fill="#161616" text-anchor="middle">Velocity (m/s)</text>
<text x="364.8" y="992.5" font-size="31.5" fill="#000" text-anchor="start" font-weight="normal">h</text>
<text x="405.4" y="999.9" font-size="15.1" fill="#1c3874" text-anchor="start" font-weight="normal" stroke="#1c3874" stroke-width="0.22">Meas. R1: 3.01 km</text>
<text x="452.6" y="1018.3" font-size="15.1" fill="#1c3874" text-anchor="start" font-weight="normal" stroke="#1c3874" stroke-width="0.22">V1: 0.1 m/s</text>
<text x="452.1" y="1046.4" font-size="15.1" fill="#1c3874" text-anchor="start" font-weight="normal" stroke="#1c3874" stroke-width="0.22">R2: 1.02 km</text>
<text x="452.6" y="1064.6" font-size="15.1" fill="#1c3874" text-anchor="start" font-weight="normal" stroke="#1c3874" stroke-width="0.22">V2: 10.04 m/s</text>
<text x="212.5" y="1239.6" font-size="15.1" fill="#000" text-anchor="start" font-weight="normal" stroke="#000" stroke-width="0.22">Settings target 1: R1: 3 km V1: 0 m/s</text>
<text x="246.7" y="1257.4" font-size="15.1" fill="#000" text-anchor="start" font-weight="normal" stroke="#000" stroke-width="0.22">target 2: R2: 1 km V2: 10 m/s</text>
</g>
</svg>
</body></html>
